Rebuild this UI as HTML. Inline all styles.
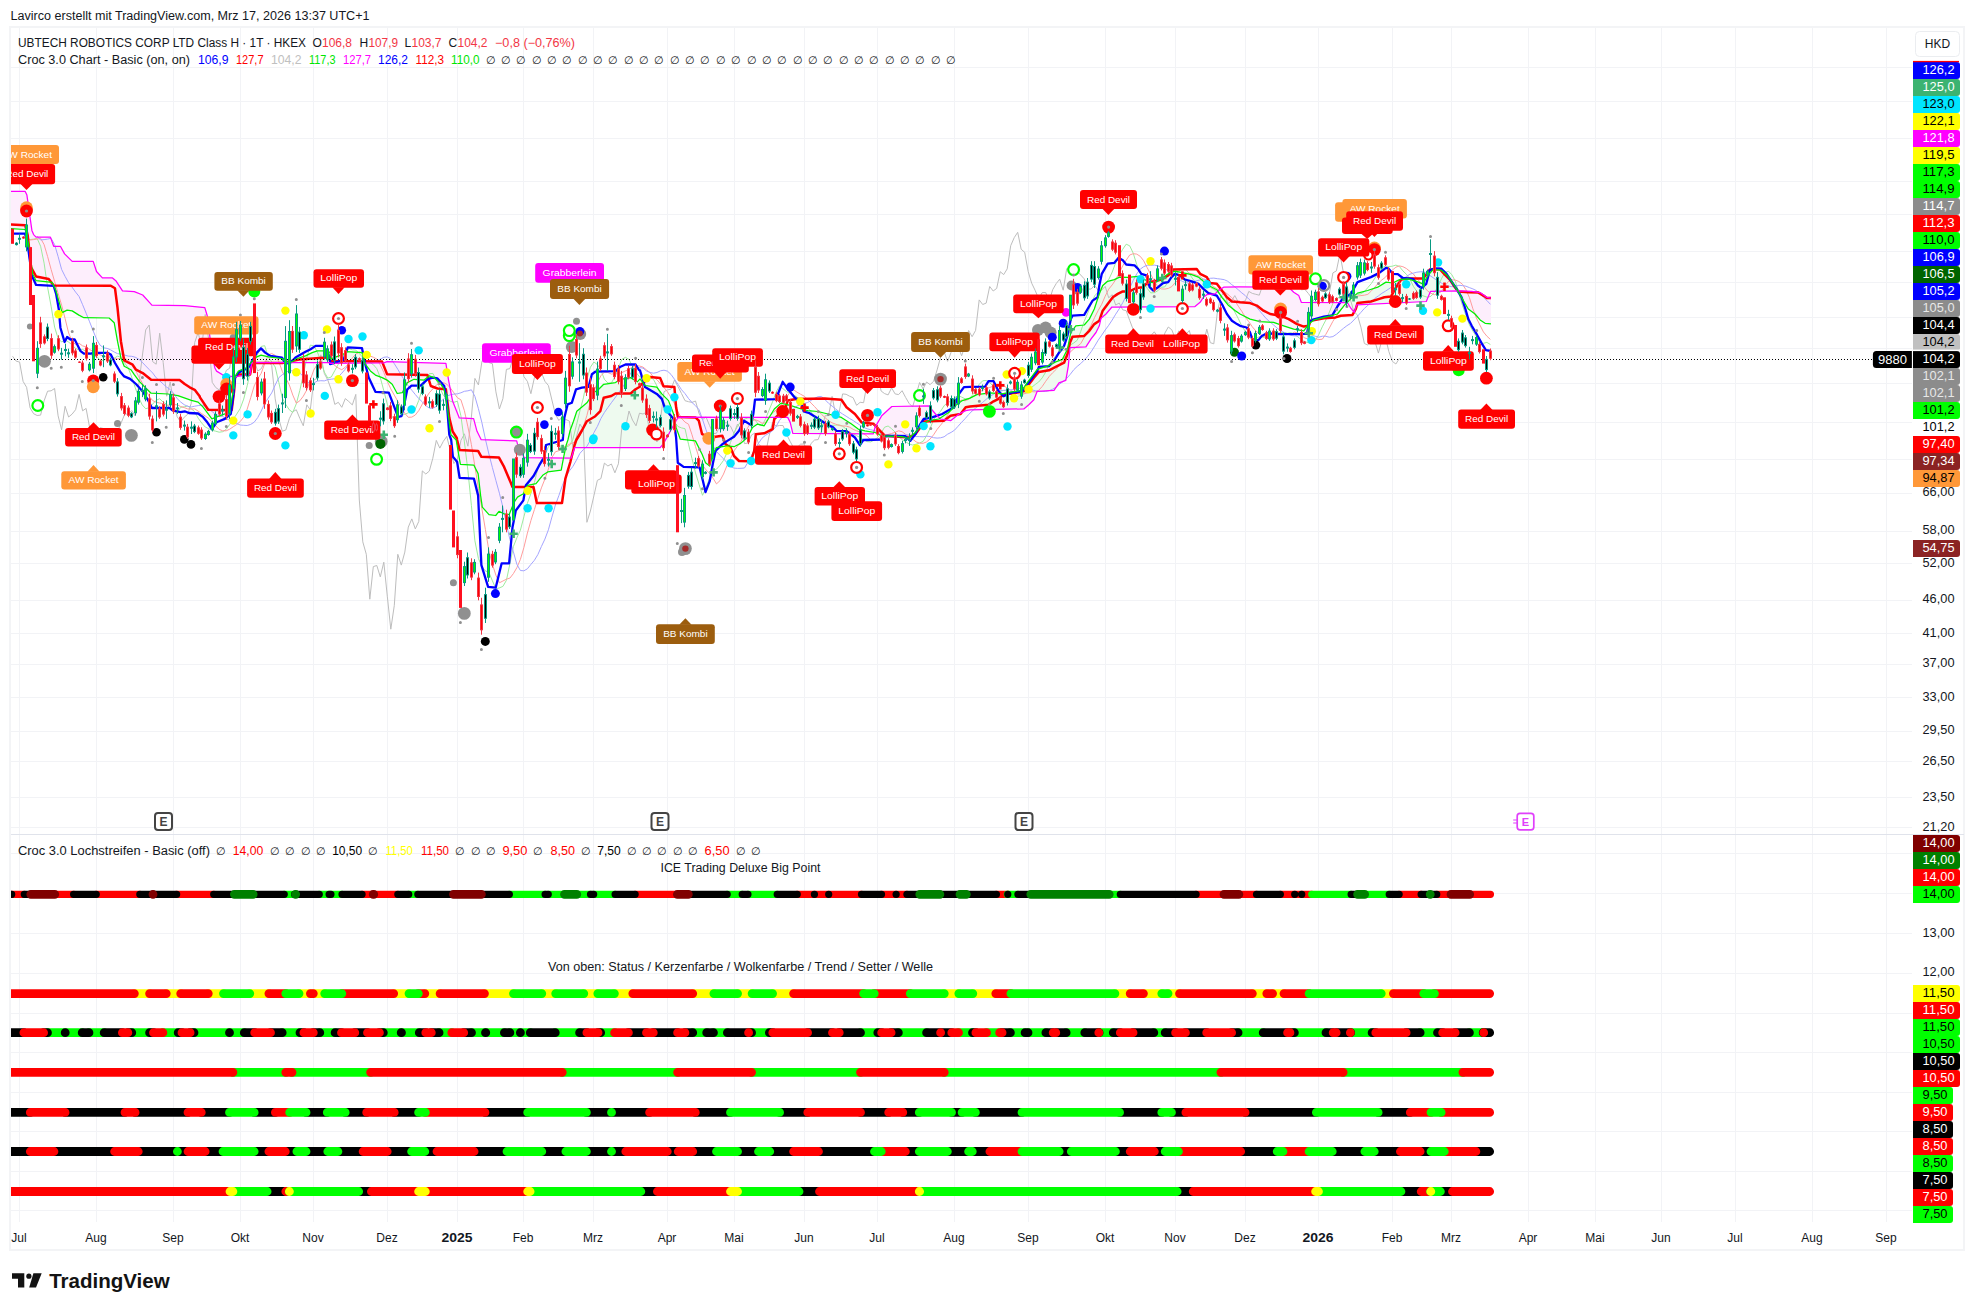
<!DOCTYPE html>
<html><head><meta charset="utf-8"><title>chart</title>
<style>html,body{margin:0;padding:0;background:#fff;}body{width:1974px;height:1311px;overflow:hidden;font-family:"Liberation Sans",sans-serif;}svg{display:block}text{font-family:"Liberation Sans",sans-serif}</style>
</head><body>
<svg width="1974" height="1311" viewBox="0 0 1974 1311">
<rect x="0" y="0" width="1974" height="1311" fill="#fff"/>
<rect x="10" y="27" width="1954" height="1223" fill="#fff" stroke="#f3f4f6" stroke-width="2"/>
<line x1="19.5" y1="28" x2="19.5" y2="1222" stroke="#f2f3f6" stroke-width="1"/>
<line x1="96.5" y1="28" x2="96.5" y2="1222" stroke="#f2f3f6" stroke-width="1"/>
<line x1="173.5" y1="28" x2="173.5" y2="1222" stroke="#f2f3f6" stroke-width="1"/>
<line x1="240.5" y1="28" x2="240.5" y2="1222" stroke="#f2f3f6" stroke-width="1"/>
<line x1="313.5" y1="28" x2="313.5" y2="1222" stroke="#f2f3f6" stroke-width="1"/>
<line x1="387.5" y1="28" x2="387.5" y2="1222" stroke="#f2f3f6" stroke-width="1"/>
<line x1="457.5" y1="28" x2="457.5" y2="1222" stroke="#f2f3f6" stroke-width="1"/>
<line x1="523.5" y1="28" x2="523.5" y2="1222" stroke="#f2f3f6" stroke-width="1"/>
<line x1="593.5" y1="28" x2="593.5" y2="1222" stroke="#f2f3f6" stroke-width="1"/>
<line x1="667.5" y1="28" x2="667.5" y2="1222" stroke="#f2f3f6" stroke-width="1"/>
<line x1="734.5" y1="28" x2="734.5" y2="1222" stroke="#f2f3f6" stroke-width="1"/>
<line x1="804.5" y1="28" x2="804.5" y2="1222" stroke="#f2f3f6" stroke-width="1"/>
<line x1="877.5" y1="28" x2="877.5" y2="1222" stroke="#f2f3f6" stroke-width="1"/>
<line x1="954.5" y1="28" x2="954.5" y2="1222" stroke="#f2f3f6" stroke-width="1"/>
<line x1="1028.5" y1="28" x2="1028.5" y2="1222" stroke="#f2f3f6" stroke-width="1"/>
<line x1="1105.5" y1="28" x2="1105.5" y2="1222" stroke="#f2f3f6" stroke-width="1"/>
<line x1="1175.5" y1="28" x2="1175.5" y2="1222" stroke="#f2f3f6" stroke-width="1"/>
<line x1="1245.5" y1="28" x2="1245.5" y2="1222" stroke="#f2f3f6" stroke-width="1"/>
<line x1="1318.5" y1="28" x2="1318.5" y2="1222" stroke="#f2f3f6" stroke-width="1"/>
<line x1="1392.5" y1="28" x2="1392.5" y2="1222" stroke="#f2f3f6" stroke-width="1"/>
<line x1="1451.5" y1="28" x2="1451.5" y2="1222" stroke="#f2f3f6" stroke-width="1"/>
<line x1="1528.5" y1="28" x2="1528.5" y2="1222" stroke="#f2f3f6" stroke-width="1"/>
<line x1="1595.5" y1="28" x2="1595.5" y2="1222" stroke="#f2f3f6" stroke-width="1"/>
<line x1="1661.5" y1="28" x2="1661.5" y2="1222" stroke="#f2f3f6" stroke-width="1"/>
<line x1="1735.5" y1="28" x2="1735.5" y2="1222" stroke="#f2f3f6" stroke-width="1"/>
<line x1="1812.5" y1="28" x2="1812.5" y2="1222" stroke="#f2f3f6" stroke-width="1"/>
<line x1="1886.5" y1="28" x2="1886.5" y2="1222" stroke="#f2f3f6" stroke-width="1"/>
<line x1="11" y1="67.5" x2="1912" y2="67.5" stroke="#f2f3f6" stroke-width="1"/>
<line x1="11" y1="101.5" x2="1912" y2="101.5" stroke="#f2f3f6" stroke-width="1"/>
<line x1="11" y1="138.5" x2="1912" y2="138.5" stroke="#f2f3f6" stroke-width="1"/>
<line x1="11" y1="181.5" x2="1912" y2="181.5" stroke="#f2f3f6" stroke-width="1"/>
<line x1="11" y1="214.5" x2="1912" y2="214.5" stroke="#f2f3f6" stroke-width="1"/>
<line x1="11" y1="251.5" x2="1912" y2="251.5" stroke="#f2f3f6" stroke-width="1"/>
<line x1="11" y1="282.5" x2="1912" y2="282.5" stroke="#f2f3f6" stroke-width="1"/>
<line x1="11" y1="317.5" x2="1912" y2="317.5" stroke="#f2f3f6" stroke-width="1"/>
<line x1="11" y1="348.5" x2="1912" y2="348.5" stroke="#f2f3f6" stroke-width="1"/>
<line x1="11" y1="383.5" x2="1912" y2="383.5" stroke="#f2f3f6" stroke-width="1"/>
<line x1="11" y1="422.5" x2="1912" y2="422.5" stroke="#f2f3f6" stroke-width="1"/>
<line x1="11" y1="459.5" x2="1912" y2="459.5" stroke="#f2f3f6" stroke-width="1"/>
<line x1="11" y1="493.5" x2="1912" y2="493.5" stroke="#f2f3f6" stroke-width="1"/>
<line x1="11" y1="531.5" x2="1912" y2="531.5" stroke="#f2f3f6" stroke-width="1"/>
<line x1="11" y1="563.5" x2="1912" y2="563.5" stroke="#f2f3f6" stroke-width="1"/>
<line x1="11" y1="600.5" x2="1912" y2="600.5" stroke="#f2f3f6" stroke-width="1"/>
<line x1="11" y1="633.5" x2="1912" y2="633.5" stroke="#f2f3f6" stroke-width="1"/>
<line x1="11" y1="664.5" x2="1912" y2="664.5" stroke="#f2f3f6" stroke-width="1"/>
<line x1="11" y1="697.5" x2="1912" y2="697.5" stroke="#f2f3f6" stroke-width="1"/>
<line x1="11" y1="731.5" x2="1912" y2="731.5" stroke="#f2f3f6" stroke-width="1"/>
<line x1="11" y1="761.5" x2="1912" y2="761.5" stroke="#f2f3f6" stroke-width="1"/>
<line x1="11" y1="797.5" x2="1912" y2="797.5" stroke="#f2f3f6" stroke-width="1"/>
<line x1="11" y1="827.5" x2="1912" y2="827.5" stroke="#f2f3f6" stroke-width="1"/>
<line x1="11" y1="853.5" x2="1912" y2="853.5" stroke="#f2f3f6" stroke-width="1"/>
<line x1="11" y1="893.5" x2="1912" y2="893.5" stroke="#f2f3f6" stroke-width="1"/>
<line x1="11" y1="933.5" x2="1912" y2="933.5" stroke="#f2f3f6" stroke-width="1"/>
<line x1="11" y1="973.5" x2="1912" y2="973.5" stroke="#f2f3f6" stroke-width="1"/>
<line x1="11" y1="1013.5" x2="1912" y2="1013.5" stroke="#f2f3f6" stroke-width="1"/>
<line x1="11" y1="1052.5" x2="1912" y2="1052.5" stroke="#f2f3f6" stroke-width="1"/>
<line x1="11" y1="1092.5" x2="1912" y2="1092.5" stroke="#f2f3f6" stroke-width="1"/>
<line x1="11" y1="1131.5" x2="1912" y2="1131.5" stroke="#f2f3f6" stroke-width="1"/>
<line x1="11" y1="1171.5" x2="1912" y2="1171.5" stroke="#f2f3f6" stroke-width="1"/>
<line x1="11" y1="1210.5" x2="1912" y2="1210.5" stroke="#f2f3f6" stroke-width="1"/>
<line x1="11" y1="834.5" x2="1964" y2="834.5" stroke="#e0e3eb" stroke-width="1"/>
<defs><clipPath id="clipL"><rect x="11" y="835" width="1901" height="387"/></clipPath><clipPath id="clipM"><rect x="11" y="28" width="1901" height="806"/></clipPath></defs>
<g clip-path="url(#clipM)"><polygon points="10.0,191.4 11.0,191.4 12.0,191.4 13.0,191.4 14.0,191.4 15.0,191.4 16.0,191.4 17.0,191.4 18.0,191.4 19.0,191.4 20.0,191.4 21.0,191.4 22.0,191.4 23.0,191.4 24.0,191.4 25.0,191.4 26.0,193.2 27.0,196.1 28.0,203.1 29.0,210.1 30.0,217.1 31.0,224.1 32.0,230.6 33.0,233.1 34.0,235.0 35.0,236.0 36.0,237.0 37.0,237.1 38.0,237.1 39.0,237.1 40.0,237.1 41.0,237.1 42.0,237.1 43.0,237.1 44.0,237.1 45.0,237.1 46.0,237.1 47.0,237.1 48.0,237.1 49.0,237.1 50.0,237.1 51.0,238.8 52.0,241.6 53.0,244.3 54.0,246.3 55.0,246.3 56.0,246.3 57.0,246.3 58.0,246.3 59.0,246.3 60.0,246.3 61.0,247.3 62.0,249.1 63.0,250.9 64.0,252.7 65.0,254.2 66.0,255.2 67.0,256.2 68.0,257.2 69.0,258.2 70.0,259.2 71.0,260.2 72.0,261.2 73.0,261.4 74.0,261.4 75.0,261.4 76.0,261.4 77.0,261.4 78.0,261.4 79.0,261.4 80.0,261.4 81.0,261.4 82.0,261.4 83.0,261.4 84.0,261.4 85.0,261.4 86.0,261.4 87.0,261.4 88.0,261.4 89.0,261.4 90.0,261.4 91.0,261.4 92.0,261.4 93.0,261.4 94.0,263.9 95.0,266.9 96.0,269.9 97.0,272.0 98.0,273.1 99.0,274.2 100.0,275.3 101.0,276.3 102.0,277.4 103.0,277.9 104.0,277.9 105.0,277.9 106.0,277.9 107.0,277.9 108.0,277.9 109.0,277.9 110.0,277.9 111.0,277.9 112.0,277.9 113.0,278.3 114.0,279.2 115.0,280.0 116.0,281.0 117.0,282.5 118.0,284.0 119.0,285.5 120.0,287.0 121.0,288.5 122.0,290.0 123.0,290.8 124.0,290.9 125.0,291.0 126.0,291.0 127.0,291.1 128.0,291.2 129.0,291.3 130.0,291.3 131.0,291.4 132.0,291.5 133.0,291.5 134.0,291.6 135.0,291.9 136.0,292.3 137.0,292.7 138.0,293.1 139.0,293.5 140.0,293.9 141.0,294.3 142.0,294.7 143.0,295.3 144.0,296.4 145.0,297.5 146.0,298.6 147.0,299.7 148.0,300.8 149.0,301.9 150.0,303.0 151.0,304.1 152.0,305.1 153.0,305.1 154.0,305.1 155.0,305.1 156.0,305.1 157.0,305.1 158.0,305.2 159.0,305.2 160.0,305.2 161.0,305.2 162.0,305.2 163.0,305.2 164.0,305.2 165.0,305.3 166.0,305.3 167.0,305.3 168.0,305.3 169.0,305.3 170.0,305.3 171.0,305.4 172.0,305.4 173.0,305.4 174.0,305.4 175.0,305.4 176.0,305.4 177.0,305.4 178.0,305.5 179.0,305.5 180.0,305.5 181.0,305.5 182.0,305.5 183.0,305.5 184.0,305.6 185.0,305.6 186.0,305.7 187.0,305.8 188.0,305.9 189.0,306.0 190.0,306.1 191.0,306.2 192.0,306.3 193.0,306.4 194.0,306.5 195.0,306.6 196.0,306.7 197.0,306.8 198.0,306.9 199.0,307.0 200.0,307.1 201.0,307.2 202.0,307.3 203.0,307.4 204.0,307.5 205.0,308.2 206.0,311.6 207.0,314.9 208.0,321.4 209.0,329.4 210.0,337.4 211.0,345.4 212.0,353.4 213.0,359.3 214.0,363.9 215.0,368.2 216.0,370.1 217.0,371.3 218.0,372.0 219.0,372.6 220.0,373.2 221.0,373.8 222.0,374.5 223.0,375.1 224.0,375.4 225.0,375.5 226.0,375.6 227.0,375.8 228.0,375.9 229.0,376.1 230.0,376.2 231.0,376.4 232.0,376.5 233.0,376.6 234.0,376.8 235.0,376.9 236.0,376.8 236.0,375.2 235.0,377.1 234.0,384.4 233.0,391.7 232.0,398.4 231.0,404.4 230.0,410.4 229.0,411.2 228.0,411.8 227.0,412.5 226.0,413.2 225.0,413.8 224.0,414.2 223.0,414.6 222.0,415.0 221.0,415.3 220.0,415.7 219.0,416.1 218.0,416.5 217.0,416.9 216.0,417.3 215.0,417.7 214.0,418.1 213.0,418.4 212.0,418.8 211.0,417.7 210.0,416.4 209.0,415.0 208.0,413.7 207.0,412.3 206.0,411.0 205.0,409.7 204.0,408.3 203.0,407.0 202.0,406.0 201.0,405.0 200.0,404.0 199.0,403.0 198.0,402.1 197.0,401.8 196.0,401.6 195.0,401.3 194.0,401.1 193.0,400.8 192.0,400.6 191.0,400.3 190.0,400.0 189.0,399.6 188.0,399.2 187.0,398.9 186.0,398.5 185.0,398.2 184.0,397.8 183.0,397.5 182.0,397.1 181.0,396.8 180.0,396.4 179.0,396.1 178.0,395.7 177.0,395.6 176.0,395.4 175.0,395.2 174.0,395.1 173.0,394.9 172.0,394.7 171.0,394.6 170.0,394.4 169.0,394.2 168.0,394.1 167.0,394.0 166.0,393.9 165.0,393.9 164.0,393.8 163.0,393.8 162.0,393.7 161.0,393.7 160.0,393.6 159.0,393.6 158.0,393.5 157.0,393.5 156.0,393.4 155.0,393.4 154.0,393.3 153.0,393.3 152.0,393.2 151.0,393.1 150.0,392.1 149.0,391.1 148.0,390.1 147.0,389.1 146.0,388.1 145.0,387.1 144.0,386.1 143.0,385.1 142.0,384.1 141.0,383.1 140.0,382.1 139.0,381.0 138.0,379.7 137.0,378.3 136.0,377.0 135.0,375.7 134.0,374.3 133.0,372.8 132.0,371.3 131.0,369.8 130.0,369.2 129.0,368.7 128.0,368.2 127.0,367.7 126.0,367.2 125.0,366.7 124.0,365.8 123.0,363.3 122.0,360.8 121.0,358.3 120.0,353.6 119.0,348.6 118.0,343.6 117.0,338.4 116.0,332.9 115.0,327.4 114.0,322.5 113.0,321.6 112.0,320.7 111.0,319.7 110.0,318.8 109.0,318.0 108.0,318.0 107.0,318.0 106.0,317.9 105.0,317.9 104.0,317.9 103.0,317.9 102.0,317.9 101.0,317.9 100.0,317.9 99.0,317.9 98.0,317.8 97.0,317.8 96.0,317.8 95.0,317.8 94.0,317.8 93.0,317.8 92.0,317.8 91.0,317.7 90.0,317.7 89.0,317.7 88.0,317.7 87.0,317.7 86.0,317.7 85.0,317.7 84.0,317.7 83.0,317.2 82.0,316.7 81.0,316.2 80.0,315.7 79.0,315.2 78.0,314.6 77.0,313.9 76.0,313.3 75.0,312.7 74.0,312.1 73.0,311.4 72.0,310.9 71.0,310.7 70.0,310.6 69.0,310.4 68.0,310.2 67.0,310.2 66.0,310.7 65.0,311.2 64.0,311.7 63.0,312.2 62.0,312.2 61.0,308.7 60.0,305.2 59.0,301.7 58.0,298.2 57.0,294.7 56.0,291.2 55.0,288.3 54.0,286.3 53.0,284.3 52.0,282.4 51.0,282.3 50.0,282.2 49.0,282.1 48.0,282.0 47.0,281.9 46.0,281.8 45.0,281.7 44.0,281.6 43.0,281.4 42.0,281.3 41.0,281.2 40.0,281.1 39.0,281.0 38.0,280.9 37.0,280.8 36.0,280.5 35.0,278.5 34.0,276.5 33.0,274.5 32.0,268.7 31.0,261.5 30.0,254.3 29.0,247.1 28.0,241.5 27.0,237.3 26.0,233.0 25.0,229.5 24.0,229.5 23.0,229.4 22.0,229.3 21.0,229.3 20.0,229.2 19.0,229.2 18.0,229.1 17.0,229.1 16.0,229.0 15.0,229.0 14.0,228.9 13.0,228.8 12.0,228.8 11.0,228.7 10.0,228.7" fill="#fdeefc"/>
<polygon points="236.0,376.8 237.0,376.6 238.0,376.4 239.0,376.3 240.0,376.1 241.0,375.9 242.0,375.8 243.0,375.6 244.0,375.4 245.0,375.3 246.0,375.1 247.0,374.9 248.0,374.8 249.0,374.6 250.0,374.4 251.0,368.3 252.0,362.7 253.0,362.7 254.0,362.7 255.0,362.7 256.0,362.7 257.0,362.7 258.0,362.7 259.0,362.7 260.0,362.7 261.0,362.7 262.0,362.7 263.0,362.7 264.0,362.7 265.0,362.7 266.0,362.7 267.0,362.7 268.0,362.7 269.0,362.7 270.0,362.7 271.0,362.7 272.0,362.7 273.0,362.7 274.0,362.7 275.0,362.7 276.0,362.7 277.0,362.7 278.0,362.7 279.0,362.7 280.0,362.7 281.0,362.7 282.0,362.7 283.0,362.7 284.0,362.7 285.0,362.7 286.0,362.7 287.0,362.7 288.0,362.7 289.0,362.7 290.0,362.7 291.0,362.7 292.0,362.7 293.0,362.7 294.0,362.7 295.0,362.7 296.0,362.7 297.0,362.7 298.0,362.7 299.0,362.7 300.0,362.7 301.0,362.7 302.0,362.7 303.0,362.7 304.0,362.7 305.0,362.7 306.0,362.7 307.0,362.7 308.0,362.7 309.0,362.7 310.0,362.7 311.0,362.7 312.0,362.7 313.0,362.7 314.0,362.7 315.0,362.7 316.0,362.7 317.0,362.7 318.0,362.7 319.0,362.7 320.0,362.7 321.0,362.7 322.0,362.7 323.0,362.7 324.0,362.7 325.0,362.7 326.0,362.7 327.0,362.7 328.0,362.7 329.0,362.7 330.0,362.7 331.0,363.3 332.0,363.3 333.0,363.3 334.0,363.3 335.0,363.3 336.0,363.3 337.0,363.2 338.0,363.2 339.0,363.2 340.0,363.2 341.0,363.2 342.0,363.2 343.0,363.2 344.0,363.2 345.0,363.2 346.0,363.2 347.0,363.2 348.0,363.1 349.0,363.1 350.0,363.1 351.0,363.1 352.0,363.1 353.0,363.1 354.0,363.1 355.0,363.1 356.0,363.1 357.0,363.1 358.0,363.1 359.0,363.0 360.0,363.0 361.0,363.0 362.0,363.0 363.0,363.0 364.0,363.0 365.0,363.0 365.0,363.0 364.0,359.6 363.0,356.2 362.0,352.8 361.0,352.7 360.0,352.6 359.0,352.5 358.0,352.4 357.0,352.3 356.0,352.3 355.0,352.2 354.0,352.1 353.0,352.0 352.0,352.0 351.0,351.9 350.0,351.8 349.0,351.7 348.0,351.6 347.0,351.6 346.0,352.2 345.0,353.0 344.0,353.7 343.0,354.3 342.0,354.6 341.0,355.0 340.0,355.4 339.0,355.8 338.0,356.1 337.0,356.5 336.0,356.9 335.0,357.3 334.0,357.6 333.0,358.0 332.0,358.4 331.0,358.8 330.0,352.6 329.0,351.9 328.0,351.3 327.0,350.9 326.0,350.9 325.0,350.9 324.0,350.9 323.0,350.9 322.0,350.9 321.0,350.9 320.0,350.9 319.0,350.9 318.0,350.9 317.0,351.0 316.0,351.3 315.0,351.7 314.0,352.0 313.0,352.3 312.0,352.7 311.0,353.2 310.0,353.7 309.0,354.2 308.0,354.7 307.0,355.2 306.0,355.7 305.0,356.1 304.0,356.4 303.0,356.7 302.0,357.0 301.0,357.3 300.0,357.6 299.0,357.9 298.0,358.2 297.0,358.6 296.0,359.2 295.0,359.9 294.0,360.6 293.0,361.2 292.0,361.8 291.0,361.8 290.0,361.8 289.0,361.8 288.0,361.8 287.0,361.8 286.0,361.8 285.0,361.4 284.0,360.4 283.0,359.4 282.0,358.5 281.0,358.3 280.0,358.2 279.0,358.1 278.0,358.0 277.0,357.8 276.0,357.7 275.0,357.6 274.0,357.5 273.0,357.3 272.0,357.2 271.0,357.1 270.0,357.0 269.0,356.8 268.0,356.7 267.0,356.4 266.0,356.2 265.0,356.0 264.0,355.8 263.0,355.5 262.0,355.3 261.0,355.1 260.0,355.5 259.0,355.9 258.0,356.3 257.0,356.7 256.0,357.6 255.0,358.6 254.0,359.6 253.0,360.6 252.0,361.6 251.0,362.8 250.0,363.9 249.0,365.1 248.0,366.3 247.0,367.4 246.0,368.0 245.0,368.4 244.0,368.8 243.0,369.2 242.0,369.6 241.0,370.0 240.0,370.4 239.0,370.8 238.0,371.7 237.0,373.5 236.0,375.2" fill="#eefaef"/>
<polygon points="365.0,363.0 366.0,363.0 367.0,363.0 368.0,363.0 369.0,362.9 370.0,362.9 371.0,362.9 372.0,362.9 373.0,362.9 374.0,362.9 375.0,362.9 376.0,362.9 377.0,362.9 378.0,362.9 379.0,362.9 380.0,362.8 381.0,362.8 382.0,362.8 383.0,362.8 384.0,362.7 385.0,362.4 386.0,362.0 387.0,361.7 388.0,361.7 389.0,361.7 390.0,361.7 391.0,361.7 392.0,361.8 393.0,361.8 394.0,361.8 395.0,361.9 396.0,361.9 397.0,361.9 398.0,361.9 399.0,362.0 400.0,362.0 401.0,362.0 402.0,362.1 403.0,362.1 404.0,362.1 405.0,362.1 406.0,362.2 407.0,362.2 408.0,362.2 409.0,362.3 410.0,362.3 411.0,362.3 412.0,362.3 413.0,362.4 414.0,362.4 415.0,362.4 416.0,362.5 417.0,362.5 418.0,362.5 419.0,362.5 420.0,362.6 421.0,362.6 422.0,362.6 423.0,362.7 424.0,362.7 425.0,362.7 426.0,362.7 427.0,362.8 428.0,362.8 429.0,362.8 430.0,362.9 431.0,362.9 432.0,362.9 433.0,362.9 434.0,363.0 435.0,363.0 436.0,363.0 437.0,363.1 438.0,363.1 439.0,363.1 440.0,363.1 441.0,363.2 442.0,363.2 443.0,363.2 444.0,363.3 445.0,363.3 446.0,363.9 447.0,370.3 448.0,376.6 449.0,382.3 450.0,387.5 451.0,392.7 452.0,397.9 453.0,402.0 454.0,404.5 455.0,407.0 456.0,409.5 457.0,412.0 458.0,414.5 459.0,417.0 460.0,417.9 461.0,418.0 462.0,418.0 463.0,418.1 464.0,418.1 465.0,418.2 466.0,418.3 467.0,418.3 468.0,418.4 469.0,418.4 470.0,418.5 471.0,418.6 472.0,418.6 473.0,418.7 474.0,420.2 475.0,424.0 476.0,427.7 477.0,431.4 478.0,433.4 479.0,435.4 480.0,437.4 481.0,439.4 482.0,439.7 483.0,439.8 484.0,439.8 485.0,439.8 486.0,439.8 487.0,439.9 488.0,439.9 489.0,439.9 490.0,440.0 491.0,440.0 492.0,440.0 493.0,440.1 494.0,440.1 495.0,440.1 496.0,440.2 497.0,440.2 498.0,440.2 499.0,440.3 500.0,440.3 501.0,440.3 502.0,440.4 503.0,440.4 504.0,440.4 505.0,440.5 506.0,440.5 507.0,440.5 508.0,440.6 509.0,440.6 510.0,440.6 511.0,440.7 512.0,440.7 513.0,440.7 514.0,440.8 515.0,440.8 516.0,440.8 517.0,442.2 518.0,445.2 519.0,447.2 520.0,449.2 521.0,451.2 522.0,453.2 523.0,455.2 524.0,457.2 525.0,457.6 526.0,457.6 527.0,457.7 528.0,457.7 529.0,457.7 530.0,457.7 531.0,457.7 532.0,457.7 533.0,457.7 534.0,457.7 535.0,457.7 536.0,457.8 537.0,457.8 538.0,457.8 539.0,457.8 540.0,457.8 541.0,457.8 542.0,457.8 543.0,457.8 544.0,457.8 545.0,457.8 546.0,457.9 547.0,457.9 548.0,457.9 549.0,457.9 550.0,457.9 551.0,457.9 552.0,457.9 553.0,457.9 554.0,457.9 555.0,458.0 556.0,458.0 557.0,458.0 558.0,458.0 559.0,458.0 560.0,458.0 561.0,458.0 562.0,458.0 563.0,458.0 564.0,458.1 564.0,455.3 563.0,460.4 562.0,465.7 561.0,470.2 560.0,470.4 559.0,470.5 558.0,470.6 557.0,470.7 556.0,470.9 555.0,471.0 554.0,471.1 553.0,471.2 552.0,471.4 551.0,471.5 550.0,471.6 549.0,471.7 548.0,471.9 547.0,472.4 546.0,473.0 545.0,473.7 544.0,474.4 543.0,475.0 542.0,476.1 541.0,477.4 540.0,478.6 539.0,479.9 538.0,481.1 537.0,482.4 536.0,483.6 535.0,483.8 534.0,484.0 533.0,484.2 532.0,484.4 531.0,484.6 530.0,484.8 529.0,485.0 528.0,485.2 527.0,486.5 526.0,488.5 525.0,490.5 524.0,492.5 523.0,493.9 522.0,494.5 521.0,495.1 520.0,495.7 519.0,496.2 518.0,496.8 517.0,497.8 516.0,499.3 515.0,500.8 514.0,502.5 513.0,505.0 512.0,507.5 511.0,510.0 510.0,512.5 509.0,514.7 508.0,514.5 507.0,514.3 506.0,514.2 505.0,514.0 504.0,513.8 503.0,513.3 502.0,512.8 501.0,512.3 500.0,511.8 499.0,511.4 498.0,512.6 497.0,513.9 496.0,515.1 495.0,515.5 494.0,515.3 493.0,515.2 492.0,515.1 491.0,515.0 490.0,514.8 489.0,514.7 488.0,513.6 487.0,512.5 486.0,511.4 485.0,510.2 484.0,509.1 483.0,508.0 482.0,505.4 481.0,498.4 480.0,490.4 479.0,481.7 478.0,473.5 477.0,471.5 476.0,469.5 475.0,467.5 474.0,465.5 473.0,465.1 472.0,465.1 471.0,465.0 470.0,464.9 469.0,464.9 468.0,464.8 467.0,464.8 466.0,464.7 465.0,464.6 464.0,464.6 463.0,464.5 462.0,464.4 461.0,464.4 460.0,461.9 459.0,456.2 458.0,450.6 457.0,444.6 456.0,439.8 455.0,438.8 454.0,437.7 453.0,436.7 452.0,435.7 451.0,434.7 450.0,427.6 449.0,420.1 448.0,412.6 447.0,406.0 446.0,400.0 445.0,394.0 444.0,389.0 443.0,387.5 442.0,386.0 441.0,384.5 440.0,383.4 439.0,382.4 438.0,381.4 437.0,380.4 436.0,379.4 435.0,378.4 434.0,377.5 433.0,377.2 432.0,376.9 431.0,376.5 430.0,376.2 429.0,376.0 428.0,376.8 427.0,377.7 426.0,378.5 425.0,379.3 424.0,380.1 423.0,380.0 422.0,379.9 421.0,379.8 420.0,379.8 419.0,379.7 418.0,379.6 417.0,379.5 416.0,379.4 415.0,379.3 414.0,379.3 413.0,379.8 412.0,380.3 411.0,380.8 410.0,381.3 409.0,381.8 408.0,382.3 407.0,383.2 406.0,385.2 405.0,387.2 404.0,389.2 403.0,391.2 402.0,392.7 401.0,392.9 400.0,393.1 399.0,393.2 398.0,393.4 397.0,393.1 396.0,391.3 395.0,389.5 394.0,387.6 393.0,385.8 392.0,384.1 391.0,383.3 390.0,382.5 389.0,381.6 388.0,380.8 387.0,380.0 386.0,379.5 385.0,379.0 384.0,378.5 383.0,378.0 382.0,377.5 381.0,377.2 380.0,376.8 379.0,376.4 378.0,376.0 377.0,375.7 376.0,375.3 375.0,374.7 374.0,373.9 373.0,373.1 372.0,372.2 371.0,371.4 370.0,370.4 369.0,369.1 368.0,367.7 367.0,366.4 366.0,365.1 365.0,363.0" fill="#fdeefc"/>
<polygon points="564.0,458.1 565.0,458.1 566.0,458.1 567.0,458.1 568.0,458.1 569.0,458.1 570.0,458.1 571.0,458.1 572.0,455.7 573.0,452.5 574.0,449.4 575.0,447.6 576.0,447.6 577.0,447.6 578.0,447.6 579.0,447.6 580.0,447.6 581.0,447.6 582.0,447.6 583.0,447.6 584.0,447.6 585.0,447.6 586.0,447.6 587.0,447.6 588.0,447.6 589.0,447.6 590.0,447.6 591.0,447.6 592.0,447.6 593.0,447.6 594.0,447.6 595.0,447.6 596.0,447.6 597.0,447.6 598.0,447.6 599.0,447.6 600.0,447.6 601.0,447.6 602.0,447.6 603.0,447.6 604.0,447.6 605.0,447.6 606.0,447.6 607.0,447.6 608.0,447.6 609.0,447.6 610.0,447.6 611.0,447.6 612.0,447.6 613.0,447.6 614.0,447.6 615.0,447.6 616.0,447.6 617.0,447.6 618.0,447.6 619.0,447.6 620.0,447.6 621.0,447.6 622.0,447.6 623.0,447.6 624.0,447.6 625.0,447.6 626.0,447.6 627.0,447.6 628.0,447.6 629.0,447.6 630.0,447.6 631.0,447.6 632.0,447.6 633.0,447.6 634.0,447.6 635.0,447.6 636.0,447.6 637.0,447.6 638.0,447.6 639.0,447.6 640.0,447.6 641.0,447.6 642.0,447.6 643.0,447.6 644.0,447.6 645.0,447.6 646.0,447.6 647.0,447.6 648.0,447.6 649.0,447.6 650.0,447.6 651.0,447.6 652.0,447.6 653.0,447.6 654.0,447.6 655.0,447.6 656.0,447.6 657.0,447.6 658.0,447.6 659.0,447.6 660.0,447.6 661.0,446.6 662.0,445.3 663.0,444.1 664.0,442.6 665.0,440.7 666.0,438.9 667.0,437.1 668.0,435.3 669.0,433.5 670.0,431.7 671.0,429.9 672.0,428.1 673.0,426.3 674.0,424.5 675.0,422.7 676.0,420.9 676.0,426.9 675.0,421.6 674.0,416.3 673.0,412.5 672.0,409.8 671.0,407.1 670.0,404.5 669.0,401.8 668.0,400.0 667.0,399.0 666.0,398.0 665.0,397.0 664.0,396.0 663.0,395.0 662.0,394.0 661.0,392.8 660.0,391.4 659.0,390.1 658.0,388.8 657.0,387.4 656.0,387.0 655.0,386.9 654.0,386.7 653.0,386.6 652.0,386.5 651.0,386.3 650.0,386.2 649.0,386.0 648.0,385.9 647.0,385.7 646.0,385.6 645.0,385.4 644.0,384.1 643.0,382.8 642.0,381.4 641.0,380.1 640.0,378.8 639.0,379.9 638.0,381.0 637.0,381.6 636.0,381.0 635.0,380.4 634.0,379.7 633.0,379.1 632.0,378.5 631.0,377.9 630.0,377.7 629.0,377.8 628.0,378.0 627.0,378.2 626.0,378.3 625.0,378.5 624.0,378.7 623.0,378.8 622.0,379.0 621.0,379.2 620.0,379.6 619.0,380.3 618.0,380.9 617.0,381.6 616.0,382.3 615.0,382.7 614.0,382.8 613.0,383.0 612.0,383.1 611.0,383.3 610.0,383.4 609.0,383.5 608.0,383.7 607.0,383.8 606.0,384.0 605.0,384.1 604.0,384.3 603.0,385.0 602.0,386.0 601.0,387.0 600.0,388.0 599.0,389.0 598.0,389.8 597.0,390.4 596.0,391.1 595.0,391.8 594.0,392.4 593.0,393.6 592.0,395.1 591.0,396.6 590.0,398.1 589.0,399.6 588.0,401.1 587.0,402.6 586.0,403.5 585.0,404.4 584.0,405.2 583.0,406.0 582.0,406.9 581.0,407.7 580.0,408.5 579.0,409.4 578.0,410.2 577.0,411.0 576.0,413.7 575.0,416.7 574.0,419.7 573.0,422.6 572.0,425.3 571.0,428.1 570.0,431.0 569.0,435.2 568.0,439.4 567.0,442.6 566.0,445.9 565.0,450.6 564.0,455.3" fill="#eefaef"/>
<polygon points="676.0,420.9 677.0,419.4 678.0,417.9 679.0,417.0 680.0,417.0 681.0,417.0 682.0,417.0 683.0,417.0 684.0,417.0 685.0,417.0 686.0,417.1 687.0,417.1 688.0,417.1 689.0,417.1 690.0,417.1 691.0,417.1 692.0,417.1 693.0,417.1 694.0,417.1 695.0,417.1 696.0,417.1 697.0,417.1 698.0,417.1 699.0,417.1 700.0,417.1 701.0,417.1 702.0,417.1 703.0,417.1 704.0,417.1 705.0,417.1 706.0,417.1 707.0,417.1 708.0,417.1 709.0,417.1 710.0,417.1 711.0,417.1 712.0,417.1 713.0,417.1 714.0,417.1 715.0,417.1 716.0,417.1 717.0,417.1 718.0,417.1 719.0,417.2 720.0,417.2 721.0,417.2 722.0,417.2 723.0,417.2 724.0,417.2 725.0,417.2 726.0,417.2 727.0,417.2 728.0,417.2 729.0,417.2 730.0,417.2 731.0,417.2 732.0,417.2 733.0,417.2 734.0,417.2 735.0,417.2 736.0,417.2 737.0,417.2 738.0,417.2 739.0,417.2 740.0,417.2 741.0,417.2 742.0,417.2 743.0,417.2 744.0,417.2 745.0,417.2 746.0,417.2 747.0,417.2 748.0,417.2 749.0,417.2 750.0,417.2 751.0,417.3 752.0,417.3 753.0,417.3 754.0,417.3 755.0,417.3 756.0,417.3 757.0,417.3 758.0,417.3 759.0,417.3 760.0,417.3 761.0,417.3 762.0,417.3 763.0,417.3 764.0,417.3 765.0,417.3 766.0,417.3 767.0,417.3 768.0,417.3 769.0,417.3 770.0,417.3 770.0,416.1 769.0,417.8 768.0,419.5 767.0,421.1 766.0,422.8 765.0,424.5 764.0,425.7 763.0,425.5 762.0,425.2 761.0,425.0 760.0,424.7 759.0,424.5 758.0,424.2 757.0,424.4 756.0,425.1 755.0,425.8 754.0,426.4 753.0,427.1 752.0,428.4 751.0,430.4 750.0,432.4 749.0,434.4 748.0,436.4 747.0,437.9 746.0,438.8 745.0,439.6 744.0,440.5 743.0,441.4 742.0,442.3 741.0,443.1 740.0,443.7 739.0,444.2 738.0,444.7 737.0,445.2 736.0,445.7 735.0,446.2 734.0,446.7 733.0,446.6 732.0,446.5 731.0,446.4 730.0,446.2 729.0,446.1 728.0,446.0 727.0,445.9 726.0,446.1 725.0,446.3 724.0,446.4 723.0,446.6 722.0,446.7 721.0,446.9 720.0,447.0 719.0,447.2 718.0,447.3 717.0,447.5 716.0,448.3 715.0,450.3 714.0,452.3 713.0,454.4 712.0,457.9 711.0,461.4 710.0,464.9 709.0,465.5 708.0,464.7 707.0,463.9 706.0,463.1 705.0,461.5 704.0,459.0 703.0,456.5 702.0,454.1 701.0,452.1 700.0,450.1 699.0,448.1 698.0,446.1 697.0,444.1 696.0,442.1 695.0,440.8 694.0,440.7 693.0,440.6 692.0,440.5 691.0,440.4 690.0,440.3 689.0,440.2 688.0,440.0 687.0,439.9 686.0,439.8 685.0,439.7 684.0,439.6 683.0,439.5 682.0,439.4 681.0,439.3 680.0,438.4 679.0,435.6 678.0,432.8 677.0,430.0 676.0,426.9" fill="#fdeefc"/>
<polygon points="770.0,417.3 771.0,417.3 772.0,417.3 773.0,417.3 774.0,417.3 775.0,417.3 776.0,417.3 777.0,417.3 778.0,417.3 779.0,417.3 780.0,417.3 781.0,417.3 782.0,417.3 783.0,417.3 784.0,417.4 785.0,417.4 786.0,417.4 787.0,417.4 788.0,417.9 789.0,419.9 790.0,421.9 791.0,425.7 792.0,430.0 793.0,433.3 794.0,433.3 795.0,433.3 796.0,433.3 797.0,433.3 798.0,433.3 799.0,433.4 800.0,433.4 801.0,433.4 802.0,433.4 803.0,433.4 804.0,433.4 805.0,433.4 806.0,433.4 807.0,433.4 808.0,433.4 809.0,433.4 810.0,433.4 811.0,433.4 812.0,433.4 813.0,433.4 814.0,433.4 815.0,433.5 816.0,433.5 817.0,433.5 818.0,433.5 819.0,433.5 820.0,433.5 821.0,433.5 822.0,433.5 823.0,433.5 824.0,433.5 825.0,433.5 826.0,433.5 827.0,433.5 828.0,433.5 829.0,433.5 830.0,433.5 831.0,433.6 832.0,433.6 833.0,433.6 834.0,433.6 835.0,433.6 836.0,433.6 837.0,433.6 838.0,433.6 839.0,433.6 840.0,433.6 841.0,433.6 842.0,433.6 843.0,433.6 844.0,433.6 845.0,433.6 846.0,433.6 847.0,433.7 848.0,433.7 849.0,433.7 850.0,433.7 851.0,433.7 852.0,433.7 853.0,433.7 854.0,433.7 855.0,433.7 856.0,433.7 857.0,433.7 858.0,433.7 859.0,433.7 860.0,433.7 861.0,433.7 862.0,433.7 863.0,433.8 864.0,433.8 865.0,433.8 866.0,433.8 867.0,433.8 868.0,433.8 869.0,433.8 870.0,433.8 871.0,433.8 872.0,433.8 873.0,433.8 874.0,431.3 874.0,432.3 873.0,432.1 872.0,432.0 871.0,431.8 870.0,431.6 869.0,431.5 868.0,431.3 867.0,431.1 866.0,431.0 865.0,430.8 864.0,430.6 863.0,430.3 862.0,430.1 861.0,429.8 860.0,429.6 859.0,429.3 858.0,428.9 857.0,428.2 856.0,427.4 855.0,426.7 854.0,425.9 853.0,425.2 852.0,424.4 851.0,423.7 850.0,423.1 849.0,422.4 848.0,421.7 847.0,421.1 846.0,420.4 845.0,419.7 844.0,419.1 843.0,418.4 842.0,417.7 841.0,417.3 840.0,417.0 839.0,416.8 838.0,416.5 837.0,416.3 836.0,416.0 835.0,415.8 834.0,415.5 833.0,415.3 832.0,415.0 831.0,414.8 830.0,414.5 829.0,414.3 828.0,414.0 827.0,413.8 826.0,413.5 825.0,413.3 824.0,413.0 823.0,412.8 822.0,412.5 821.0,412.3 820.0,412.0 819.0,411.8 818.0,411.5 817.0,411.4 816.0,411.3 815.0,411.2 814.0,411.2 813.0,411.1 812.0,411.0 811.0,410.9 810.0,410.8 809.0,410.7 808.0,410.7 807.0,410.4 806.0,410.2 805.0,409.9 804.0,409.7 803.0,409.4 802.0,409.2 801.0,408.9 800.0,408.6 799.0,408.3 798.0,407.9 797.0,407.6 796.0,407.3 795.0,406.9 794.0,406.6 793.0,406.3 792.0,405.9 791.0,405.6 790.0,405.3 789.0,405.1 788.0,404.8 787.0,404.6 786.0,404.3 785.0,404.1 784.0,403.8 783.0,403.6 782.0,403.3 781.0,403.1 780.0,404.0 779.0,404.9 778.0,405.7 777.0,406.6 776.0,407.5 775.0,408.4 774.0,409.5 773.0,411.1 772.0,412.8 771.0,414.5 770.0,416.1" fill="#eefaef"/>
<polygon points="874.0,431.3 875.0,427.5 876.0,425.7 877.0,424.0 878.0,422.2 879.0,420.5 880.0,418.7 881.0,417.0 882.0,415.4 883.0,414.5 884.0,413.6 885.0,412.7 886.0,411.8 887.0,410.9 888.0,409.9 889.0,409.0 890.0,408.1 891.0,407.2 892.0,406.5 893.0,406.4 894.0,406.4 895.0,406.4 896.0,406.4 897.0,406.4 898.0,406.4 899.0,406.4 900.0,406.3 901.0,406.3 902.0,406.3 903.0,406.3 904.0,406.3 905.0,406.3 906.0,406.3 907.0,406.2 908.0,406.2 909.0,406.2 910.0,406.2 911.0,406.2 912.0,406.2 913.0,406.2 914.0,406.2 915.0,406.1 916.0,406.1 917.0,406.1 918.0,406.1 919.0,406.1 920.0,406.1 921.0,406.1 922.0,406.0 923.0,406.0 924.0,406.0 925.0,406.0 926.0,406.0 927.0,406.0 928.0,406.0 929.0,406.3 930.0,407.5 931.0,408.7 932.0,409.9 933.0,411.1 934.0,412.3 935.0,413.5 936.0,414.6 937.0,415.6 938.0,416.6 939.0,417.6 940.0,418.6 940.0,418.2 939.0,418.9 938.0,419.2 937.0,419.3 936.0,419.5 935.0,419.7 934.0,419.8 933.0,420.0 932.0,420.2 931.0,420.3 930.0,420.5 929.0,420.7 928.0,421.1 927.0,421.6 926.0,422.1 925.0,422.6 924.0,423.1 923.0,423.6 922.0,424.1 921.0,425.4 920.0,426.6 919.0,427.9 918.0,429.1 917.0,430.4 916.0,431.6 915.0,432.7 914.0,433.6 913.0,434.5 912.0,435.4 911.0,436.2 910.0,437.1 909.0,438.0 908.0,438.2 907.0,438.0 906.0,437.7 905.0,437.5 904.0,437.2 903.0,437.0 902.0,436.7 901.0,436.6 900.0,436.6 899.0,436.5 898.0,436.5 897.0,436.5 896.0,436.4 895.0,436.4 894.0,436.3 893.0,436.3 892.0,436.3 891.0,436.2 890.0,436.2 889.0,436.1 888.0,436.1 887.0,436.0 886.0,436.0 885.0,436.0 884.0,435.9 883.0,435.9 882.0,435.8 881.0,435.5 880.0,435.0 879.0,434.5 878.0,434.0 877.0,433.5 876.0,433.0 875.0,432.5 874.0,432.3" fill="#fdeefc"/>
<polygon points="940.0,418.6 941.0,419.1 942.0,419.3 943.0,419.5 944.0,419.6 945.0,419.8 946.0,420.0 947.0,420.1 948.0,420.3 949.0,420.5 950.0,420.6 951.0,420.4 952.0,419.6 953.0,418.8 954.0,418.0 955.0,417.2 956.0,416.4 957.0,415.6 958.0,414.8 959.0,414.0 960.0,413.5 961.0,413.0 962.0,412.5 963.0,412.0 964.0,411.5 965.0,411.0 966.0,410.6 967.0,410.4 968.0,410.2 969.0,410.0 970.0,409.8 971.0,409.8 972.0,409.8 973.0,409.8 974.0,409.7 975.0,409.7 976.0,409.7 977.0,409.7 978.0,409.7 979.0,409.7 980.0,409.6 981.0,409.6 982.0,409.6 983.0,409.6 984.0,409.6 985.0,409.6 986.0,409.5 987.0,409.5 988.0,409.5 989.0,409.5 990.0,409.5 991.0,409.5 992.0,409.4 993.0,409.4 994.0,409.4 995.0,409.4 996.0,409.4 997.0,409.3 998.0,409.3 999.0,409.3 1000.0,409.3 1001.0,409.3 1002.0,409.3 1003.0,409.2 1004.0,409.2 1005.0,409.2 1006.0,409.2 1007.0,409.2 1008.0,409.2 1009.0,409.1 1010.0,409.1 1011.0,409.1 1012.0,409.1 1013.0,409.1 1014.0,409.1 1015.0,409.0 1016.0,409.0 1017.0,409.0 1018.0,409.0 1019.0,409.0 1020.0,409.0 1021.0,408.9 1022.0,408.9 1023.0,408.9 1024.0,408.7 1025.0,407.9 1026.0,407.0 1027.0,406.2 1028.0,405.4 1029.0,404.5 1030.0,403.5 1031.0,402.5 1032.0,401.5 1033.0,400.5 1034.0,399.3 1035.0,396.8 1036.0,394.3 1037.0,391.8 1038.0,391.2 1039.0,391.2 1040.0,391.1 1041.0,391.1 1042.0,391.0 1043.0,391.0 1044.0,390.9 1045.0,390.9 1046.0,390.8 1047.0,390.8 1048.0,390.7 1049.0,390.7 1050.0,390.6 1051.0,390.6 1052.0,390.5 1053.0,390.5 1054.0,390.4 1055.0,388.9 1056.0,387.4 1057.0,385.9 1058.0,384.4 1059.0,382.9 1060.0,382.5 1061.0,382.1 1062.0,381.8 1063.0,381.4 1064.0,381.0 1065.0,380.6 1066.0,379.0 1067.0,373.3 1068.0,367.6 1069.0,358.1 1070.0,347.6 1071.0,347.6 1072.0,347.5 1073.0,347.5 1074.0,347.4 1075.0,347.4 1076.0,347.3 1077.0,347.2 1078.0,347.2 1079.0,347.1 1080.0,347.1 1081.0,347.0 1082.0,347.0 1083.0,346.9 1084.0,346.9 1085.0,346.8 1086.0,346.6 1087.0,345.1 1088.0,343.6 1089.0,342.1 1090.0,340.6 1091.0,339.1 1092.0,337.8 1093.0,336.5 1094.0,335.1 1095.0,333.8 1096.0,332.5 1097.0,330.5 1098.0,328.5 1099.0,326.5 1100.0,322.8 1101.0,318.3 1102.0,317.4 1103.0,316.6 1104.0,315.7 1105.0,314.9 1106.0,314.1 1107.0,312.9 1108.0,311.7 1109.0,310.5 1110.0,309.3 1111.0,308.1 1112.0,307.0 1113.0,307.0 1114.0,307.0 1115.0,307.0 1116.0,307.0 1117.0,307.0 1118.0,307.0 1119.0,306.9 1120.0,306.9 1121.0,306.9 1122.0,306.9 1123.0,306.9 1124.0,306.9 1125.0,306.9 1126.0,306.9 1127.0,306.9 1128.0,306.9 1129.0,306.9 1130.0,306.9 1131.0,306.9 1132.0,306.9 1133.0,306.9 1134.0,306.9 1135.0,306.9 1136.0,306.8 1137.0,306.8 1138.0,306.8 1139.0,306.8 1140.0,306.8 1141.0,306.8 1142.0,306.8 1143.0,306.8 1144.0,306.8 1145.0,306.8 1146.0,306.8 1147.0,306.8 1148.0,306.8 1149.0,306.8 1150.0,306.8 1151.0,306.8 1152.0,306.7 1153.0,306.7 1154.0,306.7 1155.0,306.7 1156.0,306.7 1157.0,306.7 1158.0,306.7 1159.0,306.7 1160.0,306.7 1161.0,306.7 1162.0,306.7 1163.0,306.7 1164.0,306.7 1165.0,306.7 1166.0,306.7 1167.0,306.7 1168.0,306.7 1169.0,306.6 1170.0,306.6 1171.0,306.6 1172.0,306.6 1173.0,306.6 1174.0,306.6 1175.0,306.6 1176.0,306.6 1177.0,306.6 1178.0,306.6 1179.0,306.6 1180.0,306.6 1181.0,306.6 1182.0,306.6 1183.0,306.6 1184.0,306.6 1185.0,306.5 1186.0,306.5 1187.0,306.5 1188.0,306.5 1189.0,306.5 1190.0,306.5 1191.0,306.5 1192.0,306.5 1193.0,306.5 1194.0,306.5 1195.0,306.5 1196.0,305.7 1197.0,304.8 1198.0,304.0 1199.0,303.2 1200.0,302.3 1201.0,300.9 1202.0,299.4 1203.0,297.9 1204.0,296.8 1205.0,296.1 1206.0,295.3 1207.0,294.7 1208.0,294.6 1209.0,294.5 1210.0,294.4 1211.0,294.3 1212.0,294.2 1213.0,294.1 1214.0,294.0 1215.0,293.9 1216.0,293.1 1217.0,292.1 1218.0,291.1 1218.0,291.4 1217.0,289.9 1216.0,289.3 1215.0,288.8 1214.0,288.3 1213.0,287.8 1212.0,287.3 1211.0,286.8 1210.0,286.3 1209.0,285.5 1208.0,284.8 1207.0,284.0 1206.0,283.3 1205.0,282.5 1204.0,281.8 1203.0,281.0 1202.0,280.1 1201.0,279.3 1200.0,278.5 1199.0,277.6 1198.0,277.0 1197.0,276.6 1196.0,276.2 1195.0,275.8 1194.0,275.5 1193.0,275.1 1192.0,274.7 1191.0,274.5 1190.0,274.3 1189.0,274.1 1188.0,273.9 1187.0,273.7 1186.0,273.5 1185.0,273.3 1184.0,273.1 1183.0,272.9 1182.0,272.7 1181.0,272.5 1180.0,272.3 1179.0,272.1 1178.0,271.9 1177.0,271.7 1176.0,271.5 1175.0,271.3 1174.0,271.6 1173.0,271.9 1172.0,272.3 1171.0,272.7 1170.0,273.1 1169.0,273.4 1168.0,273.9 1167.0,274.6 1166.0,275.4 1165.0,276.1 1164.0,276.9 1163.0,277.6 1162.0,278.4 1161.0,279.1 1160.0,279.7 1159.0,280.3 1158.0,280.9 1157.0,281.6 1156.0,282.2 1155.0,282.8 1154.0,282.9 1153.0,282.7 1152.0,282.5 1151.0,282.4 1150.0,282.2 1149.0,281.8 1148.0,281.3 1147.0,280.8 1146.0,280.3 1145.0,279.8 1144.0,279.3 1143.0,278.8 1142.0,278.3 1141.0,277.8 1140.0,277.3 1139.0,276.8 1138.0,276.3 1137.0,276.4 1136.0,276.5 1135.0,276.6 1134.0,276.7 1133.0,276.8 1132.0,277.0 1131.0,277.1 1130.0,277.2 1129.0,277.3 1128.0,277.4 1127.0,277.4 1126.0,277.4 1125.0,277.3 1124.0,277.3 1123.0,277.3 1122.0,277.2 1121.0,277.2 1120.0,277.1 1119.0,277.3 1118.0,277.8 1117.0,278.3 1116.0,278.8 1115.0,279.3 1114.0,279.7 1113.0,280.0 1112.0,280.2 1111.0,280.5 1110.0,280.7 1109.0,281.0 1108.0,281.2 1107.0,281.9 1106.0,282.7 1105.0,283.6 1104.0,284.4 1103.0,285.2 1102.0,287.2 1101.0,289.7 1100.0,292.2 1099.0,294.9 1098.0,297.9 1097.0,300.9 1096.0,303.9 1095.0,306.9 1094.0,309.6 1093.0,311.6 1092.0,313.6 1091.0,315.6 1090.0,317.6 1089.0,319.4 1088.0,320.5 1087.0,321.7 1086.0,322.9 1085.0,324.0 1084.0,325.0 1083.0,325.1 1082.0,325.2 1081.0,325.3 1080.0,325.4 1079.0,325.5 1078.0,325.6 1077.0,325.7 1076.0,325.8 1075.0,326.9 1074.0,328.2 1073.0,329.6 1072.0,330.9 1071.0,332.2 1070.0,336.5 1069.0,341.5 1068.0,346.5 1067.0,350.2 1066.0,352.2 1065.0,354.2 1064.0,356.2 1063.0,358.2 1062.0,359.5 1061.0,359.9 1060.0,360.3 1059.0,360.6 1058.0,361.0 1057.0,361.4 1056.0,361.8 1055.0,362.2 1054.0,362.7 1053.0,363.2 1052.0,363.7 1051.0,364.2 1050.0,364.7 1049.0,365.2 1048.0,365.7 1047.0,366.2 1046.0,366.5 1045.0,366.8 1044.0,367.2 1043.0,367.5 1042.0,367.8 1041.0,368.2 1040.0,368.5 1039.0,368.8 1038.0,369.2 1037.0,369.7 1036.0,371.1 1035.0,372.4 1034.0,373.7 1033.0,375.1 1032.0,376.4 1031.0,377.7 1030.0,379.1 1029.0,380.4 1028.0,381.7 1027.0,383.1 1026.0,384.6 1025.0,386.1 1024.0,387.6 1023.0,389.1 1022.0,390.4 1021.0,390.6 1020.0,390.7 1019.0,390.9 1018.0,391.0 1017.0,391.2 1016.0,391.3 1015.0,391.4 1014.0,391.6 1013.0,391.7 1012.0,391.9 1011.0,392.0 1010.0,392.2 1009.0,392.4 1008.0,392.6 1007.0,392.8 1006.0,393.0 1005.0,393.2 1004.0,393.4 1003.0,393.6 1002.0,393.8 1001.0,393.7 1000.0,393.6 999.0,393.6 998.0,393.5 997.0,393.4 996.0,393.4 995.0,393.3 994.0,393.2 993.0,393.1 992.0,393.1 991.0,393.0 990.0,393.0 989.0,393.1 988.0,393.2 987.0,393.3 986.0,393.5 985.0,393.6 984.0,393.7 983.0,393.8 982.0,394.0 981.0,394.1 980.0,394.2 979.0,394.3 978.0,394.5 977.0,394.6 976.0,395.0 975.0,395.5 974.0,396.0 973.0,396.5 972.0,397.1 971.0,397.6 970.0,398.1 969.0,398.4 968.0,398.7 967.0,399.0 966.0,399.4 965.0,399.7 964.0,400.0 963.0,400.4 962.0,400.8 961.0,401.6 960.0,402.3 959.0,403.1 958.0,403.8 957.0,404.6 956.0,405.3 955.0,406.2 954.0,407.2 953.0,408.2 952.0,409.2 951.0,410.2 950.0,411.2 949.0,412.2 948.0,412.9 947.0,413.6 946.0,414.2 945.0,414.9 944.0,415.6 943.0,416.2 942.0,416.9 941.0,417.6 940.0,418.2" fill="#eefaef"/>
<polygon points="1218.0,291.1 1219.0,290.2 1220.0,289.6 1221.0,288.9 1222.0,288.2 1223.0,287.6 1224.0,287.2 1225.0,287.2 1226.0,287.1 1227.0,287.1 1228.0,287.1 1229.0,287.1 1230.0,287.0 1231.0,287.0 1232.0,287.0 1233.0,287.0 1234.0,287.0 1235.0,286.9 1236.0,286.9 1237.0,286.9 1238.0,286.9 1239.0,286.8 1240.0,286.8 1241.0,286.9 1242.0,286.9 1243.0,286.9 1244.0,286.9 1245.0,286.9 1246.0,286.9 1247.0,286.9 1248.0,286.9 1249.0,286.9 1250.0,286.9 1251.0,286.9 1252.0,286.9 1253.0,286.9 1254.0,286.9 1255.0,287.0 1256.0,287.0 1257.0,287.0 1258.0,287.0 1259.0,287.0 1260.0,287.0 1261.0,287.0 1262.0,287.0 1263.0,287.0 1264.0,287.0 1265.0,287.0 1266.0,287.0 1267.0,287.0 1268.0,287.0 1269.0,287.0 1270.0,287.1 1271.0,287.1 1272.0,287.1 1273.0,287.1 1274.0,287.1 1275.0,287.1 1276.0,287.1 1277.0,287.1 1278.0,287.1 1279.0,287.1 1280.0,287.1 1281.0,287.1 1282.0,287.1 1283.0,287.1 1284.0,287.2 1285.0,287.2 1286.0,287.2 1287.0,287.2 1288.0,287.2 1289.0,287.5 1290.0,288.5 1291.0,289.5 1292.0,290.5 1293.0,291.5 1294.0,292.4 1295.0,293.1 1296.0,293.7 1297.0,294.4 1298.0,295.1 1299.0,296.2 1300.0,298.9 1301.0,301.6 1302.0,302.3 1303.0,302.3 1304.0,302.3 1305.0,302.3 1306.0,302.3 1307.0,302.3 1308.0,302.3 1309.0,302.3 1310.0,302.4 1311.0,302.4 1312.0,302.4 1313.0,302.4 1314.0,302.4 1315.0,302.4 1316.0,302.4 1317.0,302.4 1318.0,302.4 1319.0,302.4 1320.0,302.4 1321.0,302.4 1322.0,302.4 1323.0,302.5 1324.0,302.5 1325.0,302.5 1326.0,302.5 1327.0,302.5 1328.0,302.5 1329.0,302.5 1330.0,302.5 1331.0,302.5 1332.0,302.5 1333.0,302.5 1334.0,302.5 1335.0,302.5 1336.0,302.5 1337.0,302.6 1338.0,302.6 1339.0,302.6 1340.0,302.6 1341.0,302.6 1342.0,302.6 1343.0,302.6 1344.0,302.6 1345.0,302.6 1346.0,302.6 1347.0,302.6 1348.0,303.6 1348.0,301.7 1347.0,302.7 1346.0,303.7 1345.0,304.7 1344.0,305.7 1343.0,307.0 1342.0,308.2 1341.0,309.5 1340.0,310.7 1339.0,312.0 1338.0,313.2 1337.0,314.1 1336.0,314.4 1335.0,314.6 1334.0,314.9 1333.0,315.1 1332.0,315.4 1331.0,315.6 1330.0,315.9 1329.0,316.1 1328.0,316.4 1327.0,316.6 1326.0,316.9 1325.0,317.1 1324.0,317.4 1323.0,317.6 1322.0,317.9 1321.0,318.1 1320.0,318.4 1319.0,318.6 1318.0,318.9 1317.0,319.1 1316.0,319.4 1315.0,319.6 1314.0,319.9 1313.0,320.6 1312.0,321.5 1311.0,322.3 1310.0,323.1 1309.0,324.0 1308.0,325.2 1307.0,326.6 1306.0,327.9 1305.0,329.2 1304.0,330.6 1303.0,330.7 1302.0,330.5 1301.0,330.4 1300.0,330.2 1299.0,330.0 1298.0,329.9 1297.0,329.7 1296.0,329.5 1295.0,329.4 1294.0,329.2 1293.0,328.9 1292.0,328.6 1291.0,328.2 1290.0,327.9 1289.0,327.6 1288.0,327.2 1287.0,326.9 1286.0,326.6 1285.0,326.2 1284.0,325.9 1283.0,325.6 1282.0,325.2 1281.0,324.9 1280.0,324.6 1279.0,324.2 1278.0,323.9 1277.0,323.6 1276.0,323.2 1275.0,322.9 1274.0,322.6 1273.0,322.4 1272.0,322.3 1271.0,322.3 1270.0,322.2 1269.0,322.2 1268.0,322.1 1267.0,322.0 1266.0,322.0 1265.0,321.9 1264.0,321.8 1263.0,321.8 1262.0,321.7 1261.0,321.7 1260.0,321.6 1259.0,321.3 1258.0,321.1 1257.0,320.8 1256.0,320.6 1255.0,320.3 1254.0,320.1 1253.0,319.8 1252.0,319.6 1251.0,319.3 1250.0,319.0 1249.0,318.5 1248.0,318.0 1247.0,317.5 1246.0,317.0 1245.0,316.5 1244.0,316.0 1243.0,315.5 1242.0,315.0 1241.0,314.5 1240.0,314.0 1239.0,313.3 1238.0,312.6 1237.0,311.9 1236.0,311.2 1235.0,310.5 1234.0,309.7 1233.0,309.0 1232.0,308.2 1231.0,307.5 1230.0,306.7 1229.0,306.0 1228.0,304.9 1227.0,303.7 1226.0,302.4 1225.0,301.2 1224.0,299.9 1223.0,298.7 1222.0,297.4 1221.0,295.9 1220.0,294.4 1219.0,292.9 1218.0,291.4" fill="#fdeefc"/>
<polygon points="1348.0,303.6 1349.0,305.2 1350.0,306.9 1351.0,308.4 1352.0,309.7 1353.0,310.9 1354.0,312.2 1355.0,309.8 1356.0,306.8 1357.0,304.8 1358.0,304.7 1359.0,304.7 1360.0,304.6 1361.0,304.6 1362.0,304.6 1363.0,304.5 1364.0,304.5 1365.0,304.4 1366.0,304.4 1367.0,304.3 1368.0,304.3 1369.0,304.2 1370.0,304.2 1371.0,304.1 1372.0,304.1 1373.0,304.0 1374.0,304.0 1375.0,303.9 1376.0,303.9 1377.0,303.8 1378.0,303.8 1379.0,303.7 1380.0,303.7 1381.0,303.6 1382.0,303.6 1383.0,303.5 1384.0,303.5 1385.0,303.4 1386.0,303.4 1387.0,303.3 1388.0,303.3 1389.0,303.3 1390.0,303.2 1391.0,303.2 1392.0,303.1 1393.0,303.1 1394.0,303.0 1395.0,303.0 1396.0,302.9 1397.0,302.9 1398.0,302.8 1399.0,302.8 1400.0,302.7 1401.0,302.7 1402.0,302.6 1403.0,302.6 1404.0,302.5 1405.0,302.5 1406.0,302.4 1407.0,302.4 1408.0,302.3 1409.0,302.3 1410.0,302.2 1411.0,302.2 1412.0,302.1 1413.0,302.1 1414.0,302.0 1415.0,302.0 1416.0,302.0 1417.0,301.9 1418.0,301.9 1419.0,301.8 1420.0,301.8 1421.0,301.7 1422.0,301.7 1423.0,301.6 1424.0,301.6 1425.0,301.5 1426.0,301.5 1427.0,299.8 1428.0,297.3 1429.0,295.0 1430.0,292.6 1431.0,291.4 1432.0,291.4 1433.0,291.3 1434.0,291.3 1435.0,291.3 1436.0,291.3 1437.0,291.3 1438.0,291.2 1439.0,291.2 1440.0,291.2 1441.0,291.2 1442.0,291.2 1443.0,291.2 1444.0,291.1 1445.0,291.1 1446.0,291.1 1447.0,291.1 1448.0,291.1 1449.0,291.0 1450.0,291.0 1451.0,291.0 1452.0,291.0 1453.0,291.0 1454.0,291.0 1455.0,290.9 1456.0,290.9 1457.0,290.9 1458.0,290.9 1458.0,291.0 1457.0,289.5 1456.0,288.0 1455.0,286.5 1454.0,285.0 1453.0,283.5 1452.0,282.0 1451.0,280.5 1450.0,279.0 1449.0,277.5 1448.0,276.1 1447.0,275.2 1446.0,274.3 1445.0,273.4 1444.0,272.4 1443.0,271.5 1442.0,270.6 1441.0,270.0 1440.0,270.0 1439.0,269.9 1438.0,269.9 1437.0,269.8 1436.0,269.7 1435.0,269.7 1434.0,269.6 1433.0,269.6 1432.0,270.8 1431.0,271.9 1430.0,273.1 1429.0,274.3 1428.0,275.5 1427.0,277.1 1426.0,278.8 1425.0,280.5 1424.0,282.1 1423.0,283.8 1422.0,283.5 1421.0,283.1 1420.0,282.7 1419.0,282.3 1418.0,282.0 1417.0,281.6 1416.0,281.2 1415.0,280.9 1414.0,280.6 1413.0,280.3 1412.0,280.0 1411.0,279.7 1410.0,279.4 1409.0,279.1 1408.0,278.8 1407.0,278.9 1406.0,279.0 1405.0,279.1 1404.0,279.2 1403.0,279.3 1402.0,279.4 1401.0,279.5 1400.0,279.6 1399.0,279.9 1398.0,280.4 1397.0,280.9 1396.0,281.4 1395.0,281.9 1394.0,282.4 1393.0,282.9 1392.0,282.9 1391.0,282.8 1390.0,282.6 1389.0,282.5 1388.0,282.4 1387.0,282.3 1386.0,282.2 1385.0,282.8 1384.0,283.4 1383.0,284.0 1382.0,284.6 1381.0,285.2 1380.0,285.8 1379.0,286.4 1378.0,287.0 1377.0,287.4 1376.0,287.7 1375.0,288.1 1374.0,288.4 1373.0,288.7 1372.0,289.1 1371.0,289.4 1370.0,289.7 1369.0,290.1 1368.0,290.4 1367.0,290.7 1366.0,290.9 1365.0,291.2 1364.0,291.4 1363.0,291.7 1362.0,291.9 1361.0,292.2 1360.0,292.4 1359.0,292.7 1358.0,292.9 1357.0,293.5 1356.0,294.4 1355.0,295.3 1354.0,296.1 1353.0,297.0 1352.0,297.9 1351.0,298.8 1350.0,299.7 1349.0,300.7 1348.0,301.7" fill="#eefaef"/>
<polygon points="1458.0,290.9 1459.0,290.9 1460.0,290.9 1461.0,291.0 1462.0,291.0 1463.0,291.1 1464.0,291.1 1465.0,291.1 1466.0,291.2 1467.0,291.2 1468.0,291.2 1469.0,291.3 1470.0,291.3 1471.0,291.4 1472.0,291.4 1473.0,291.6 1474.0,291.7 1475.0,291.8 1476.0,292.0 1477.0,292.1 1478.0,292.3 1479.0,292.4 1480.0,292.5 1481.0,293.2 1482.0,293.9 1483.0,294.6 1484.0,295.3 1485.0,296.0 1486.0,296.7 1487.0,297.3 1488.0,297.5 1489.0,297.7 1490.0,297.9 1491.0,298.1 1491.0,323.8 1490.0,323.7 1489.0,323.6 1488.0,323.5 1487.0,323.4 1486.0,323.4 1485.0,323.2 1484.0,322.5 1483.0,321.9 1482.0,321.2 1481.0,320.5 1480.0,319.9 1479.0,318.7 1478.0,317.5 1477.0,316.4 1476.0,315.2 1475.0,314.0 1474.0,313.3 1473.0,312.5 1472.0,311.8 1471.0,311.0 1470.0,310.3 1469.0,309.5 1468.0,308.5 1467.0,306.8 1466.0,305.2 1465.0,303.5 1464.0,301.8 1463.0,300.1 1462.0,298.3 1461.0,296.5 1460.0,294.6 1459.0,292.8 1458.0,291.0" fill="#fdeefc"/>
<polyline points="12.6,356.3 16.1,361.1 19.6,362.1 23.1,381.4 26.6,387.3 30.1,407.9 33.6,413.7 37.1,415.5 40.6,415.1 44.1,400.8 47.6,391.2 51.1,390.8 54.6,388.5 58.1,415.8 61.6,429.8 65.1,406.3 68.6,417.0 72.1,414.1 75.6,409.7 79.1,394.4 82.6,410.8 86.1,408.4 89.6,427.4 93.1,425.6 96.6,436.8 100.1,427.7 103.7,428.6 107.2,433.5 110.7,438.0 114.2,433.8 117.7,431.0 121.2,422.8 124.7,414.2 128.2,414.0 131.7,410.5 135.2,416.0 138.7,385.3 142.2,357.3 145.7,329.9 149.2,325.0 152.7,361.7 156.2,364.2 159.7,333.2 163.2,362.6 166.7,396.2 170.2,382.0 173.7,403.3 177.2,416.8 180.7,421.9 184.2,417.2 187.7,414.3 191.2,403.4 194.7,342.5 198.2,332.3 201.7,348.9 205.2,314.5 208.7,339.9 212.2,382.3 215.7,387.5 219.2,389.9 222.7,384.1 226.2,370.5 229.7,368.2 233.2,342.2 236.7,348.7 240.2,355.8 243.7,350.3 247.2,352.4 250.7,362.4 254.2,360.2 257.7,371.0 261.2,368.8 264.7,361.6 268.2,361.0 271.7,365.4 275.2,398.9 278.8,418.8 282.3,431.2 285.8,430.0 289.3,418.7 292.8,411.6 296.3,409.8 299.8,418.3 303.3,425.8 306.8,404.8 310.3,409.9 313.8,380.1 317.3,378.2 320.8,354.8 324.3,373.5 327.8,380.1 331.3,389.8 334.8,404.4 338.3,402.3 341.8,407.3 345.3,398.6 348.8,401.5 352.3,404.9 355.8,394.4 359.3,500.0 362.8,541.9 366.3,554.3 369.8,599.2 373.3,566.6 376.8,565.5 380.3,576.9 383.8,562.2 387.3,596.2 390.8,629.2 394.3,605.4 397.8,554.3 401.3,565.1 404.8,552.1 408.3,527.1 411.8,518.9 415.3,528.9 418.8,521.4 422.3,470.9 425.8,474.0 429.3,471.1 432.8,458.3 436.3,440.4 439.8,448.1 443.3,441.4 446.8,436.4 450.4,451.1 453.9,463.5 457.4,459.8 460.9,440.5 464.4,433.8 467.9,446.2 471.4,417.0 474.9,378.4 478.4,384.9 481.9,361.8 485.4,354.8 488.9,362.5 492.4,363.7 495.9,391.8 499.4,409.0 502.9,398.6 506.4,369.4 509.9,368.6 513.4,355.9 516.9,352.4 520.4,354.0 523.9,376.6 527.4,381.4 530.9,393.7 534.4,377.6 537.9,377.2 541.4,372.5 544.9,381.3 548.4,385.5 551.9,400.0 555.4,414.3 558.9,420.5 562.4,416.9 565.9,419.5 569.4,421.1 572.9,447.4 576.4,437.0 579.9,424.1 583.4,429.7 586.9,522.3 590.4,511.0 593.9,495.8 597.4,480.3 600.9,478.6 604.4,463.1 607.9,466.0 611.4,464.0 614.9,472.8 618.4,463.8 621.9,427.1 625.4,428.5 629.0,411.0 632.5,420.1 636.0,425.8 639.5,413.2 643.0,414.0 646.5,412.3 650.0,434.6 653.5,434.2 657.0,442.0 660.5,419.5 664.0,391.7 667.5,389.9 671.0,389.2 674.5,379.9 678.0,386.7 681.5,393.5 685.0,400.7 688.5,401.7 692.0,402.4 695.5,401.0 699.0,413.2 702.5,419.7 706.0,416.9 709.5,425.4 713.0,433.7 716.5,433.2 720.0,425.8 723.5,422.8 727.0,422.8 730.5,426.2 734.0,433.6 737.5,424.1 741.0,429.1 744.5,443.6 748.0,443.0 751.5,435.0 755.0,432.9 758.5,443.8 762.0,447.6 765.5,453.9 769.0,436.2 772.5,422.2 776.0,426.2 779.5,425.5 783.0,425.5 786.5,434.2 790.0,441.2 793.5,447.7 797.0,447.6 800.5,444.2 804.1,443.9 807.6,452.8 811.1,443.4 814.6,440.0 818.1,439.6 821.6,430.8 825.1,415.7 828.6,415.6 832.1,396.4 835.6,414.8 839.1,412.3 842.6,393.9 846.1,394.3 849.6,396.2 853.1,397.7 856.6,405.3 860.1,402.3 863.6,402.7 867.1,383.3 870.6,382.8 874.1,376.5 877.6,373.7 881.1,391.0 884.6,393.6 888.1,394.9 891.6,387.9 895.1,393.9 898.6,394.6 902.1,390.7 905.6,397.4 909.1,403.4 912.6,406.9 916.1,395.0 919.6,382.5 923.1,388.9 926.6,382.0 930.1,384.7 933.6,381.2 937.1,369.9 940.6,357.2 944.1,351.8 947.6,361.3 951.1,352.3 954.6,347.2 958.1,346.5 961.6,355.8 965.1,345.5 968.6,330.5 972.1,336.7 975.6,330.4 979.2,299.9 982.7,304.5 986.2,303.1 989.7,286.5 993.2,291.0 996.7,288.4 1000.2,271.7 1003.7,274.6 1007.2,268.9 1010.7,245.7 1014.2,237.7 1017.7,232.3 1021.2,249.3 1024.7,252.3 1028.2,271.6 1031.7,283.2 1035.2,290.5 1038.7,298.9 1042.2,292.6 1045.7,292.5 1049.2,301.0 1052.7,289.7 1056.2,283.6 1059.7,279.2 1063.2,290.2 1066.7,268.7 1070.2,268.4 1073.7,273.0 1077.2,271.3 1080.7,275.0 1084.2,278.8 1087.7,289.2 1091.2,289.0 1094.7,285.1 1098.2,290.6 1101.7,290.1 1105.2,286.4 1108.7,297.8 1112.2,294.7 1115.7,305.1 1119.2,303.0 1122.7,309.8 1126.2,310.7 1129.7,320.4 1133.2,329.6 1136.7,339.8 1140.2,335.5 1143.7,341.1 1147.2,345.9 1150.7,335.9 1154.3,331.8 1157.8,337.2 1161.3,345.9 1164.8,333.2 1168.3,327.0 1171.8,329.8 1175.3,338.7 1178.8,330.8 1182.3,339.0 1185.8,334.6 1189.3,330.5 1192.8,343.4 1196.3,347.6 1199.8,351.8 1203.3,343.8 1206.8,329.2 1210.3,342.7 1213.8,343.8 1217.3,312.4 1220.8,296.4 1224.3,292.1 1227.8,303.7 1231.3,301.3 1234.8,295.6 1238.3,302.2 1241.8,301.9 1245.3,300.8 1248.8,291.4 1252.3,293.4 1255.8,294.3 1259.3,295.2 1262.8,284.8 1266.3,265.5 1269.8,262.5 1273.3,262.7 1276.8,269.7 1280.3,267.5 1283.8,266.1 1287.3,277.4 1290.8,265.4 1294.3,264.6 1297.8,279.2 1301.3,289.8 1304.8,289.3 1308.3,293.4 1311.8,298.1 1315.3,303.2 1318.8,298.9 1322.3,298.5 1325.8,297.7 1329.4,293.1 1332.9,272.9 1336.4,270.9 1339.9,254.0 1343.4,272.5 1346.9,285.5 1350.4,299.7 1353.9,311.5 1357.4,314.9 1360.9,327.1 1364.4,343.5 1367.9,345.1 1371.4,337.1 1374.9,341.3 1378.4,353.1 1381.9,340.1 1385.4,337.2 1388.9,351.7 1392.4,361.4 1395.9,364.0 1399.4,358.4" fill="none" stroke="#bdbdbd" stroke-width="1" stroke-linejoin="round"/>
<polyline points="23.1,236.2 26.6,240.0 30.1,239.6 33.6,239.1 37.1,238.3 40.6,246.2 44.1,263.1 47.6,287.3 51.1,306.2 54.6,327.1 58.1,338.4 61.6,342.0 65.1,339.9 68.6,342.1 72.1,344.9 75.6,348.5 79.1,349.9 82.6,349.4 86.1,351.5 89.6,353.2 93.1,356.4 96.6,356.3 100.1,360.3 103.7,360.5 107.2,358.0 110.7,357.4 114.2,358.1 117.7,356.1 121.2,357.6 124.7,363.1 128.2,367.9 131.7,377.0 135.2,387.5 138.7,397.4 142.2,404.9 145.7,408.7 149.2,407.7 152.7,404.0 156.2,400.3 159.7,398.7 163.2,402.2 166.7,404.2 170.2,408.6 173.7,411.7 177.2,412.3 180.7,407.3 184.2,406.8 187.7,406.0 191.2,408.6 194.7,411.8 198.2,418.2 201.7,423.0 205.2,427.0 208.7,428.7 212.2,430.3 215.7,431.2 219.2,432.2 222.7,431.7 226.2,429.4 229.7,424.4 233.2,419.2 236.7,414.1 240.2,408.5 243.7,399.1 247.2,385.8 250.7,369.9 254.2,360.8 257.7,354.1 261.2,346.4 264.7,345.7 268.2,356.7 271.7,361.8 275.2,367.0 278.8,382.4 282.3,398.2 285.8,404.4 289.3,409.8 292.8,412.4 296.3,403.8 299.8,390.5 303.3,374.9 306.8,357.8 310.3,345.1 313.8,345.8 317.3,351.8 320.8,360.9 324.3,372.0 327.8,378.1 331.3,377.0 334.8,370.6 338.3,364.3 341.8,357.5 345.3,353.5 348.8,348.7 352.3,349.8 355.8,350.1 359.3,353.6 362.8,357.3 366.3,361.5 369.8,362.5 373.3,364.6 376.8,368.7 380.3,377.6 383.8,390.7 387.3,404.2 390.8,414.8 394.3,419.5 397.8,418.6 401.3,415.5 404.8,414.3 408.3,412.8 411.8,412.5 415.3,409.1 418.8,400.3 422.3,388.8 425.8,379.7 429.3,373.7 432.8,373.4 436.3,379.8 439.8,387.7 443.3,395.3 446.8,399.0 450.4,401.3 453.9,402.3 457.4,401.2 460.9,415.8 464.4,441.9 467.9,470.6 471.4,505.4 474.9,540.8 478.4,558.4 481.9,566.5 485.4,570.9 488.9,572.4 492.4,580.8 495.9,588.8 499.4,587.9 502.9,586.4 506.4,580.4 509.9,563.8 513.4,546.5 516.9,537.8 520.4,530.2 523.9,516.8 527.4,503.2 530.9,493.6 534.4,482.6 537.9,468.3 541.4,460.0 544.9,455.3 548.4,446.8 551.9,442.5 555.4,443.8 558.9,446.2 562.4,446.0 565.9,447.0 569.4,445.7 572.9,439.4 576.4,425.3 579.9,411.0 583.4,397.9 586.9,379.6 590.4,367.2 593.9,362.0 597.4,364.6 600.9,370.1 604.4,379.3 607.9,383.0 611.4,383.0 614.9,376.7 618.4,367.9 621.9,359.4 625.4,357.3 629.0,359.5 632.5,366.3 636.0,372.4 639.5,376.9 643.0,377.3 646.5,377.2 650.0,377.2 653.5,379.4 657.0,386.1 660.5,394.4 664.0,403.0 667.5,410.0 671.0,415.5 674.5,422.1 678.0,426.5 681.5,427.9 685.0,428.7 688.5,444.2 692.0,458.6 695.5,472.9 699.0,484.2 702.5,495.3 706.0,488.1 709.5,478.3 713.0,470.7 716.5,469.2 720.0,465.2 723.5,460.4 727.0,452.7 730.5,442.5 734.0,432.8 737.5,426.3 741.0,421.1 744.5,419.2 748.0,417.9 751.5,418.2 755.0,419.9 758.5,424.6 762.0,425.7 765.5,419.0 769.0,410.3 772.5,401.9 776.0,392.4 779.5,385.9 783.0,388.7 786.5,391.6 790.0,392.9 793.5,394.8 797.0,397.1 800.5,400.0 804.1,403.6 807.6,407.3 811.1,411.7 814.6,417.8 818.1,422.1 821.6,424.2 825.1,425.4 828.6,425.8 832.1,425.3 835.6,425.2 839.1,424.8 842.6,426.1 846.1,429.2 849.6,432.6 853.1,433.9 856.6,435.7 860.1,437.6 863.6,439.4 867.1,441.6 870.6,441.9 874.1,440.2 877.6,437.5 881.1,433.0 884.6,427.2 888.1,426.0 891.6,428.7 895.1,432.1 898.6,435.8 902.1,439.9 905.6,441.7 909.1,444.0 912.6,445.0 916.1,444.2 919.6,443.0 923.1,441.4 926.6,435.7 930.1,428.5 933.6,419.8 937.1,414.8 940.6,411.2 944.1,405.8 947.6,402.3 951.1,401.4 954.6,397.8 958.1,395.5 961.6,397.1 965.1,398.8 968.6,399.0 972.1,395.7 975.6,389.8 979.2,384.4 982.7,380.8 986.2,380.5 989.7,382.7 993.2,386.1 996.7,389.2 1000.2,391.2 1003.7,390.4 1007.2,390.9 1010.7,393.4 1014.2,396.2 1017.7,396.3 1021.2,395.3 1024.7,393.1 1028.2,390.2 1031.7,387.3 1035.2,384.5 1038.7,382.0 1042.2,377.9 1045.7,372.1 1049.2,364.6 1052.7,359.7 1056.2,355.2 1059.7,351.4 1063.2,350.3 1066.7,349.0 1070.2,345.1 1073.7,343.0 1077.2,340.3 1080.7,331.6 1084.2,321.3 1087.7,313.2 1091.2,303.7 1094.7,295.8 1098.2,292.0 1101.7,287.5 1105.2,283.0 1108.7,279.7 1112.2,272.1 1115.7,262.7 1119.2,255.2 1122.7,249.3 1126.2,244.2 1129.7,245.8 1133.2,253.1 1136.7,264.4 1140.2,273.1 1143.7,283.0 1147.2,288.3 1150.7,292.9 1154.3,292.7 1157.8,290.8 1161.3,287.3 1164.8,286.9 1168.3,281.5 1171.8,276.3 1175.3,273.9 1178.8,271.6 1182.3,268.5 1185.8,269.5 1189.3,273.6 1192.8,279.0 1196.3,282.5 1199.8,285.8 1203.3,287.5 1206.8,287.6 1210.3,287.4 1213.8,289.3 1217.3,292.3 1220.8,295.0 1224.3,299.2 1227.8,302.7 1231.3,306.5 1234.8,312.0 1238.3,318.6 1241.8,326.0 1245.3,331.3 1248.8,337.0 1252.3,338.7 1255.8,338.7 1259.3,336.7 1262.8,337.5 1266.3,336.5 1269.8,334.9 1273.3,333.7 1276.8,334.3 1280.3,332.8 1283.8,332.4 1287.3,333.3 1290.8,332.6 1294.3,334.2 1297.8,336.8 1301.3,339.8 1304.8,341.7 1308.3,342.7 1311.8,341.5 1315.3,340.5 1318.8,334.5 1322.3,326.8 1325.8,320.1 1329.4,312.1 1332.9,303.4 1336.4,298.5 1339.9,297.1 1343.4,297.8 1346.9,298.2 1350.4,296.7 1353.9,295.2 1357.4,294.5 1360.9,293.7 1364.4,291.6 1367.9,287.5 1371.4,283.5 1374.9,278.1 1378.4,272.3 1381.9,268.0 1385.4,265.9 1388.9,266.6 1392.4,266.2 1395.9,265.1 1399.4,266.5 1402.9,270.9 1406.4,274.3 1409.9,279.0 1413.4,286.4 1416.9,291.5 1420.4,294.8 1423.9,296.1 1427.4,297.3 1430.9,296.3 1434.4,292.3 1437.9,287.1 1441.4,278.8 1444.9,272.6 1448.4,271.1 1451.9,274.8 1455.4,281.3 1458.9,293.5 1462.4,305.2 1465.9,315.3 1469.4,324.8 1472.9,331.1 1476.4,336.4 1479.9,342.5 1483.4,343.3 1486.9,342.4 1490.4,344.5" fill="none" stroke="#9deb9d" stroke-width="1" stroke-linejoin="round"/>
<polyline points="26.6,236.2 30.1,240.0 33.6,239.6 37.1,239.1 40.6,238.3 44.1,244.6 47.6,256.5 51.1,269.4 54.6,281.4 58.1,293.4 61.6,305.1 65.1,318.6 68.6,332.9 72.1,341.3 75.6,344.5 79.1,343.3 82.6,345.9 86.1,346.8 89.6,349.5 93.1,351.5 96.6,353.6 100.1,354.8 103.7,356.4 107.2,357.0 110.7,356.6 114.2,358.6 117.7,358.9 121.2,358.3 124.7,357.7 128.2,360.8 131.7,363.4 135.2,369.3 138.7,376.7 142.2,382.7 145.7,390.1 149.2,396.3 152.7,400.6 156.2,402.3 159.7,403.0 163.2,403.6 166.7,405.5 170.2,404.8 173.7,404.5 177.2,404.8 180.7,406.5 184.2,407.6 187.7,408.9 191.2,409.1 194.7,408.8 198.2,411.2 201.7,413.6 205.2,416.0 208.7,418.3 212.2,422.2 215.7,425.9 219.2,429.4 222.7,430.8 226.2,430.8 229.7,429.2 233.2,426.8 236.7,424.5 240.2,421.6 243.7,417.2 247.2,409.1 250.7,397.7 254.2,385.9 257.7,378.8 261.2,373.3 264.7,363.6 268.2,355.0 271.7,353.5 275.2,355.4 278.8,361.5 282.3,371.4 285.8,378.3 289.3,384.9 292.8,395.1 296.3,403.2 299.8,400.8 303.3,396.2 306.8,389.9 310.3,379.7 313.8,370.0 317.3,364.2 320.8,360.0 324.3,357.7 327.8,359.8 331.3,362.3 334.8,365.5 338.3,368.0 341.8,369.7 345.3,367.2 348.8,363.3 352.3,357.8 355.8,354.1 359.3,352.2 362.8,352.5 366.3,355.0 369.8,356.0 373.3,357.2 376.8,359.1 380.3,365.0 383.8,372.4 387.3,381.4 390.8,388.9 394.3,395.1 397.8,401.3 401.3,407.5 404.8,413.3 408.3,417.3 411.8,417.1 415.3,415.0 418.8,410.5 422.3,404.2 425.8,398.1 429.3,392.8 432.8,388.9 436.3,385.0 439.8,383.6 443.3,382.6 446.8,384.2 450.4,388.0 453.9,392.8 457.4,397.7 460.9,399.8 464.4,410.7 467.9,426.8 471.4,444.6 474.9,466.5 478.4,488.4 481.9,508.9 485.4,529.5 488.9,550.7 492.4,564.3 495.9,575.2 499.4,582.8 502.9,581.0 506.4,579.2 509.9,578.1 513.4,573.6 516.9,567.6 520.4,559.4 523.9,547.5 527.4,533.1 530.9,520.6 534.4,509.6 537.9,498.2 541.4,487.9 544.9,479.0 548.4,469.1 551.9,457.5 555.4,451.8 558.9,450.7 562.4,449.3 565.9,446.2 569.4,444.2 572.9,442.9 576.4,440.8 579.9,435.9 583.4,426.5 586.9,415.5 590.4,401.3 593.9,391.5 597.4,382.8 600.9,375.7 604.4,372.2 607.9,372.5 611.4,374.1 614.9,373.4 618.4,373.9 621.9,372.6 625.4,370.9 629.0,369.5 632.5,366.8 636.0,365.8 639.5,366.0 643.0,367.1 646.5,369.9 650.0,372.6 653.5,377.0 657.0,379.8 660.5,383.8 664.0,387.5 667.5,391.8 671.0,397.6 674.5,403.7 678.0,411.8 681.5,418.3 685.0,422.1 688.5,424.2 692.0,434.8 695.5,446.6 699.0,457.6 702.5,465.0 706.0,469.9 709.5,473.3 713.0,478.1 716.5,483.9 720.0,480.6 723.5,474.1 727.0,465.5 730.5,458.4 734.0,450.9 737.5,446.1 741.0,441.5 744.5,434.5 748.0,427.1 751.5,421.4 755.0,419.7 758.5,421.0 762.0,423.2 765.5,422.7 769.0,416.8 772.5,413.0 776.0,410.2 779.5,407.3 783.0,402.5 786.5,397.3 790.0,392.3 793.5,389.7 797.0,392.2 800.5,394.2 804.1,396.1 807.6,399.3 811.1,403.1 814.6,406.6 818.1,410.5 821.6,414.4 825.1,417.7 828.6,420.8 832.1,422.8 835.6,424.1 839.1,425.5 842.6,426.0 846.1,426.0 849.6,427.2 853.1,429.3 856.6,430.8 860.1,432.1 863.6,433.7 867.1,436.1 870.6,439.8 874.1,440.7 877.6,439.0 881.1,436.8 884.6,435.5 888.1,434.5 891.6,433.5 895.1,432.3 898.6,430.8 902.1,431.7 905.6,434.4 909.1,436.1 912.6,439.1 916.1,441.9 919.6,443.1 923.1,443.3 926.6,441.9 930.1,439.0 933.6,434.8 937.1,429.4 940.6,425.1 944.1,420.8 947.6,415.0 951.1,409.3 954.6,404.5 958.1,401.5 961.6,400.1 965.1,400.8 968.6,399.3 972.1,396.9 975.6,395.2 979.2,392.3 982.7,390.2 986.2,388.7 989.7,387.5 993.2,386.2 996.7,384.3 1000.2,384.1 1003.7,385.8 1007.2,387.9 1010.7,390.3 1014.2,392.3 1017.7,393.9 1021.2,394.3 1024.7,393.6 1028.2,392.7 1031.7,391.6 1035.2,391.9 1038.7,390.3 1042.2,386.5 1045.7,381.3 1049.2,376.5 1052.7,372.7 1056.2,369.4 1059.7,364.6 1063.2,358.8 1066.7,355.1 1070.2,352.1 1073.7,348.9 1077.2,346.4 1080.7,343.7 1084.2,337.5 1087.7,330.9 1091.2,325.1 1094.7,317.3 1098.2,310.5 1101.7,304.3 1105.2,296.2 1108.7,289.2 1112.2,284.9 1115.7,279.7 1119.2,272.8 1122.7,265.9 1126.2,260.2 1129.7,255.0 1133.2,253.7 1136.7,254.1 1140.2,256.3 1143.7,260.8 1147.2,267.7 1150.7,274.3 1154.3,281.3 1157.8,286.6 1161.3,288.9 1164.8,289.1 1168.3,288.4 1171.8,286.6 1175.3,282.4 1178.8,279.9 1182.3,275.7 1185.8,273.3 1189.3,273.2 1192.8,273.9 1196.3,275.0 1199.8,276.4 1203.3,279.3 1206.8,281.7 1210.3,283.9 1213.8,286.8 1217.3,288.8 1220.8,291.0 1224.3,291.7 1227.8,294.3 1231.3,297.3 1234.8,300.6 1238.3,306.2 1241.8,311.3 1245.3,317.2 1248.8,321.7 1252.3,326.8 1255.8,330.9 1259.3,333.8 1262.8,336.1 1266.3,337.6 1269.8,338.1 1273.3,336.5 1276.8,335.2 1280.3,334.4 1283.8,334.0 1287.3,334.1 1290.8,334.4 1294.3,332.1 1297.8,333.0 1301.3,335.2 1304.8,338.0 1308.3,339.0 1311.8,338.3 1315.3,338.6 1318.8,339.6 1322.3,339.2 1325.8,334.4 1329.4,327.9 1332.9,321.3 1336.4,315.7 1339.9,311.5 1343.4,306.6 1346.9,301.2 1350.4,298.6 1353.9,296.9 1357.4,296.0 1360.9,295.6 1364.4,295.2 1367.9,294.3 1371.4,290.9 1374.9,287.1 1378.4,283.1 1381.9,279.9 1385.4,277.3 1388.9,273.0 1392.4,270.1 1395.9,267.2 1399.4,265.9 1402.9,266.7 1406.4,268.5 1409.9,271.4 1413.4,274.0 1416.9,278.8 1420.4,282.2 1423.9,286.4 1427.4,290.8 1430.9,293.3 1434.4,294.7 1437.9,293.4 1441.4,291.5 1444.9,286.0 1448.4,281.5 1451.9,279.8 1455.4,280.1 1458.9,281.5 1462.4,284.2 1465.9,289.6 1469.4,297.5 1472.9,308.8 1476.4,318.0 1479.9,325.0 1483.4,331.9 1486.9,336.2 1490.4,339.4" fill="none" stroke="#ff9c9c" stroke-width="1" stroke-linejoin="round"/>
<polyline points="37.1,236.2 40.6,240.0 44.1,239.6 47.6,239.1 51.1,238.3 54.6,244.6 58.1,256.5 61.6,269.4 65.1,276.4 68.6,282.7 72.1,287.2 75.6,292.1 79.1,296.5 82.6,304.7 86.1,313.2 89.6,321.8 93.1,330.7 96.6,339.3 100.1,345.2 103.7,347.8 107.2,348.4 110.7,349.9 114.2,352.0 117.7,353.7 121.2,354.0 124.7,355.1 128.2,356.1 131.7,356.3 135.2,357.2 138.7,359.1 142.2,362.2 145.7,365.9 149.2,369.5 152.7,373.0 156.2,377.8 159.7,380.8 163.2,384.0 166.7,387.2 170.2,389.5 173.7,393.4 177.2,398.6 180.7,402.0 184.2,404.7 187.7,406.3 191.2,407.0 194.7,406.2 198.2,405.6 201.7,405.1 205.2,406.3 208.7,408.5 212.2,411.7 215.7,414.3 219.2,416.0 222.7,416.5 226.2,418.6 229.7,420.4 233.2,422.2 236.7,423.5 240.2,425.0 243.7,425.3 247.2,425.5 250.7,424.4 254.2,422.2 257.7,417.6 261.2,411.0 264.7,403.5 268.2,398.2 271.7,392.9 275.2,385.0 278.8,377.7 282.3,374.7 285.8,372.2 289.3,370.8 292.8,370.8 296.3,371.6 299.8,373.1 303.3,376.4 306.8,381.1 310.3,383.9 313.8,383.0 317.3,381.1 320.8,380.7 324.3,380.9 327.8,379.6 331.3,379.2 334.8,378.7 338.3,376.7 341.8,373.2 345.3,369.1 348.8,364.1 352.3,360.2 355.8,358.9 359.3,358.9 362.8,359.0 366.3,361.0 369.8,362.2 373.3,361.9 376.8,361.0 380.3,359.2 383.8,357.3 387.3,356.9 390.8,358.7 394.3,363.7 397.8,369.3 401.3,375.3 404.8,380.6 408.3,386.0 411.8,390.2 415.3,394.5 418.8,398.6 422.3,401.9 425.8,405.6 429.3,408.1 432.8,408.3 436.3,406.4 439.8,402.7 443.3,399.1 446.8,396.2 450.4,394.8 453.9,394.1 457.4,393.8 460.9,392.8 464.4,391.3 467.9,390.8 471.4,389.8 474.9,396.4 478.4,408.7 481.9,422.7 485.4,439.1 488.9,454.0 492.4,467.5 495.9,480.5 499.4,493.2 502.9,507.2 506.4,524.0 509.9,539.6 513.4,551.9 516.9,564.4 520.4,570.5 523.9,570.8 527.4,568.8 530.9,564.4 534.4,560.3 537.9,554.5 541.4,546.5 544.9,539.1 548.4,529.8 551.9,517.1 555.4,505.0 558.9,495.5 562.4,485.5 565.9,476.8 569.4,470.9 572.9,466.4 576.4,460.2 579.9,453.4 583.4,449.5 586.9,446.4 590.4,440.1 593.9,432.7 597.4,426.4 600.9,418.5 604.4,412.5 607.9,407.5 611.4,402.7 614.9,398.0 618.4,392.9 621.9,388.3 625.4,382.8 629.0,376.1 632.5,370.5 636.0,367.5 639.5,367.6 643.0,368.1 646.5,371.0 650.0,372.5 653.5,373.2 657.0,372.5 660.5,370.8 664.0,370.2 667.5,371.2 671.0,374.4 674.5,379.3 678.0,384.3 681.5,389.7 685.0,393.6 688.5,398.5 692.0,402.5 695.5,405.7 699.0,409.6 702.5,419.3 706.0,429.8 709.5,439.3 713.0,446.0 716.5,451.6 720.0,455.3 723.5,458.8 727.0,462.7 730.5,466.6 734.0,468.1 737.5,468.4 741.0,468.3 744.5,468.0 748.0,462.2 751.5,455.7 755.0,448.4 758.5,443.3 762.0,438.2 765.5,435.3 769.0,433.2 772.5,430.7 776.0,426.6 779.5,420.4 783.0,416.1 786.5,413.7 790.0,411.4 793.5,408.5 797.0,406.0 800.5,404.7 804.1,403.5 807.6,402.5 811.1,400.4 814.6,398.3 818.1,396.7 821.6,396.5 825.1,399.7 828.6,403.3 832.1,406.1 835.6,408.9 839.1,411.7 842.6,414.0 846.1,416.2 849.6,418.5 853.1,420.5 856.6,422.9 860.1,425.2 863.6,427.4 867.1,428.8 870.6,429.7 874.1,430.5 877.6,431.9 881.1,434.1 884.6,435.1 888.1,435.2 891.6,435.2 895.1,434.9 898.6,435.0 902.1,435.1 905.6,435.0 909.1,435.0 912.6,435.6 916.1,436.6 919.6,436.6 923.1,436.8 926.6,436.2 930.1,436.5 933.6,437.7 937.1,438.1 940.6,437.8 944.1,436.8 947.6,434.2 951.1,432.4 954.6,430.1 958.1,426.2 961.6,422.3 965.1,418.7 968.6,414.6 972.1,411.0 975.6,408.1 979.2,405.3 982.7,402.4 986.2,399.3 989.7,396.2 993.2,394.5 996.7,392.2 1000.2,390.6 1003.7,390.4 1007.2,389.9 1010.7,389.8 1014.2,389.6 1017.7,388.6 1021.2,388.0 1024.7,387.8 1028.2,388.7 1031.7,389.9 1035.2,390.7 1038.7,391.4 1042.2,391.5 1045.7,391.4 1049.2,390.6 1052.7,389.2 1056.2,387.0 1059.7,384.1 1063.2,381.4 1066.7,378.5 1070.2,374.4 1073.7,369.8 1077.2,366.4 1080.7,363.6 1084.2,360.1 1087.7,356.3 1091.2,351.7 1094.7,346.1 1098.2,340.2 1101.7,335.2 1105.2,330.0 1108.7,325.3 1112.2,320.0 1115.7,314.2 1119.2,308.9 1122.7,302.8 1126.2,295.7 1129.7,288.3 1133.2,280.4 1136.7,273.9 1140.2,269.2 1143.7,266.7 1147.2,265.2 1150.7,265.3 1154.3,265.1 1157.8,265.8 1161.3,267.0 1164.8,269.0 1168.3,270.3 1171.8,272.3 1175.3,275.2 1178.8,279.2 1182.3,281.4 1185.8,282.6 1189.3,283.1 1192.8,282.3 1196.3,280.8 1199.8,280.0 1203.3,279.0 1206.8,279.6 1210.3,278.3 1213.8,278.1 1217.3,278.7 1220.8,279.1 1224.3,279.7 1227.8,281.3 1231.3,284.3 1234.8,286.8 1238.3,289.8 1241.8,292.9 1245.3,295.6 1248.8,299.1 1252.3,302.1 1255.8,306.5 1259.3,310.4 1262.8,314.6 1266.3,318.7 1269.8,321.8 1273.3,324.7 1276.8,327.8 1280.3,330.6 1283.8,332.4 1287.3,333.7 1290.8,335.4 1294.3,335.8 1297.8,335.9 1301.3,335.3 1304.8,334.2 1308.3,334.3 1311.8,335.1 1315.3,336.3 1318.8,337.2 1322.3,336.2 1325.8,336.3 1329.4,337.2 1332.9,336.6 1336.4,334.3 1339.9,331.3 1343.4,328.4 1346.9,325.7 1350.4,323.5 1353.9,320.0 1357.4,316.3 1360.9,312.4 1364.4,308.4 1367.9,305.3 1371.4,302.0 1374.9,298.3 1378.4,295.9 1381.9,293.3 1385.4,291.2 1388.9,288.9 1392.4,286.4 1395.9,284.2 1399.4,281.3 1402.9,279.2 1406.4,276.6 1409.9,274.2 1413.4,273.1 1416.9,272.2 1420.4,271.8 1423.9,271.7 1427.4,273.8 1430.9,276.2 1434.4,278.6 1437.9,280.9 1441.4,283.0 1444.9,285.5 1448.4,286.1 1451.9,286.7 1455.4,286.2 1458.9,285.3 1462.4,285.6 1465.9,286.2 1469.4,287.6 1472.9,288.9 1476.4,290.6 1479.9,293.5 1483.4,297.3 1486.9,300.5 1490.4,304.3" fill="none" stroke="#a4a4ff" stroke-width="1" stroke-linejoin="round"/>
<polyline points="10.1,224.5 25.2,225.3 27.7,235.4 31.1,267.3 36.1,276.5 48.7,279.0 53.7,285.4 110.8,285.8 115.0,288.3 117.5,307.6 120.9,341.2 124.2,360.5 132.6,364.7 136.0,369.7 142.7,373.1 151.1,379.8 179.6,380.1 184.7,384.0 189.7,387.3 194.7,389.8 199.8,396.6 199.8,397.1 208.2,409.7 231.7,410.2 234.2,390.4 235.0,376.9 238.4,374.4 250.1,374.4 251.8,365.2 256.0,363.0 282.4,363.0 299.0,359.5 330.0,357.3 330.1,361.1 382.1,361.6 387.1,374.2 427.4,375.1 430.8,386.0 437.5,388.5 445.9,389.3 449.3,417.9 452.6,431.3 456.8,438.0 457.1,440.0 459.6,450.1 478.1,450.9 481.4,456.8 499.0,457.6 504.1,466.9 510.8,482.8 512.5,487.0 533.5,487.0 536.8,503.0 562.0,503.0 565.4,478.6 570.4,461.8 574.6,445.0 576.3,440.0 581.9,430.5 586.9,421.2 595.3,416.2 600.3,411.2 603.7,397.7 611.3,396.0 615.5,393.5 630.6,393.5 635.6,389.3 639.8,386.8 640.0,385.5 650.1,377.1 660.1,377.9 663.5,386.3 674.4,387.1 676.1,407.3 677.8,417.0 695.4,417.4 698.8,420.7 702.1,434.2 710.5,437.5 722.3,435.8 725.6,444.2 730.6,447.6 734.0,456.0 739.0,461.0 750.8,461.3 754.2,450.9 755.8,434.2 764.2,433.3 772.6,429.1 774.3,419.0 779.3,414.0 784.4,411.5 787.7,400.6 796.1,398.9 824.7,398.6 841.4,399.7 846.5,407.3 854.9,414.0 861.6,422.4 873.3,423.7 880.1,430.8 885.1,435.8 898.5,436.7 908.6,437.5 915.3,434.2 920.3,427.4 923.7,421.6 943.8,420.7 950.6,415.7 960.6,414.0 965.7,407.3 970.0,406.5 988.5,404.7 993.6,401.3 998.6,398.8 1003.6,394.6 1015.4,392.9 1023.8,391.3 1028.8,384.5 1033.9,377.8 1038.9,372.0 1049.0,370.3 1055.7,366.9 1064.1,362.7 1067.4,354.3 1070.0,342.6 1072.5,336.7 1084.2,335.9 1089.3,330.8 1094.3,324.1 1099.3,320.8 1102.7,310.7 1107.7,304.0 1112.8,297.3 1117.8,293.9 1122.8,291.4 1129.5,291.4 1136.3,288.0 1143.0,287.2 1148.0,282.1 1154.7,281.3 1161.4,279.6 1168.2,275.4 1173.2,269.6 1196.7,269.1 1200.1,273.8 1206.8,277.1 1210.1,283.0 1216.8,283.8 1221.9,290.5 1226.9,297.3 1231.9,301.5 1238.7,302.0 1240.0,302.3 1250.1,303.1 1256.8,305.6 1263.5,310.7 1270.2,314.0 1280.3,315.7 1288.7,319.1 1297.1,324.1 1303.8,326.6 1308.8,325.8 1310.5,320.8 1323.9,318.2 1335.7,317.4 1340.7,315.7 1352.5,314.9 1355.8,309.0 1357.5,303.1 1370.9,301.5 1379.3,298.9 1384.4,297.3 1391.1,296.4 1396.1,287.2 1401.2,279.6 1407.9,278.5 1423.0,278.5 1426.3,274.6 1429.7,269.6 1439.8,269.1 1444.8,274.6 1449.8,279.6 1454.9,287.2 1458.2,291.4 1468.3,292.2 1478.4,292.6 1483.4,295.6 1486.8,298.1 1491.0,298.1" fill="none" stroke="#ff0000" stroke-width="2.5" stroke-linejoin="round"/>
<polyline points="10.1,233.7 25.2,233.7 28.5,250.5 31.9,275.7 36.1,284.9 53.7,285.8 56.2,294.2 58.8,309.3 60.4,327.7 64.6,342.0 67.1,337.0 70.5,339.5 74.7,339.5 80.6,351.2 83.9,353.7 90.6,353.7 94.0,352.9 107.4,352.9 110.8,354.6 115.0,363.0 120.0,371.4 124.2,376.4 130.1,378.9 136.0,384.0 142.7,391.5 147.7,399.6 151.9,408.0 169.5,408.0 172.9,410.5 180.5,412.2 184.7,411.3 188.9,413.0 198.1,413.5 203.1,417.2 207.3,422.3 211.9,429.0 216.6,422.3 224.9,418.9 230.8,413.9 233.3,395.4 235.0,377.8 238.4,372.7 248.4,367.7 251.8,361.8 256.8,352.6 261.0,348.4 265.2,352.6 270.3,355.9 282.0,357.6 285.4,363.5 290.4,362.7 295.5,357.6 305.5,351.8 310.6,349.2 315.6,345.9 324.0,345.9 327.3,353.4 330.0,356.8 330.1,364.2 343.5,360.0 347.7,347.4 362.0,348.2 365.3,364.2 368.7,377.6 375.4,391.8 388.8,392.7 393.0,403.6 398.1,417.0 401.4,416.2 403.9,406.1 407.3,389.3 411.5,385.6 420.7,385.6 427.4,379.3 432.5,377.6 437.5,378.4 444.2,386.0 446.7,401.1 449.3,434.7 451.2,440.0 452.9,456.8 457.1,461.8 459.6,477.8 473.9,478.6 478.1,495.4 480.6,549.1 481.4,565.1 488.1,586.9 495.7,587.7 501.6,563.4 509.1,563.4 512.5,527.3 515.8,510.5 523.4,500.4 525.9,485.3 533.5,476.1 539.3,465.2 544.4,456.8 546.0,445.0 554.4,442.5 562.8,440.0 564.3,417.9 567.6,404.4 571.8,402.8 576.0,389.3 581.9,387.7 588.6,386.8 591.9,374.2 595.3,371.7 615.5,371.2 620.5,366.7 625.5,364.5 635.6,364.5 639.0,370.0 640.0,370.4 645.0,387.1 656.8,393.9 661.8,398.9 665.2,409.0 673.6,419.0 676.1,437.5 677.8,462.7 683.6,466.9 699.6,467.4 703.0,481.2 705.5,492.1 709.7,481.2 713.0,462.7 715.5,450.9 722.3,444.2 727.3,440.9 734.0,436.7 739.0,430.8 744.1,420.7 750.8,424.9 753.3,414.0 755.0,399.7 776.0,399.2 779.3,390.5 782.7,381.8 787.7,388.8 794.4,397.2 801.2,403.1 803.7,411.5 809.5,413.2 816.3,417.4 821.3,420.7 826.3,424.1 833.1,427.4 836.4,430.8 846.5,431.1 854.9,437.5 859.9,445.1 863.3,440.0 881.7,439.5 886.8,435.8 905.2,436.2 910.3,440.9 915.3,434.2 920.3,424.1 923.7,419.0 932.1,417.4 942.2,414.0 953.9,407.3 959.0,393.9 964.0,387.1 970.0,386.8 985.2,386.6 988.5,381.2 993.6,381.2 998.6,391.3 1003.6,396.3 1010.4,392.9 1022.1,391.3 1027.1,384.5 1032.2,377.8 1037.2,371.1 1038.9,366.9 1049.0,366.1 1054.0,361.0 1059.0,352.7 1064.1,345.9 1067.4,335.9 1070.8,319.1 1072.5,315.7 1084.2,314.9 1087.6,309.0 1092.6,300.6 1097.7,297.3 1099.3,285.5 1101.8,273.8 1107.7,263.7 1114.4,262.8 1118.6,257.8 1122.8,260.3 1126.2,264.5 1134.6,265.4 1137.9,268.7 1141.3,273.8 1146.3,275.4 1149.7,287.2 1153.1,290.5 1158.1,287.2 1163.1,283.0 1168.2,282.1 1171.5,277.1 1174.9,273.8 1179.9,275.4 1184.9,279.6 1191.7,281.3 1198.4,283.8 1203.4,288.9 1208.4,293.1 1216.8,295.6 1221.9,304.0 1226.9,314.0 1231.9,320.8 1237.0,324.1 1240.0,325.8 1246.7,327.5 1250.1,332.5 1252.6,340.1 1258.5,340.1 1261.8,335.9 1266.9,333.3 1282.0,334.2 1307.1,333.9 1308.8,322.4 1312.2,319.9 1323.9,316.6 1332.3,315.4 1337.4,306.5 1342.4,298.9 1350.8,293.9 1354.2,288.0 1357.5,282.1 1364.2,279.6 1370.9,277.1 1379.3,272.9 1386.0,267.9 1388.6,268.7 1392.8,273.8 1397.8,274.1 1402.8,278.0 1412.9,278.8 1417.9,285.5 1421.3,288.0 1426.3,283.8 1429.7,270.4 1434.7,268.4 1441.4,268.7 1446.5,273.8 1451.5,281.3 1456.6,288.9 1461.6,297.3 1464.9,307.3 1468.3,319.1 1471.7,325.8 1476.7,334.2 1481.7,343.4 1485.9,350.1 1491.0,351.0" fill="none" stroke="#0000ff" stroke-width="2.3" stroke-linejoin="round"/>
<polyline points="10.1,191.4 25.2,191.4 26.9,195.1 31.9,230.4 33.6,234.6 36.1,237.1 50.4,237.1 53.7,246.3 60.4,246.3 64.6,253.9 72.2,261.4 93.2,261.4 96.5,271.5 102.4,277.9 112.5,277.9 115.8,280.7 122.5,290.8 134.3,291.6 142.7,295.0 151.9,305.1 184.7,305.6 204.8,307.6 207.3,316.0 209.8,336.1 212.4,356.3 214.9,368.0 216.6,371.1 223.3,375.3 235.0,376.9 250.1,374.4 251.8,362.7 330.0,362.7 330.1,363.3 383.8,362.8 387.1,361.6 445.9,363.3 448.4,379.3 452.6,401.1 459.3,417.9 473.6,418.7 477.0,431.3 481.2,439.7 516.7,440.8 517.5,444.2 524.2,457.6 571.2,458.1 574.6,447.6 660.2,447.6 663.6,443.4 676.1,420.7 678.6,417.0 787.7,417.4 790.2,422.4 792.8,433.3 873.3,433.8 875.0,427.4 881.7,415.7 891.8,406.5 928.7,405.9 935.5,414.0 940.5,419.0 950.6,420.7 959.0,414.0 965.7,410.6 970.0,409.8 1023.8,408.9 1028.8,404.7 1033.9,399.7 1037.2,391.3 1054.0,390.4 1059.0,382.9 1065.8,380.4 1068.3,366.1 1070.0,347.6 1085.9,346.8 1090.9,339.2 1096.0,332.5 1099.3,325.8 1101.0,318.2 1106.0,314.0 1111.9,307.0 1195.0,306.5 1200.1,302.3 1203.4,297.3 1206.8,294.7 1215.2,293.9 1218.5,290.5 1223.6,287.2 1238.7,286.8 1240.0,286.8 1288.7,287.2 1293.7,292.2 1298.8,295.6 1301.3,302.3 1347.4,302.6 1350.8,308.2 1354.2,312.4 1356.7,304.8 1426.3,301.5 1428.0,297.3 1430.5,291.4 1458.2,290.9 1471.7,291.4 1480.1,292.6 1486.8,297.3 1491.0,298.1" fill="none" stroke="#ff00ff" stroke-width="1.25" stroke-linejoin="round"/>
<polyline points="10.1,228.7 25.2,229.5 28.5,243.8 32.7,274.0 36.1,280.7 52.0,282.4 55.4,289.1 58.8,300.9 62.1,312.6 67.1,310.1 72.2,310.9 78.9,315.1 83.9,317.7 109.1,318.0 114.2,322.7 117.5,341.2 120.9,357.9 124.2,366.3 130.9,369.7 134.3,374.7 139.3,381.4 146.0,388.2 151.1,393.2 167.9,394.0 177.9,395.7 191.4,400.4 198.1,402.1 203.1,407.1 208.2,413.9 211.9,418.9 218.2,416.4 224.9,413.9 230.0,410.5 232.5,395.4 235.0,376.9 238.4,371.1 246.8,367.7 251.8,361.8 256.8,356.8 261.0,355.1 268.6,356.8 282.0,358.5 285.4,361.8 292.1,361.8 297.1,358.5 305.5,355.9 312.2,352.6 317.3,350.9 327.3,350.9 330.0,352.6 330.1,359.1 343.5,354.1 346.9,351.6 362.0,352.7 365.3,364.2 370.4,370.9 375.4,375.1 382.1,377.6 387.1,380.1 392.2,384.3 397.2,393.5 402.3,392.7 407.3,382.6 414.0,379.3 424.1,380.1 429.1,375.9 434.2,377.6 440.9,384.3 444.2,389.3 447.6,409.5 450.9,434.7 456.2,440.0 457.9,450.1 460.4,464.3 473.9,465.2 478.1,473.6 480.6,495.4 482.3,507.1 489.0,514.7 495.7,515.5 499.0,511.3 504.1,513.9 509.1,514.7 514.2,502.1 517.5,497.1 523.4,493.7 527.6,485.3 536.0,483.6 542.7,475.3 547.7,471.9 561.2,470.2 563.7,456.8 566.2,445.0 567.9,440.0 570.1,430.5 573.5,421.2 576.8,411.2 581.9,407.0 586.9,402.8 593.6,392.7 598.7,389.3 603.7,384.3 615.5,382.6 620.5,379.3 630.6,377.6 637.3,381.8 640.0,378.8 645.0,385.5 656.8,387.1 661.8,393.9 668.5,400.6 673.6,414.0 676.1,427.4 680.3,439.2 695.4,440.9 698.8,447.6 702.1,454.3 705.5,462.7 709.7,466.0 713.0,454.3 716.4,447.6 727.3,445.9 734.0,446.7 740.7,443.4 747.4,437.5 752.5,427.4 757.5,424.1 764.2,425.8 774.3,409.0 781.0,403.1 791.1,405.6 801.2,409.0 807.9,410.6 817.9,411.5 828.0,414.0 841.4,417.4 851.5,424.1 858.2,429.1 864.9,430.8 875.0,432.5 881.7,435.8 901.9,436.7 908.6,438.3 915.3,432.5 922.0,424.1 928.7,420.7 938.8,419.0 948.9,412.3 955.6,405.6 962.3,400.6 970.0,398.1 976.8,394.6 990.2,392.9 1002.0,393.8 1010.4,392.1 1022.1,390.4 1027.1,382.9 1032.2,376.2 1037.2,369.4 1047.3,366.1 1055.7,361.9 1062.4,359.4 1067.4,349.3 1070.8,332.5 1075.8,325.8 1084.2,325.0 1089.3,319.1 1094.3,309.0 1099.3,293.9 1102.7,285.5 1107.7,281.3 1114.4,279.6 1119.5,277.1 1127.9,277.4 1137.9,276.3 1143.0,278.8 1149.7,282.1 1154.7,283.0 1161.4,278.8 1168.2,273.8 1174.9,271.2 1183.3,272.9 1191.7,274.6 1198.4,277.1 1203.4,281.3 1210.1,286.3 1216.8,289.7 1221.9,297.3 1228.6,305.6 1235.3,310.7 1240.0,314.0 1250.1,319.1 1260.1,321.6 1273.6,322.4 1283.6,325.8 1293.7,329.2 1303.8,330.8 1308.8,324.1 1313.9,319.9 1327.3,316.6 1337.4,314.0 1344.1,305.6 1350.8,298.9 1357.5,293.1 1367.6,290.5 1377.7,287.2 1386.0,282.1 1392.8,283.0 1399.5,279.6 1407.9,278.8 1416.3,281.3 1423.0,283.8 1428.0,275.4 1433.1,269.6 1441.4,270.1 1448.2,276.3 1453.2,283.8 1458.2,291.4 1463.3,300.6 1468.3,309.0 1475.0,314.0 1480.1,319.9 1485.1,323.3 1491.0,323.8" fill="none" stroke="#00f000" stroke-width="1.25" stroke-linejoin="round"/>
<line x1="11" y1="359.5" x2="1873" y2="359.5" stroke="#000" stroke-width="1" stroke-dasharray="1 2"/>
<circle cx="26.5" cy="207.7" r="6.4" fill="#ff9838"/>
<circle cx="26.5" cy="211" r="6.4" fill="#ff0000"/>
<circle cx="58.4" cy="314.3" r="4.2" fill="#ffff00"/>
<circle cx="29.9" cy="326.4" r="3" fill="#909090"/>
<circle cx="44.5" cy="361.3" r="6.4" fill="#909090"/>
<circle cx="93.2" cy="380.6" r="6" fill="#ff0000"/>
<circle cx="93.2" cy="386.8" r="6.4" fill="#ff9838"/>
<circle cx="103.2" cy="377.2" r="4.3" fill="#000000"/>
<circle cx="254.3" cy="291.6" r="6" fill="#00ff00"/>
<circle cx="285.4" cy="310.6" r="4.2" fill="#ffff00"/>
<circle cx="327" cy="329.4" r="4.2" fill="#ffff00"/>
<circle cx="296.3" cy="372.2" r="4.2" fill="#ffff00"/>
<circle cx="303.8" cy="335.3" r="4.2" fill="#00e5ff"/>
<circle cx="226.3" cy="377.2" r="4.2" fill="#00e5ff"/>
<circle cx="324.8" cy="395.9" r="4.2" fill="#00e5ff"/>
<circle cx="226.3" cy="384" r="6" fill="#ff9838"/>
<circle cx="226.6" cy="389" r="6.4" fill="#ff0000"/>
<circle cx="219" cy="396.6" r="6.4" fill="#ff0000"/>
<circle cx="233.7" cy="337.8" r="4" fill="#909090"/>
<circle cx="117.5" cy="423.4" r="3.5" fill="#909090"/>
<circle cx="131.4" cy="435.4" r="6.4" fill="#909090"/>
<circle cx="156.5" cy="432.3" r="4.3" fill="#000000"/>
<circle cx="184.3" cy="439.4" r="4.3" fill="#000000"/>
<circle cx="191" cy="444.4" r="4.3" fill="#000000"/>
<circle cx="233.3" cy="420.6" r="4.2" fill="#ffff00"/>
<circle cx="247.6" cy="414.4" r="4.2" fill="#00e5ff"/>
<circle cx="233.3" cy="435.4" r="4.2" fill="#00e5ff"/>
<circle cx="285.4" cy="445.4" r="4.2" fill="#00e5ff"/>
<circle cx="310.6" cy="413.5" r="4.2" fill="#ffff00"/>
<circle cx="275.3" cy="433.5" r="6.4" fill="#ff0000"/>
<circle cx="341.8" cy="330.2" r="4.3" fill="#0000ff"/>
<circle cx="348.5" cy="339" r="4.2" fill="#00e5ff"/>
<circle cx="362.5" cy="336.5" r="4.2" fill="#00e5ff"/>
<circle cx="366.7" cy="354.9" r="4.2" fill="#ffff00"/>
<circle cx="418.7" cy="350.4" r="4.2" fill="#00e5ff"/>
<circle cx="446.7" cy="372.5" r="4.2" fill="#ffff00"/>
<circle cx="338.5" cy="379.3" r="4.2" fill="#ffff00"/>
<circle cx="352.4" cy="380.6" r="6.4" fill="#ff0000"/>
<circle cx="411.5" cy="409.5" r="4.2" fill="#00e5ff"/>
<circle cx="429.5" cy="428.3" r="4.2" fill="#ffff00"/>
<circle cx="369.2" cy="445.6" r="3.5" fill="#909090"/>
<circle cx="381.2" cy="441.4" r="6.4" fill="#909090"/>
<circle cx="380.4" cy="443.9" r="5" fill="#006400"/>
<circle cx="576.5" cy="321.3" r="3.5" fill="#909090"/>
<circle cx="580.2" cy="334" r="6" fill="#909090"/>
<circle cx="579.9" cy="331.4" r="4.3" fill="#0000ff"/>
<circle cx="579.9" cy="333.4" r="3" fill="#a52a2a"/>
<circle cx="571.8" cy="347" r="6" fill="#909090"/>
<circle cx="646.5" cy="378.2" r="4.2" fill="#ffff00"/>
<circle cx="558.4" cy="412" r="4.3" fill="#0000ff"/>
<circle cx="544.4" cy="424.6" r="4.3" fill="#0000ff"/>
<circle cx="519.8" cy="449.8" r="6" fill="#909090"/>
<circle cx="625.5" cy="426.3" r="4.2" fill="#00e5ff"/>
<circle cx="593.6" cy="438.4" r="4.2" fill="#00e5ff"/>
<circle cx="527.6" cy="490.7" r="4.2" fill="#ffff00"/>
<circle cx="527.6" cy="508.3" r="4.2" fill="#00e5ff"/>
<circle cx="548.6" cy="508.3" r="4.2" fill="#00e5ff"/>
<circle cx="593" cy="440" r="4.2" fill="#00e5ff"/>
<circle cx="453.4" cy="582.7" r="3.5" fill="#909090"/>
<circle cx="495.4" cy="593.6" r="4.5" fill="#0000ff"/>
<circle cx="464.3" cy="613.4" r="6.4" fill="#909090"/>
<circle cx="485.3" cy="641.4" r="4.5" fill="#000000"/>
<circle cx="682" cy="552.1" r="4" fill="#909090"/>
<circle cx="685.4" cy="548.6" r="6.4" fill="#909090"/>
<circle cx="685.4" cy="548.6" r="3.2" fill="#a52a2a"/>
<circle cx="674.4" cy="397.2" r="4.2" fill="#00e5ff"/>
<circle cx="667.7" cy="409.5" r="4.2" fill="#00e5ff"/>
<circle cx="652.6" cy="430" r="6.4" fill="#ff0000"/>
<circle cx="720.2" cy="406" r="6.4" fill="#ff0000"/>
<circle cx="708.8" cy="438.3" r="6.4" fill="#ff9838"/>
<circle cx="727.3" cy="450.6" r="4.2" fill="#ffff00"/>
<circle cx="730.6" cy="463.2" r="4.2" fill="#00e5ff"/>
<circle cx="751.1" cy="461" r="4.2" fill="#00e5ff"/>
<circle cx="790.2" cy="387.1" r="4.5" fill="#0000ff"/>
<circle cx="800.3" cy="401.4" r="4.2" fill="#ffff00"/>
<circle cx="782.7" cy="411.5" r="6.4" fill="#ff0000"/>
<circle cx="786.4" cy="432.5" r="4.2" fill="#00e5ff"/>
<circle cx="835.6" cy="414.8" r="4.2" fill="#00e5ff"/>
<circle cx="867.5" cy="415.4" r="6.4" fill="#ff0000"/>
<circle cx="877.5" cy="412.3" r="4.2" fill="#00e5ff"/>
<circle cx="905.2" cy="424.4" r="4.2" fill="#ffff00"/>
<circle cx="923.7" cy="426.1" r="4.2" fill="#00e5ff"/>
<circle cx="860.4" cy="474.4" r="4.2" fill="#00e5ff"/>
<circle cx="888.4" cy="464.4" r="4.2" fill="#ffff00"/>
<circle cx="916.5" cy="448.4" r="4.2" fill="#ffff00"/>
<circle cx="930.4" cy="446.2" r="4.2" fill="#00e5ff"/>
<circle cx="940.5" cy="379.1" r="6.4" fill="#909090"/>
<circle cx="940.5" cy="379.1" r="3.2" fill="#a52a2a"/>
<circle cx="1006.7" cy="374.5" r="4.2" fill="#ffff00"/>
<circle cx="1021.8" cy="371.1" r="4.2" fill="#ffff00"/>
<circle cx="1028.5" cy="389.2" r="4.2" fill="#ffff00"/>
<circle cx="1014" cy="398.3" r="4.2" fill="#ffff00"/>
<circle cx="989.4" cy="411.4" r="6.4" fill="#00ff00"/>
<circle cx="1007.5" cy="426.5" r="4.2" fill="#00e5ff"/>
<circle cx="1038" cy="330" r="6" fill="#909090"/>
<circle cx="1045.6" cy="327.5" r="6" fill="#909090"/>
<circle cx="1050.6" cy="332.5" r="6" fill="#909090"/>
<circle cx="1052.3" cy="337.2" r="4.5" fill="#0000ff"/>
<circle cx="1063.2" cy="323.3" r="4.5" fill="#0000ff"/>
<circle cx="1066.1" cy="312.4" r="4.3" fill="#ff00ff"/>
<circle cx="1071.6" cy="285.5" r="5" fill="#909090"/>
<circle cx="1077.5" cy="289.7" r="5" fill="#909090"/>
<circle cx="1077.5" cy="287.5" r="4.5" fill="#0000ff"/>
<circle cx="1108.6" cy="227.1" r="6.4" fill="#ff0000"/>
<circle cx="1164.5" cy="251.1" r="4.5" fill="#0000ff"/>
<circle cx="1150.5" cy="261.2" r="4.2" fill="#ffff00"/>
<circle cx="1140.5" cy="279.3" r="4.2" fill="#00e5ff"/>
<circle cx="1206.8" cy="284.2" r="4.2" fill="#00e5ff"/>
<circle cx="1133.4" cy="309.3" r="6.4" fill="#ff0000"/>
<circle cx="1150.5" cy="308.5" r="4.2" fill="#00e5ff"/>
<circle cx="1280.6" cy="309" r="6.4" fill="#ff9838"/>
<circle cx="1280.6" cy="312.4" r="6.4" fill="#ff0000"/>
<circle cx="1234.5" cy="352.3" r="4.5" fill="#006400"/>
<circle cx="1241.7" cy="356" r="4.5" fill="#0000ff"/>
<circle cx="1255.8" cy="345.1" r="4.5" fill="#000000"/>
<circle cx="1287" cy="358.5" r="4.5" fill="#000000"/>
<circle cx="1311.8" cy="331.3" r="4.2" fill="#ffff00"/>
<circle cx="1311.3" cy="340.1" r="4.2" fill="#00e5ff"/>
<circle cx="1322.3" cy="286.3" r="4.5" fill="#0000ff"/>
<circle cx="1346.9" cy="276.3" r="4.5" fill="#0000ff"/>
<circle cx="1374.4" cy="248" r="6.4" fill="#ff9838"/>
<circle cx="1374.4" cy="249.6" r="6.4" fill="#ff0000"/>
<circle cx="1406.2" cy="284.3" r="4.2" fill="#00e5ff"/>
<circle cx="1395.3" cy="301.5" r="6.4" fill="#ff0000"/>
<circle cx="1423" cy="310.7" r="4.2" fill="#00e5ff"/>
<circle cx="1437.2" cy="312.4" r="4.2" fill="#ffff00"/>
<circle cx="1438.1" cy="262.5" r="4.2" fill="#00e5ff"/>
<circle cx="1462.4" cy="318.6" r="4.2" fill="#ffff00"/>
<circle cx="1458.7" cy="370.3" r="6" fill="#00ff00"/>
<circle cx="1486.4" cy="378.2" r="6.4" fill="#ff0000"/>
<circle cx="26.5" cy="211" r="1.6" fill="#909090"/>
<circle cx="93.2" cy="380.6" r="1.6" fill="#909090"/>
<circle cx="275.3" cy="433.5" r="1.6" fill="#909090"/>
<circle cx="352.4" cy="380.6" r="1.6" fill="#909090"/>
<circle cx="720.2" cy="406" r="1.6" fill="#909090"/>
<circle cx="867.5" cy="415.4" r="1.6" fill="#909090"/>
<circle cx="1108.6" cy="227.1" r="1.6" fill="#909090"/>
<circle cx="1280.6" cy="312.4" r="1.6" fill="#909090"/>
<circle cx="1374.4" cy="249.6" r="1.6" fill="#909090"/>
<circle cx="37.8" cy="405.5" r="5.4" fill="#fff" stroke="#00ff00" stroke-width="2.2"/>
<circle cx="338.5" cy="318.5" r="5.4" fill="#fff" stroke="#ff0000" stroke-width="2.2"/>
<circle cx="338.5" cy="318.5" r="1.6" fill="#909090"/>
<circle cx="376.6" cy="459.3" r="5.4" fill="#fff" stroke="#00ff00" stroke-width="2.2"/>
<circle cx="569.3" cy="335.6" r="5.4" fill="#fff" stroke="#00ff00" stroke-width="2.2"/>
<circle cx="569.3" cy="330.6" r="5.4" fill="#fff" stroke="#00ff00" stroke-width="2.2"/>
<circle cx="537.4" cy="407.5" r="5.4" fill="#fff" stroke="#ff0000" stroke-width="2.2"/>
<circle cx="537.4" cy="407.5" r="1.6" fill="#909090"/>
<circle cx="516.4" cy="432.1" r="5.4" fill="#909090" stroke="#00ff00" stroke-width="2.2"/>
<circle cx="656.5" cy="434.2" r="5.2" fill="#fff" stroke="#ff0000" stroke-width="2.2"/>
<circle cx="737.4" cy="398.6" r="5.4" fill="#fff" stroke="#ff0000" stroke-width="2.2"/>
<circle cx="737.4" cy="398.6" r="1.6" fill="#909090"/>
<circle cx="839.3" cy="453.8" r="5.4" fill="#fff" stroke="#ff0000" stroke-width="2.2"/>
<circle cx="839.3" cy="453.8" r="1.6" fill="#909090"/>
<circle cx="856.6" cy="467.4" r="5.4" fill="#fff" stroke="#ff0000" stroke-width="2.2"/>
<circle cx="856.6" cy="467.4" r="1.6" fill="#909090"/>
<circle cx="919.5" cy="395.5" r="5.4" fill="#fff" stroke="#00ff00" stroke-width="2.2"/>
<circle cx="1014.6" cy="373.3" r="5.4" fill="#fff" stroke="#ff0000" stroke-width="2.2"/>
<circle cx="1014.6" cy="373.3" r="1.6" fill="#909090"/>
<circle cx="1073.6" cy="269.6" r="5.4" fill="#fff" stroke="#00ff00" stroke-width="2.2"/>
<circle cx="1182.4" cy="308.5" r="5.4" fill="#fff" stroke="#ff0000" stroke-width="2.2"/>
<circle cx="1182.4" cy="308.5" r="1.6" fill="#909090"/>
<circle cx="1315.5" cy="278.8" r="5.4" fill="#fff" stroke="#00ff00" stroke-width="2.2"/>
<circle cx="1323.9" cy="285.5" r="5.4" fill="none" stroke="#909090" stroke-width="2.2"/>
<circle cx="1343.6" cy="277.4" r="5.4" fill="#fff" stroke="#ff0000" stroke-width="2.2"/>
<circle cx="1343.6" cy="277.4" r="1.6" fill="#909090"/>
<circle cx="1368.4" cy="255.3" r="4.2" fill="#fff" stroke="#ff0000" stroke-width="2.2"/>
<circle cx="1448.2" cy="325.8" r="5.4" fill="#fff" stroke="#ff0000" stroke-width="2.2"/>
<path d="M72.2,331.6h0.01M93.3,329.0h0.01M51.2,368.3h0.01M61.3,367.2h0.01M37.3,387.7h0.01M82.3,381.4h0.01M142.4,377.6h0.01M156.5,384.5h0.01M173.4,384.5h0.01M254.3,298.7h0.01M296.3,299.5h0.01M324.3,332.4h0.01M240.4,315.0h0.01M243.4,392.4h0.01M166.2,427.3h0.01M152.3,442.4h0.01M201.4,448.6h0.01M226.3,426.5h0.01M306.4,400.4h0.01M411.5,343.2h0.01M383.0,392.7h0.01M439.5,421.6h0.01M394.7,436.3h0.01M607.4,329.2h0.01M635.6,358.3h0.01M621.3,405.6h0.01M590.3,422.4h0.01M551.3,418.4h0.01M439.5,383.5h0.01M544.9,478.3h0.01M502.7,497.4h0.01M488.5,537.4h0.01M460.4,622.5h0.01M481.4,649.5h0.01M663.6,458.5h0.01M677.3,543.6h0.01M702.5,488.7h0.01M699.6,449.6h0.01M723.4,440.0h0.01M748.6,452.6h0.01M765.6,411.5h0.01M804.5,442.2h0.01M825.5,442.5h0.01M818.3,411.5h0.01M828.4,414.5h0.01M846.8,423.2h0.01M884.3,455.1h0.01M895.5,426.3h0.01M930.8,428.6h0.01M923.4,384.3h0.01M965.3,361.1h0.01M993.6,378.3h0.01M979.3,401.3h0.01M989.4,404.4h0.01M1003.3,413.4h0.01M1021.6,404.4h0.01M1052.3,361.9h0.01M1066.1,349.3h0.01M1073.6,274.9h0.01M1140.5,317.4h0.01M1154.2,296.4h0.01M1161.4,253.9h0.01M1231.6,361.4h0.01M1252.4,352.7h0.01M1248.7,325.0h0.01M1259.7,321.1h0.01M1284.0,358.5h0.01M1297.6,321.3h0.01M1336.5,309.5h0.01M1346.9,306.5h0.01M1378.5,283.5h0.01M1385.5,252.3h0.01M1406.2,308.5h0.01M1430.5,236.5h0.01M1476.7,330.5h0.01" stroke="#909090" stroke-width="3" stroke-linecap="round" fill="none"/>
<path d="M369.2,404.4h8.4M373.4,400.2v8.4" stroke="#ff0000" stroke-width="2.6" fill="none"/>
<path d="M379.6,434.7h8.4M383.8,430.5v8.4" stroke="#3cb371" stroke-width="2.6" fill="none"/>
<path d="M630.6,395.2h8.4M634.8,391.0v8.4" stroke="#3cb371" stroke-width="2.6" fill="none"/>
<path d="M558.4,448.9h8.4M562.6,444.7v8.4" stroke="#3cb371" stroke-width="2.6" fill="none"/>
<path d="M547.5,464.0h8.4M551.7,459.8v8.4" stroke="#3cb371" stroke-width="2.6" fill="none"/>
<path d="M509.4,533.7h8.4M513.6,529.5v8.4" stroke="#3cb371" stroke-width="2.6" fill="none"/>
<path d="M709.4,472.4h8.4M713.6,468.2v8.4" stroke="#3cb371" stroke-width="2.6" fill="none"/>
<path d="M800.3,407.6h8.4M804.5,403.4v8.4" stroke="#ff0000" stroke-width="2.6" fill="none"/>
<path d="M996.1,385.4h8.4M1000.3,381.2v8.4" stroke="#ff0000" stroke-width="2.6" fill="none"/>
<path d="M1066.6,329.2h8.4M1070.8,325.0v8.4" stroke="#3cb371" stroke-width="2.6" fill="none"/>
<path d="M1055.7,347.6h8.4M1059.9,343.4v8.4" stroke="#3cb371" stroke-width="2.6" fill="none"/>
<path d="M1158.1,278.0h8.4M1162.3,273.8v8.4" stroke="#3cb371" stroke-width="2.6" fill="none"/>
<path d="M1178.2,275.4h8.4M1182.4,271.2v8.4" stroke="#ff0000" stroke-width="2.6" fill="none"/>
<path d="M1304.6,333.3h8.4M1308.8,329.1v8.4" stroke="#3cb371" stroke-width="2.6" fill="none"/>
<path d="M1339.4,297.3h8.4M1343.6,293.1v8.4" stroke="#3cb371" stroke-width="2.6" fill="none"/>
<path d="M1349.4,297.3h8.4M1353.6,293.1v8.4" stroke="#3cb371" stroke-width="2.6" fill="none"/>
<path d="M1416.3,305.6h8.4M1420.5,301.4v8.4" stroke="#3cb371" stroke-width="2.6" fill="none"/>
<path d="M1440.3,286.8h8.4M1444.5,282.6v8.4" stroke="#ff0000" stroke-width="2.6" fill="none"/>
<rect x="-5.0" y="145.1" width="64.0" height="18.9" rx="3" fill="#ff9838"/>
<text x="27.0" y="157.5" font-size="9.7" fill="#fff" text-anchor="middle" textLength="50" lengthAdjust="spacingAndGlyphs">AW Rocket</text>
<rect x="-1.5" y="164.0" width="56.6" height="20.2" rx="3" fill="#ff0000"/>
<path d="M20.3,183.7L26.5,189.9L32.7,183.7z" fill="#ff0000"/>
<text x="26.8" y="177.0" font-size="9.7" fill="#fff" text-anchor="middle" textLength="43" lengthAdjust="spacingAndGlyphs">Red Devil</text>
<rect x="214.4" y="272.0" width="58.4" height="18.8" rx="3" fill="#9c5d0e"/>
<path d="M237.2,290.3L243.4,296.7L249.6,290.3z" fill="#9c5d0e"/>
<text x="243.6" y="284.3" font-size="9.7" fill="#fff" text-anchor="middle" textLength="44.5" lengthAdjust="spacingAndGlyphs">BB Kombi</text>
<rect x="313.5" y="269.3" width="50.5" height="18.5" rx="3" fill="#ff0000"/>
<path d="M332.3,287.3L338.5,294.0L344.7,287.3z" fill="#ff0000"/>
<text x="338.8" y="281.4" font-size="9.7" fill="#fff" text-anchor="middle" textLength="37" lengthAdjust="spacingAndGlyphs">LolliPop</text>
<rect x="194.2" y="316.3" width="64.3" height="18.1" rx="3" fill="#ff9838"/>
<text x="226.3" y="328.2" font-size="9.7" fill="#fff" text-anchor="middle" textLength="50" lengthAdjust="spacingAndGlyphs">AW Rocket</text>
<rect x="191.4" y="345.4" width="57.0" height="18.4" rx="3" fill="#ff0000"/>
<path d="M212.8,363.3L219.0,369.7L225.2,363.3z" fill="#ff0000"/>
<rect x="198.1" y="337.8" width="57.1" height="18.5" rx="3" fill="#ff0000"/>
<text x="226.6" y="349.9" font-size="9.7" fill="#fff" text-anchor="middle" textLength="43" lengthAdjust="spacingAndGlyphs">Red Devil</text>
<rect x="65.1" y="428.1" width="56.6" height="18.5" rx="3" fill="#ff0000"/>
<path d="M87.3,428.6L93.5,422.3L99.7,428.6z" fill="#ff0000"/>
<text x="93.4" y="440.2" font-size="9.7" fill="#fff" text-anchor="middle" textLength="43" lengthAdjust="spacingAndGlyphs">Red Devil</text>
<rect x="61.3" y="471.3" width="64.6" height="18.1" rx="3" fill="#ff9838"/>
<path d="M87.3,471.8L93.5,465.0L99.7,471.8z" fill="#ff9838"/>
<text x="93.6" y="483.2" font-size="9.7" fill="#fff" text-anchor="middle" textLength="50" lengthAdjust="spacingAndGlyphs">AW Rocket</text>
<rect x="247.1" y="478.5" width="56.7" height="19.3" rx="3" fill="#ff0000"/>
<path d="M269.1,479.0L275.3,472.1L281.5,479.0z" fill="#ff0000"/>
<text x="275.4" y="491.0" font-size="9.7" fill="#fff" text-anchor="middle" textLength="43" lengthAdjust="spacingAndGlyphs">Red Devil</text>
<rect x="324.2" y="420.4" width="56.2" height="19.3" rx="3" fill="#ff0000"/>
<path d="M346.2,420.9L352.4,414.5L358.6,420.9z" fill="#ff0000"/>
<text x="352.3" y="432.9" font-size="9.7" fill="#fff" text-anchor="middle" textLength="43" lengthAdjust="spacingAndGlyphs">Red Devil</text>
<rect x="535.2" y="263.1" width="68.8" height="19.6" rx="3" fill="#ff00ff"/>
<text x="569.6" y="275.8" font-size="9.7" fill="#fff" text-anchor="middle" textLength="54" lengthAdjust="spacingAndGlyphs">Grabberlein</text>
<rect x="550.0" y="278.9" width="59.1" height="20.1" rx="3" fill="#9c5d0e"/>
<path d="M573.2,298.5L579.4,305.0L585.6,298.5z" fill="#9c5d0e"/>
<text x="579.5" y="291.8" font-size="9.7" fill="#fff" text-anchor="middle" textLength="44.5" lengthAdjust="spacingAndGlyphs">BB Kombi</text>
<rect x="482.0" y="343.2" width="68.8" height="19.6" rx="3" fill="#ff00ff"/>
<text x="516.4" y="355.9" font-size="9.7" fill="#fff" text-anchor="middle" textLength="54" lengthAdjust="spacingAndGlyphs">Grabberlein</text>
<rect x="511.9" y="354.1" width="51.0" height="19.8" rx="3" fill="#ff0000"/>
<path d="M531.2,373.4L537.4,380.1L543.6,373.4z" fill="#ff0000"/>
<text x="537.4" y="366.9" font-size="9.7" fill="#fff" text-anchor="middle" textLength="37" lengthAdjust="spacingAndGlyphs">LolliPop</text>
<rect x="625.0" y="470.2" width="52.0" height="19.3" rx="3" fill="#ff0000"/>
<path d="M647.3,470.7L653.5,464.3L659.7,470.7z" fill="#ff0000"/>
<rect x="631.3" y="474.4" width="50.4" height="19.3" rx="3" fill="#ff0000"/>
<text x="656.5" y="486.9" font-size="9.7" fill="#fff" text-anchor="middle" textLength="37" lengthAdjust="spacingAndGlyphs">LolliPop</text>
<rect x="677.3" y="362.0" width="64.6" height="19.8" rx="3" fill="#ff9838"/>
<path d="M703.5,381.3L709.7,387.7L715.9,381.3z" fill="#ff9838"/>
<text x="709.6" y="374.8" font-size="9.7" fill="#fff" text-anchor="middle" textLength="50" lengthAdjust="spacingAndGlyphs">AW Rocket</text>
<rect x="692.0" y="354.4" width="56.8" height="18.0" rx="3" fill="#ff0000"/>
<path d="M714.0,371.9L720.2,378.8L726.4,371.9z" fill="#ff0000"/>
<text x="720.4" y="366.3" font-size="9.7" fill="#fff" text-anchor="middle" textLength="43" lengthAdjust="spacingAndGlyphs">Red Devil</text>
<rect x="712.2" y="348.2" width="50.7" height="18.5" rx="3" fill="#ff0000"/>
<text x="737.5" y="360.3" font-size="9.7" fill="#fff" text-anchor="middle" textLength="37" lengthAdjust="spacingAndGlyphs">LolliPop</text>
<rect x="755.0" y="445.6" width="57.1" height="19.1" rx="3" fill="#ff0000"/>
<path d="M777.3,446.1L783.5,439.5L789.7,446.1z" fill="#ff0000"/>
<text x="783.5" y="458.0" font-size="9.7" fill="#fff" text-anchor="middle" textLength="43" lengthAdjust="spacingAndGlyphs">Red Devil</text>
<rect x="839.3" y="369.2" width="56.7" height="18.8" rx="3" fill="#ff0000"/>
<path d="M861.3,387.5L867.5,393.9L873.7,387.5z" fill="#ff0000"/>
<text x="867.6" y="381.5" font-size="9.7" fill="#fff" text-anchor="middle" textLength="43" lengthAdjust="spacingAndGlyphs">Red Devil</text>
<rect x="814.6" y="487.0" width="50.4" height="18.5" rx="3" fill="#ff0000"/>
<path d="M833.1,487.5L839.3,481.2L845.5,487.5z" fill="#ff0000"/>
<text x="839.8" y="499.1" font-size="9.7" fill="#fff" text-anchor="middle" textLength="37" lengthAdjust="spacingAndGlyphs">LolliPop</text>
<rect x="831.4" y="501.3" width="50.7" height="19.6" rx="3" fill="#ff0000"/>
<text x="856.8" y="514.0" font-size="9.7" fill="#fff" text-anchor="middle" textLength="37" lengthAdjust="spacingAndGlyphs">LolliPop</text>
<rect x="656.0" y="624.2" width="58.8" height="19.8" rx="3" fill="#9c5d0e"/>
<path d="M679.2,624.7L685.4,618.3L691.6,624.7z" fill="#9c5d0e"/>
<text x="685.4" y="637.0" font-size="9.7" fill="#fff" text-anchor="middle" textLength="44.5" lengthAdjust="spacingAndGlyphs">BB Kombi</text>
<rect x="911.1" y="332.1" width="58.8" height="19.8" rx="3" fill="#9c5d0e"/>
<path d="M934.3,351.4L940.5,357.8L946.7,351.4z" fill="#9c5d0e"/>
<text x="940.5" y="344.9" font-size="9.7" fill="#fff" text-anchor="middle" textLength="44.5" lengthAdjust="spacingAndGlyphs">BB Kombi</text>
<rect x="989.4" y="332.5" width="50.3" height="18.8" rx="3" fill="#ff0000"/>
<path d="M1008.4,350.8L1014.6,357.7L1020.8,350.8z" fill="#ff0000"/>
<text x="1014.5" y="344.8" font-size="9.7" fill="#fff" text-anchor="middle" textLength="37" lengthAdjust="spacingAndGlyphs">LolliPop</text>
<rect x="1013.2" y="294.4" width="50.5" height="18.8" rx="3" fill="#ff0000"/>
<path d="M1032.2,312.7L1038.4,318.2L1044.6,312.7z" fill="#ff0000"/>
<text x="1038.5" y="306.7" font-size="9.7" fill="#fff" text-anchor="middle" textLength="37" lengthAdjust="spacingAndGlyphs">LolliPop</text>
<rect x="1080.0" y="190.0" width="57.0" height="19.1" rx="3" fill="#ff0000"/>
<path d="M1102.2,208.6L1108.4,215.0L1114.6,208.6z" fill="#ff0000"/>
<text x="1108.5" y="202.5" font-size="9.7" fill="#fff" text-anchor="middle" textLength="43" lengthAdjust="spacingAndGlyphs">Red Devil</text>
<rect x="1105.2" y="334.5" width="102.4" height="19.0" rx="3" fill="#ff0000"/>
<path d="M1127.2,335.0L1133.4,328.3L1139.6,335.0z" fill="#ff0000"/>
<path d="M1176.2,335.0L1182.4,328.3L1188.6,335.0z" fill="#ff0000"/>
<text x="1132.5" y="346.9" font-size="9.7" fill="#fff" text-anchor="middle" textLength="43" lengthAdjust="spacingAndGlyphs">Red Devil</text>
<text x="1181.5" y="346.9" font-size="9.7" fill="#fff" text-anchor="middle" textLength="37" lengthAdjust="spacingAndGlyphs">LolliPop</text>
<rect x="1248.4" y="255.3" width="64.6" height="19.3" rx="3" fill="#ff9838"/>
<text x="1280.7" y="267.9" font-size="9.7" fill="#fff" text-anchor="middle" textLength="50" lengthAdjust="spacingAndGlyphs">AW Rocket</text>
<rect x="1252.3" y="270.4" width="56.5" height="19.3" rx="3" fill="#ff0000"/>
<path d="M1274.1,289.2L1280.3,295.6L1286.5,289.2z" fill="#ff0000"/>
<text x="1280.5" y="282.9" font-size="9.7" fill="#fff" text-anchor="middle" textLength="43" lengthAdjust="spacingAndGlyphs">Red Devil</text>
<rect x="1318.1" y="238.2" width="51.2" height="18.4" rx="3" fill="#ff0000"/>
<path d="M1337.4,256.1L1343.6,262.5L1349.8,256.1z" fill="#ff0000"/>
<text x="1343.7" y="250.3" font-size="9.7" fill="#fff" text-anchor="middle" textLength="37" lengthAdjust="spacingAndGlyphs">LolliPop</text>
<rect x="1335.1" y="202.2" width="64.9" height="19.5" rx="3" fill="#ff9838"/>
<rect x="1342.4" y="199.0" width="64.5" height="19.6" rx="3" fill="#ff9838"/>
<text x="1374.7" y="211.7" font-size="9.7" fill="#fff" text-anchor="middle" textLength="50" lengthAdjust="spacingAndGlyphs">AW Rocket</text>
<rect x="1342.0" y="217.5" width="50.7" height="16.4" rx="3" fill="#ff0000"/>
<path d="M1361.0,233.4L1367.2,238.9L1373.4,233.4z" fill="#ff0000"/>
<rect x="1346.2" y="211.2" width="56.8" height="19.6" rx="3" fill="#ff0000"/>
<path d="M1368.2,230.3L1374.4,236.9L1380.6,230.3z" fill="#ff0000"/>
<text x="1374.6" y="223.9" font-size="9.7" fill="#fff" text-anchor="middle" textLength="43" lengthAdjust="spacingAndGlyphs">Red Devil</text>
<rect x="1367.2" y="325.3" width="56.6" height="19.3" rx="3" fill="#ff0000"/>
<path d="M1389.1,325.8L1395.3,319.1L1401.5,325.8z" fill="#ff0000"/>
<text x="1395.5" y="337.9" font-size="9.7" fill="#fff" text-anchor="middle" textLength="43" lengthAdjust="spacingAndGlyphs">Red Devil</text>
<rect x="1423.0" y="351.3" width="50.8" height="19.5" rx="3" fill="#ff0000"/>
<path d="M1442.0,351.8L1448.2,345.1L1454.4,351.8z" fill="#ff0000"/>
<text x="1448.4" y="363.9" font-size="9.7" fill="#fff" text-anchor="middle" textLength="37" lengthAdjust="spacingAndGlyphs">LolliPop</text>
<rect x="1458.2" y="409.4" width="56.8" height="19.3" rx="3" fill="#ff0000"/>
<path d="M1480.2,409.9L1486.4,403.4L1492.6,409.9z" fill="#ff0000"/>
<text x="1486.6" y="421.9" font-size="9.7" fill="#fff" text-anchor="middle" textLength="43" lengthAdjust="spacingAndGlyphs">Red Devil</text>
<rect x="11.0" y="228.7" width="3" height="15.1" fill="#ff1020"/>
<path d="M16.5,242.1V245.5" stroke="#089981" stroke-width="1"/>
<rect x="15.0" y="242.7" width="3" height="2.4" fill="#089981"/><rect x="16.0" y="243.7" width="1" height="0.4" fill="#000"/>
<path d="M19.5,233.7V243.8" stroke="#089981" stroke-width="1"/>
<rect x="18.0" y="237.8" width="3" height="2" fill="#089981"/>
<path d="M23.5,236.2V238.8" stroke="#f23645" stroke-width="1"/>
<rect x="22.0" y="236.7" width="3" height="1.8" fill="#f23645"/><rect x="23.0" y="237.1" width="1" height="1.0" fill="#ff0000"/>
<path d="M26.5,218.6V251.3" stroke="#089981" stroke-width="1"/>
<rect x="25.0" y="224.5" width="3" height="22.9" fill="#089981"/><rect x="26.0" y="225.5" width="1" height="20.9" fill="#00ff00"/>
<rect x="29.0" y="247.1" width="3" height="57.9" fill="#ff1020"/>
<rect x="32.0" y="295.0" width="3" height="66.3" fill="#ff1020"/>
<path d="M37.5,341.2V378.1" stroke="#089981" stroke-width="1"/>
<rect x="36.0" y="347.8" width="3" height="25.9" fill="#089981"/><rect x="37.0" y="348.8" width="1" height="23.9" fill="#00ff00"/>
<path d="M40.5,316.8V347.9" stroke="#f23645" stroke-width="1"/>
<rect x="39.0" y="322.4" width="3" height="21.7" fill="#f23645"/><rect x="40.0" y="323.4" width="1" height="19.7" fill="#ff0000"/>
<path d="M44.5,334.4V344.5" stroke="#f23645" stroke-width="1"/>
<rect x="43.0" y="336.3" width="3" height="7.1" fill="#f23645"/><rect x="44.0" y="337.3" width="1" height="5.1" fill="#ff0000"/>
<path d="M47.5,323.5V341.2" stroke="#089981" stroke-width="1"/>
<rect x="46.0" y="326.7" width="3" height="12.3" fill="#089981"/><rect x="47.0" y="327.7" width="1" height="10.3" fill="#000"/>
<path d="M51.5,333.6V358.8" stroke="#f23645" stroke-width="1"/>
<rect x="50.0" y="338.1" width="3" height="17.6" fill="#f23645"/><rect x="51.0" y="339.1" width="1" height="15.6" fill="#ff0000"/>
<path d="M54.5,344.5V353.7" stroke="#089981" stroke-width="1"/>
<rect x="53.0" y="346.2" width="3" height="6.5" fill="#089981"/><rect x="54.0" y="347.2" width="1" height="4.5" fill="#00ff00"/>
<path d="M58.5,335.3V351.2" stroke="#f23645" stroke-width="1"/>
<rect x="57.0" y="338.2" width="3" height="11.2" fill="#f23645"/><rect x="58.0" y="339.2" width="1" height="9.2" fill="#ff0000"/>
<path d="M61.5,347.9V359.6" stroke="#089981" stroke-width="1"/>
<rect x="60.0" y="352.7" width="3" height="2" fill="#089981"/>
<path d="M65.5,343.7V356.3" stroke="#089981" stroke-width="1"/>
<rect x="64.0" y="349.0" width="3" height="2" fill="#089981"/>
<path d="M68.5,348.7V357.9" stroke="#089981" stroke-width="1"/>
<rect x="67.0" y="352.3" width="3" height="2" fill="#089981"/>
<path d="M72.5,337.8V355.4" stroke="#f23645" stroke-width="1"/>
<rect x="71.0" y="341.0" width="3" height="12.3" fill="#f23645"/><rect x="72.0" y="342.0" width="1" height="10.3" fill="#ff0000"/>
<path d="M75.5,348.7V358.8" stroke="#f23645" stroke-width="1"/>
<rect x="74.0" y="350.5" width="3" height="7.1" fill="#f23645"/><rect x="75.0" y="351.5" width="1" height="5.1" fill="#ff0000"/>
<path d="M79.5,361.3V363.0" stroke="#f23645" stroke-width="1"/>
<rect x="78.0" y="361.6" width="3" height="1.2" fill="#f23645"/><rect x="79.0" y="362.0" width="1" height="0.4" fill="#ff0000"/>
<path d="M82.5,360.5V372.2" stroke="#f23645" stroke-width="1"/>
<rect x="81.0" y="362.6" width="3" height="8.2" fill="#f23645"/><rect x="82.0" y="363.6" width="1" height="6.2" fill="#ff0000"/>
<path d="M86.5,344.5V360.5" stroke="#f23645" stroke-width="1"/>
<rect x="85.0" y="347.4" width="3" height="11.2" fill="#f23645"/><rect x="86.0" y="348.4" width="1" height="9.2" fill="#ff0000"/>
<path d="M89.5,362.1V371.4" stroke="#089981" stroke-width="1"/>
<rect x="88.0" y="363.8" width="3" height="6.5" fill="#089981"/><rect x="89.0" y="364.8" width="1" height="4.5" fill="#00ff00"/>
<path d="M93.5,336.1V373.1" stroke="#089981" stroke-width="1"/>
<rect x="92.0" y="342.8" width="3" height="25.9" fill="#089981"/><rect x="93.0" y="343.8" width="1" height="23.9" fill="#00ff00"/>
<path d="M96.5,342.0V357.9" stroke="#f23645" stroke-width="1"/>
<rect x="95.0" y="344.9" width="3" height="11.2" fill="#f23645"/><rect x="96.0" y="345.9" width="1" height="9.2" fill="#ff0000"/>
<path d="M100.5,359.6V366.3" stroke="#f23645" stroke-width="1"/>
<rect x="99.0" y="360.8" width="3" height="4.7" fill="#f23645"/><rect x="100.0" y="361.8" width="1" height="2.7" fill="#ff0000"/>
<path d="M103.5,345.4V367.2" stroke="#089981" stroke-width="1"/>
<rect x="102.0" y="355.3" width="3" height="2" fill="#089981"/>
<path d="M107.5,350.4V363.0" stroke="#f23645" stroke-width="1"/>
<rect x="106.0" y="352.7" width="3" height="8.8" fill="#f23645"/><rect x="107.0" y="353.7" width="1" height="6.8" fill="#ff0000"/>
<path d="M110.5,357.9V366.3" stroke="#089981" stroke-width="1"/>
<rect x="109.0" y="359.5" width="3" height="5.9" fill="#089981"/><rect x="110.0" y="360.5" width="1" height="3.9" fill="#000"/>
<path d="M114.5,371.4V383.1" stroke="#f23645" stroke-width="1"/>
<rect x="113.0" y="373.5" width="3" height="8.2" fill="#f23645"/><rect x="114.0" y="374.5" width="1" height="6.2" fill="#ff0000"/>
<path d="M117.5,378.1V396.6" stroke="#089981" stroke-width="1"/>
<rect x="116.0" y="381.4" width="3" height="12.9" fill="#089981"/><rect x="117.0" y="382.4" width="1" height="10.9" fill="#000"/>
<path d="M121.5,392.9V410.5" stroke="#f23645" stroke-width="1"/>
<rect x="120.0" y="396.1" width="3" height="12.3" fill="#f23645"/><rect x="121.0" y="397.1" width="1" height="10.3" fill="#ff0000"/>
<path d="M124.5,403.0V415.5" stroke="#f23645" stroke-width="1"/>
<rect x="123.0" y="405.2" width="3" height="8.8" fill="#f23645"/><rect x="124.0" y="406.2" width="1" height="6.8" fill="#ff0000"/>
<path d="M128.5,405.5V417.2" stroke="#f23645" stroke-width="1"/>
<rect x="127.0" y="407.6" width="3" height="8.2" fill="#f23645"/><rect x="128.0" y="408.6" width="1" height="6.2" fill="#ff0000"/>
<path d="M131.5,412.2V418.1" stroke="#089981" stroke-width="1"/>
<rect x="130.0" y="413.2" width="3" height="4.1" fill="#089981"/><rect x="131.0" y="414.2" width="1" height="2.1" fill="#000"/>
<path d="M135.5,397.1V415.5" stroke="#089981" stroke-width="1"/>
<rect x="134.0" y="400.4" width="3" height="12.9" fill="#089981"/><rect x="135.0" y="401.4" width="1" height="10.9" fill="#00ff00"/>
<path d="M138.5,387.8V404.6" stroke="#089981" stroke-width="1"/>
<rect x="137.0" y="390.9" width="3" height="11.8" fill="#089981"/><rect x="138.0" y="391.9" width="1" height="9.8" fill="#00ff00"/>
<path d="M142.5,384.5V397.1" stroke="#089981" stroke-width="1"/>
<rect x="141.0" y="389.8" width="3" height="2" fill="#089981"/>
<path d="M145.5,385.3V401.3" stroke="#089981" stroke-width="1"/>
<rect x="144.0" y="388.2" width="3" height="11.2" fill="#089981"/><rect x="145.0" y="389.2" width="1" height="9.2" fill="#00ff00"/>
<path d="M149.5,393.7V419.7" stroke="#f23645" stroke-width="1"/>
<rect x="148.0" y="398.4" width="3" height="18.2" fill="#f23645"/><rect x="149.0" y="399.4" width="1" height="16.2" fill="#ff0000"/>
<path d="M152.5,415.5V432.3" stroke="#f23645" stroke-width="1"/>
<rect x="151.0" y="418.6" width="3" height="11.8" fill="#f23645"/><rect x="152.0" y="419.6" width="1" height="9.8" fill="#ff0000"/>
<path d="M156.5,391.2V421.4" stroke="#089981" stroke-width="1"/>
<rect x="155.0" y="405.3" width="3" height="2" fill="#089981"/>
<path d="M159.5,406.3V418.9" stroke="#f23645" stroke-width="1"/>
<rect x="158.0" y="408.6" width="3" height="8.8" fill="#f23645"/><rect x="159.0" y="409.6" width="1" height="6.8" fill="#ff0000"/>
<path d="M163.5,401.3V416.4" stroke="#f23645" stroke-width="1"/>
<rect x="162.0" y="404.0" width="3" height="10.6" fill="#f23645"/><rect x="163.0" y="405.0" width="1" height="8.6" fill="#ff0000"/>
<path d="M166.5,400.4V418.9" stroke="#089981" stroke-width="1"/>
<rect x="165.0" y="408.7" width="3" height="2" fill="#089981"/>
<path d="M170.5,391.2V407.1" stroke="#089981" stroke-width="1"/>
<rect x="169.0" y="394.1" width="3" height="11.2" fill="#089981"/><rect x="170.0" y="395.1" width="1" height="9.2" fill="#00ff00"/>
<path d="M173.5,393.7V413.9" stroke="#f23645" stroke-width="1"/>
<rect x="172.0" y="397.3" width="3" height="14.1" fill="#f23645"/><rect x="173.0" y="398.3" width="1" height="12.1" fill="#ff0000"/>
<path d="M177.5,403.0V413.9" stroke="#089981" stroke-width="1"/>
<rect x="176.0" y="407.4" width="3" height="2" fill="#089981"/>
<path d="M180.5,413.9V429.8" stroke="#f23645" stroke-width="1"/>
<rect x="179.0" y="416.7" width="3" height="11.2" fill="#f23645"/><rect x="180.0" y="417.7" width="1" height="9.2" fill="#ff0000"/>
<path d="M184.5,420.6V430.6" stroke="#089981" stroke-width="1"/>
<rect x="183.0" y="424.6" width="3" height="2" fill="#089981"/>
<path d="M187.5,423.9V439.0" stroke="#f23645" stroke-width="1"/>
<rect x="186.0" y="426.7" width="3" height="10.6" fill="#f23645"/><rect x="187.0" y="427.7" width="1" height="8.6" fill="#ff0000"/>
<path d="M191.5,421.4V434.0" stroke="#089981" stroke-width="1"/>
<rect x="190.0" y="426.7" width="3" height="2" fill="#089981"/>
<path d="M194.5,423.9V433.2" stroke="#089981" stroke-width="1"/>
<rect x="193.0" y="425.6" width="3" height="6.5" fill="#089981"/><rect x="194.0" y="426.6" width="1" height="4.5" fill="#000"/>
<path d="M198.5,425.6V434.8" stroke="#f23645" stroke-width="1"/>
<rect x="197.0" y="427.3" width="3" height="6.5" fill="#f23645"/><rect x="198.0" y="428.3" width="1" height="4.5" fill="#ff0000"/>
<path d="M201.5,427.3V439.9" stroke="#f23645" stroke-width="1"/>
<rect x="200.0" y="429.6" width="3" height="8.8" fill="#f23645"/><rect x="201.0" y="430.6" width="1" height="6.8" fill="#ff0000"/>
<path d="M205.5,432.3V439.9" stroke="#089981" stroke-width="1"/>
<rect x="204.0" y="433.7" width="3" height="5.3" fill="#089981"/><rect x="205.0" y="434.7" width="1" height="3.3" fill="#00ff00"/>
<path d="M208.5,429.8V435.7" stroke="#089981" stroke-width="1"/>
<rect x="207.0" y="430.9" width="3" height="4.1" fill="#089981"/><rect x="208.0" y="431.9" width="1" height="2.1" fill="#00ff00"/>
<path d="M212.5,420.6V431.5" stroke="#089981" stroke-width="1"/>
<rect x="211.0" y="422.5" width="3" height="7.6" fill="#089981"/><rect x="212.0" y="423.5" width="1" height="5.6" fill="#00ff00"/>
<path d="M215.5,411.3V425.6" stroke="#089981" stroke-width="1"/>
<rect x="214.0" y="413.9" width="3" height="10.0" fill="#089981"/><rect x="215.0" y="414.9" width="1" height="8.0" fill="#00ff00"/>
<path d="M219.5,400.4V416.4" stroke="#f23645" stroke-width="1"/>
<rect x="218.0" y="403.3" width="3" height="11.2" fill="#f23645"/><rect x="219.0" y="404.3" width="1" height="9.2" fill="#ff0000"/>
<path d="M222.5,405.5V415.5" stroke="#089981" stroke-width="1"/>
<rect x="221.0" y="409.5" width="3" height="2" fill="#089981"/>
<path d="M226.5,394.6V419.7" stroke="#f23645" stroke-width="1"/>
<rect x="225.0" y="399.1" width="3" height="17.6" fill="#f23645"/><rect x="226.0" y="400.1" width="1" height="15.6" fill="#ff0000"/>
<path d="M229.5,376.9V418.9" stroke="#089981" stroke-width="1"/>
<rect x="228.0" y="384.5" width="3" height="29.4" fill="#089981"/><rect x="229.0" y="385.5" width="1" height="27.4" fill="#00ff00"/>
<path d="M233.5,347.9V395.0" stroke="#089981" stroke-width="1"/>
<rect x="232.0" y="356.4" width="3" height="33.0" fill="#089981"/><rect x="233.0" y="357.4" width="1" height="31.0" fill="#00ff00"/>
<path d="M236.5,321.8V362.1" stroke="#089981" stroke-width="1"/>
<rect x="235.0" y="329.1" width="3" height="28.2" fill="#089981"/><rect x="236.0" y="330.1" width="1" height="26.2" fill="#00ff00"/>
<path d="M240.5,321.0V341.2" stroke="#089981" stroke-width="1"/>
<rect x="239.0" y="324.6" width="3" height="14.1" fill="#089981"/><rect x="240.0" y="325.6" width="1" height="12.1" fill="#00ff00"/>
<path d="M243.5,338.6V384.8" stroke="#089981" stroke-width="1"/>
<rect x="242.0" y="346.9" width="3" height="32.3" fill="#089981"/><rect x="243.0" y="347.9" width="1" height="30.3" fill="#000"/>
<path d="M247.5,347.9V380.6" stroke="#089981" stroke-width="1"/>
<rect x="246.0" y="353.8" width="3" height="22.9" fill="#089981"/><rect x="247.0" y="354.8" width="1" height="20.9" fill="#000"/>
<path d="M250.5,321.8V344.5" stroke="#089981" stroke-width="1"/>
<rect x="249.0" y="325.9" width="3" height="15.9" fill="#089981"/><rect x="250.0" y="326.9" width="1" height="13.9" fill="#000"/>
<rect x="253.0" y="303.4" width="3" height="69.7" fill="#ff1020"/>
<path d="M257.5,371.9V400.4" stroke="#f23645" stroke-width="1"/>
<rect x="256.0" y="377.0" width="3" height="20.0" fill="#f23645"/><rect x="257.0" y="378.0" width="1" height="18.0" fill="#ff0000"/>
<path d="M261.5,378.6V395.4" stroke="#089981" stroke-width="1"/>
<rect x="260.0" y="381.6" width="3" height="11.8" fill="#089981"/><rect x="261.0" y="382.6" width="1" height="9.8" fill="#00ff00"/>
<path d="M264.5,371.9V408.8" stroke="#f23645" stroke-width="1"/>
<rect x="263.0" y="378.5" width="3" height="25.9" fill="#f23645"/><rect x="264.0" y="379.5" width="1" height="23.9" fill="#ff0000"/>
<path d="M268.5,400.4V419.7" stroke="#f23645" stroke-width="1"/>
<rect x="267.0" y="403.9" width="3" height="13.5" fill="#f23645"/><rect x="268.0" y="404.9" width="1" height="11.5" fill="#ff0000"/>
<path d="M271.5,410.5V423.9" stroke="#f23645" stroke-width="1"/>
<rect x="270.0" y="412.9" width="3" height="9.4" fill="#f23645"/><rect x="271.0" y="413.9" width="1" height="7.4" fill="#ff0000"/>
<path d="M275.5,408.8V425.6" stroke="#089981" stroke-width="1"/>
<rect x="274.0" y="411.8" width="3" height="11.8" fill="#089981"/><rect x="275.0" y="412.8" width="1" height="9.8" fill="#000"/>
<path d="M278.5,404.6V423.9" stroke="#089981" stroke-width="1"/>
<rect x="277.0" y="408.1" width="3" height="13.5" fill="#089981"/><rect x="278.0" y="409.1" width="1" height="11.5" fill="#000"/>
<path d="M282.5,393.7V413.0" stroke="#089981" stroke-width="1"/>
<rect x="281.0" y="402.4" width="3" height="2" fill="#089981"/>
<path d="M285.5,326.1V408.0" stroke="#089981" stroke-width="1"/>
<rect x="284.0" y="340.8" width="3" height="57.3" fill="#089981"/><rect x="285.0" y="341.8" width="1" height="55.3" fill="#00ff00"/>
<path d="M289.5,320.2V380.6" stroke="#089981" stroke-width="1"/>
<rect x="288.0" y="331.0" width="3" height="42.3" fill="#089981"/><rect x="289.0" y="332.0" width="1" height="40.3" fill="#00ff00"/>
<path d="M292.5,326.0V352.9" stroke="#f23645" stroke-width="1"/>
<rect x="291.0" y="330.9" width="3" height="18.8" fill="#f23645"/><rect x="292.0" y="331.9" width="1" height="16.8" fill="#ff0000"/>
<path d="M296.5,305.1V352.1" stroke="#089981" stroke-width="1"/>
<rect x="295.0" y="313.5" width="3" height="32.9" fill="#089981"/><rect x="296.0" y="314.5" width="1" height="30.9" fill="#00ff00"/>
<path d="M299.5,326.9V352.9" stroke="#089981" stroke-width="1"/>
<rect x="298.0" y="331.6" width="3" height="18.2" fill="#089981"/><rect x="299.0" y="332.6" width="1" height="16.2" fill="#000"/>
<path d="M303.5,353.7V387.3" stroke="#f23645" stroke-width="1"/>
<rect x="302.0" y="359.8" width="3" height="23.5" fill="#f23645"/><rect x="303.0" y="360.8" width="1" height="21.5" fill="#ff0000"/>
<path d="M306.5,371.1V390.4" stroke="#f23645" stroke-width="1"/>
<rect x="305.0" y="374.5" width="3" height="13.5" fill="#f23645"/><rect x="306.0" y="375.5" width="1" height="11.5" fill="#ff0000"/>
<path d="M310.5,377.8V392.0" stroke="#f23645" stroke-width="1"/>
<rect x="309.0" y="380.3" width="3" height="10.0" fill="#f23645"/><rect x="310.0" y="381.3" width="1" height="8.0" fill="#ff0000"/>
<path d="M313.5,377.8V390.4" stroke="#089981" stroke-width="1"/>
<rect x="312.0" y="383.1" width="3" height="2" fill="#089981"/>
<path d="M317.5,360.5V380.6" stroke="#089981" stroke-width="1"/>
<rect x="316.0" y="364.1" width="3" height="14.1" fill="#089981"/><rect x="317.0" y="365.1" width="1" height="12.1" fill="#000"/>
<path d="M320.5,359.6V369.7" stroke="#f23645" stroke-width="1"/>
<rect x="319.0" y="361.4" width="3" height="7.1" fill="#f23645"/><rect x="320.0" y="362.4" width="1" height="5.1" fill="#ff0000"/>
<path d="M324.5,337.8V359.6" stroke="#089981" stroke-width="1"/>
<rect x="323.0" y="341.7" width="3" height="15.3" fill="#089981"/><rect x="324.0" y="342.7" width="1" height="13.3" fill="#00ff00"/>
<path d="M327.5,345.4V362.1" stroke="#089981" stroke-width="1"/>
<rect x="326.0" y="348.4" width="3" height="11.8" fill="#089981"/><rect x="327.0" y="349.4" width="1" height="9.8" fill="#00ff00"/>
<path d="M331.5,341.5V358.3" stroke="#f23645" stroke-width="1"/>
<rect x="330.0" y="344.5" width="3" height="11.8" fill="#f23645"/><rect x="331.0" y="345.5" width="1" height="9.8" fill="#ff0000"/>
<path d="M334.5,336.5V364.2" stroke="#089981" stroke-width="1"/>
<rect x="333.0" y="341.4" width="3" height="19.4" fill="#089981"/><rect x="334.0" y="342.4" width="1" height="17.4" fill="#000"/>
<path d="M338.5,323.9V357.4" stroke="#f23645" stroke-width="1"/>
<rect x="337.0" y="329.9" width="3" height="23.5" fill="#f23645"/><rect x="338.0" y="330.9" width="1" height="21.5" fill="#ff0000"/>
<path d="M341.5,343.2V365.8" stroke="#f23645" stroke-width="1"/>
<rect x="340.0" y="347.2" width="3" height="15.9" fill="#f23645"/><rect x="341.0" y="348.2" width="1" height="13.9" fill="#ff0000"/>
<path d="M345.5,347.4V362.5" stroke="#f23645" stroke-width="1"/>
<rect x="344.0" y="350.1" width="3" height="10.6" fill="#f23645"/><rect x="345.0" y="351.1" width="1" height="8.6" fill="#ff0000"/>
<path d="M348.5,362.5V372.5" stroke="#f23645" stroke-width="1"/>
<rect x="347.0" y="364.3" width="3" height="7.1" fill="#f23645"/><rect x="348.0" y="365.3" width="1" height="5.1" fill="#ff0000"/>
<path d="M352.5,364.2V373.4" stroke="#089981" stroke-width="1"/>
<rect x="351.0" y="367.8" width="3" height="2" fill="#089981"/>
<path d="M355.5,354.1V369.2" stroke="#089981" stroke-width="1"/>
<rect x="354.0" y="356.8" width="3" height="10.6" fill="#089981"/><rect x="355.0" y="357.8" width="1" height="8.6" fill="#000"/>
<path d="M359.5,357.4V361.6" stroke="#f23645" stroke-width="1"/>
<rect x="358.0" y="358.2" width="3" height="2.9" fill="#f23645"/><rect x="359.0" y="359.2" width="1" height="0.9" fill="#ff0000"/>
<path d="M362.5,357.4V373.4" stroke="#089981" stroke-width="1"/>
<rect x="361.0" y="360.3" width="3" height="11.2" fill="#089981"/><rect x="362.0" y="361.3" width="1" height="9.2" fill="#000"/>
<rect x="365.0" y="372.5" width="3" height="31.1" fill="#ff1020"/>
<rect x="368.0" y="405.3" width="3" height="15.9" fill="#ff1020"/>
<path d="M373.5,421.2V433.0" stroke="#f23645" stroke-width="1"/>
<rect x="372.0" y="423.3" width="3" height="8.2" fill="#f23645"/><rect x="373.0" y="424.3" width="1" height="6.2" fill="#ff0000"/>
<path d="M376.5,422.9V431.3" stroke="#f23645" stroke-width="1"/>
<rect x="375.0" y="424.4" width="3" height="5.9" fill="#f23645"/><rect x="376.0" y="425.4" width="1" height="3.9" fill="#ff0000"/>
<path d="M380.5,411.2V426.3" stroke="#089981" stroke-width="1"/>
<rect x="379.0" y="417.7" width="3" height="2" fill="#089981"/>
<path d="M383.5,398.6V424.6" stroke="#089981" stroke-width="1"/>
<rect x="382.0" y="403.2" width="3" height="18.2" fill="#089981"/><rect x="383.0" y="404.2" width="1" height="16.2" fill="#000"/>
<path d="M387.5,407.0V410.3" stroke="#f23645" stroke-width="1"/>
<rect x="386.0" y="407.6" width="3" height="2.4" fill="#f23645"/><rect x="387.0" y="408.6" width="1" height="0.4" fill="#ff0000"/>
<path d="M390.5,401.9V421.2" stroke="#f23645" stroke-width="1"/>
<rect x="389.0" y="405.4" width="3" height="13.5" fill="#f23645"/><rect x="390.0" y="406.4" width="1" height="11.5" fill="#ff0000"/>
<path d="M394.5,413.7V427.9" stroke="#f23645" stroke-width="1"/>
<rect x="393.0" y="416.2" width="3" height="10.0" fill="#f23645"/><rect x="394.0" y="417.2" width="1" height="8.0" fill="#ff0000"/>
<path d="M397.5,400.2V422.9" stroke="#089981" stroke-width="1"/>
<rect x="396.0" y="404.3" width="3" height="15.9" fill="#089981"/><rect x="397.0" y="405.3" width="1" height="13.9" fill="#00ff00"/>
<path d="M401.5,404.4V415.4" stroke="#089981" stroke-width="1"/>
<rect x="400.0" y="406.4" width="3" height="7.6" fill="#089981"/><rect x="401.0" y="407.4" width="1" height="5.6" fill="#000"/>
<path d="M404.5,372.5V410.3" stroke="#089981" stroke-width="1"/>
<rect x="403.0" y="379.3" width="3" height="26.4" fill="#089981"/><rect x="404.0" y="380.3" width="1" height="24.4" fill="#00ff00"/>
<path d="M408.5,353.2V382.6" stroke="#f23645" stroke-width="1"/>
<rect x="407.0" y="358.5" width="3" height="20.6" fill="#f23645"/><rect x="408.0" y="359.5" width="1" height="18.6" fill="#ff0000"/>
<path d="M411.5,349.0V377.6" stroke="#089981" stroke-width="1"/>
<rect x="410.0" y="354.2" width="3" height="20.0" fill="#089981"/><rect x="411.0" y="355.2" width="1" height="18.0" fill="#00ff00"/>
<path d="M415.5,354.9V376.7" stroke="#f23645" stroke-width="1"/>
<rect x="414.0" y="358.8" width="3" height="15.3" fill="#f23645"/><rect x="415.0" y="359.8" width="1" height="13.3" fill="#ff0000"/>
<path d="M418.5,367.5V392.7" stroke="#089981" stroke-width="1"/>
<rect x="417.0" y="372.0" width="3" height="17.6" fill="#089981"/><rect x="418.0" y="373.0" width="1" height="15.6" fill="#000"/>
<path d="M422.5,384.3V395.2" stroke="#089981" stroke-width="1"/>
<rect x="421.0" y="386.3" width="3" height="7.6" fill="#089981"/><rect x="422.0" y="387.3" width="1" height="5.6" fill="#000"/>
<path d="M425.5,394.4V406.1" stroke="#f23645" stroke-width="1"/>
<rect x="424.0" y="396.5" width="3" height="8.2" fill="#f23645"/><rect x="425.0" y="397.5" width="1" height="6.2" fill="#ff0000"/>
<path d="M429.5,396.9V407.8" stroke="#089981" stroke-width="1"/>
<rect x="428.0" y="401.3" width="3" height="2" fill="#089981"/>
<path d="M432.5,399.4V408.6" stroke="#f23645" stroke-width="1"/>
<rect x="431.0" y="401.1" width="3" height="6.5" fill="#f23645"/><rect x="432.0" y="402.1" width="1" height="4.5" fill="#ff0000"/>
<path d="M436.5,390.2V407.0" stroke="#089981" stroke-width="1"/>
<rect x="435.0" y="393.2" width="3" height="11.8" fill="#089981"/><rect x="436.0" y="394.2" width="1" height="9.8" fill="#000"/>
<path d="M439.5,389.3V413.7" stroke="#089981" stroke-width="1"/>
<rect x="438.0" y="393.7" width="3" height="17.0" fill="#089981"/><rect x="439.0" y="394.7" width="1" height="15.0" fill="#000"/>
<path d="M443.5,399.4V410.3" stroke="#089981" stroke-width="1"/>
<rect x="442.0" y="403.9" width="3" height="2" fill="#089981"/>
<path d="M446.5,392.7V401.1" stroke="#089981" stroke-width="1"/>
<rect x="445.0" y="394.2" width="3" height="5.9" fill="#089981"/><rect x="446.0" y="395.2" width="1" height="3.9" fill="#00ff00"/>
<rect x="449.0" y="445.0" width="3" height="64.6" fill="#ff1020"/>
<rect x="452.0" y="510.5" width="3" height="36.9" fill="#ff1020"/>
<path d="M457.5,531.5V558.3" stroke="#f23645" stroke-width="1"/>
<rect x="456.0" y="536.3" width="3" height="18.8" fill="#f23645"/><rect x="457.0" y="537.3" width="1" height="16.8" fill="#ff0000"/>
<rect x="459.0" y="550.0" width="3" height="57.9" fill="#ff1020"/>
<path d="M464.5,561.7V586.0" stroke="#089981" stroke-width="1"/>
<rect x="463.0" y="566.1" width="3" height="17.0" fill="#089981"/><rect x="464.0" y="567.1" width="1" height="15.0" fill="#00ff00"/>
<path d="M467.5,552.5V578.5" stroke="#089981" stroke-width="1"/>
<rect x="466.0" y="557.2" width="3" height="18.2" fill="#089981"/><rect x="467.0" y="558.2" width="1" height="16.2" fill="#000"/>
<path d="M471.5,558.3V580.2" stroke="#f23645" stroke-width="1"/>
<rect x="470.0" y="562.3" width="3" height="15.3" fill="#f23645"/><rect x="471.0" y="563.3" width="1" height="13.3" fill="#ff0000"/>
<path d="M474.5,559.2V574.3" stroke="#089981" stroke-width="1"/>
<rect x="473.0" y="561.9" width="3" height="10.6" fill="#089981"/><rect x="474.0" y="562.9" width="1" height="8.6" fill="#00ff00"/>
<path d="M478.5,572.6V600.3" stroke="#f23645" stroke-width="1"/>
<rect x="477.0" y="577.6" width="3" height="19.4" fill="#f23645"/><rect x="478.0" y="578.6" width="1" height="17.4" fill="#ff0000"/>
<path d="M481.5,597.8V634.7" stroke="#f23645" stroke-width="1"/>
<rect x="480.0" y="604.4" width="3" height="25.9" fill="#f23645"/><rect x="481.0" y="605.4" width="1" height="23.9" fill="#ff0000"/>
<path d="M485.5,587.7V623.0" stroke="#089981" stroke-width="1"/>
<rect x="484.0" y="594.1" width="3" height="24.7" fill="#089981"/><rect x="485.0" y="595.1" width="1" height="22.7" fill="#000"/>
<path d="M488.5,547.4V581.8" stroke="#089981" stroke-width="1"/>
<rect x="487.0" y="553.6" width="3" height="24.1" fill="#089981"/><rect x="488.0" y="554.6" width="1" height="22.1" fill="#00ff00"/>
<path d="M492.5,550.8V567.6" stroke="#f23645" stroke-width="1"/>
<rect x="491.0" y="553.8" width="3" height="11.8" fill="#f23645"/><rect x="492.0" y="554.8" width="1" height="9.8" fill="#ff0000"/>
<path d="M495.5,549.1V564.2" stroke="#089981" stroke-width="1"/>
<rect x="494.0" y="551.8" width="3" height="10.6" fill="#089981"/><rect x="495.0" y="552.8" width="1" height="8.6" fill="#00ff00"/>
<path d="M499.5,523.1V543.2" stroke="#089981" stroke-width="1"/>
<rect x="498.0" y="526.7" width="3" height="14.1" fill="#089981"/><rect x="499.0" y="527.7" width="1" height="12.1" fill="#00ff00"/>
<path d="M502.5,505.5V532.3" stroke="#089981" stroke-width="1"/>
<rect x="501.0" y="517.9" width="3" height="2" fill="#089981"/>
<path d="M506.5,509.7V532.3" stroke="#f23645" stroke-width="1"/>
<rect x="505.0" y="513.7" width="3" height="15.9" fill="#f23645"/><rect x="506.0" y="514.7" width="1" height="13.9" fill="#ff0000"/>
<path d="M509.5,513.9V529.0" stroke="#089981" stroke-width="1"/>
<rect x="508.0" y="516.6" width="3" height="10.6" fill="#089981"/><rect x="509.0" y="517.6" width="1" height="8.6" fill="#000"/>
<rect x="512.0" y="458.5" width="3" height="62.1" fill="#089981"/><rect x="513.0" y="459.5" width="1" height="60.1" fill="#00ff00"/>
<path d="M516.5,452.6V477.8" stroke="#f23645" stroke-width="1"/>
<rect x="515.0" y="457.1" width="3" height="17.6" fill="#f23645"/><rect x="516.0" y="458.1" width="1" height="15.6" fill="#ff0000"/>
<path d="M520.5,464.3V477.8" stroke="#089981" stroke-width="1"/>
<rect x="519.0" y="466.8" width="3" height="9.4" fill="#089981"/><rect x="520.0" y="467.8" width="1" height="7.4" fill="#000"/>
<path d="M523.5,453.4V477.8" stroke="#089981" stroke-width="1"/>
<rect x="522.0" y="457.8" width="3" height="17.0" fill="#089981"/><rect x="523.0" y="458.8" width="1" height="15.0" fill="#00ff00"/>
<path d="M527.5,433.8V466.6" stroke="#089981" stroke-width="1"/>
<rect x="526.0" y="439.7" width="3" height="22.9" fill="#089981"/><rect x="527.0" y="440.7" width="1" height="20.9" fill="#00ff00"/>
<path d="M530.5,443.1V453.1" stroke="#089981" stroke-width="1"/>
<rect x="529.0" y="444.9" width="3" height="7.1" fill="#089981"/><rect x="530.0" y="445.9" width="1" height="5.1" fill="#000"/>
<path d="M534.5,427.9V454.8" stroke="#089981" stroke-width="1"/>
<rect x="533.0" y="432.8" width="3" height="18.8" fill="#089981"/><rect x="534.0" y="433.8" width="1" height="16.8" fill="#000"/>
<path d="M537.5,417.9V439.7" stroke="#f23645" stroke-width="1"/>
<rect x="536.0" y="421.8" width="3" height="15.3" fill="#f23645"/><rect x="537.0" y="422.8" width="1" height="13.3" fill="#ff0000"/>
<path d="M541.5,434.7V454.0" stroke="#f23645" stroke-width="1"/>
<rect x="540.0" y="438.1" width="3" height="13.5" fill="#f23645"/><rect x="541.0" y="439.1" width="1" height="11.5" fill="#ff0000"/>
<path d="M544.5,446.4V466.6" stroke="#f23645" stroke-width="1"/>
<rect x="543.0" y="450.0" width="3" height="14.1" fill="#f23645"/><rect x="544.0" y="451.0" width="1" height="12.1" fill="#ff0000"/>
<path d="M548.5,453.1V466.6" stroke="#089981" stroke-width="1"/>
<rect x="547.0" y="458.8" width="3" height="2" fill="#089981"/>
<path d="M551.5,425.4V455.6" stroke="#089981" stroke-width="1"/>
<rect x="550.0" y="430.9" width="3" height="21.2" fill="#089981"/><rect x="551.0" y="431.9" width="1" height="19.2" fill="#000"/>
<path d="M555.5,427.9V439.7" stroke="#089981" stroke-width="1"/>
<rect x="554.0" y="432.8" width="3" height="2" fill="#089981"/>
<path d="M558.5,426.3V449.8" stroke="#f23645" stroke-width="1"/>
<rect x="557.0" y="430.5" width="3" height="16.5" fill="#f23645"/><rect x="558.0" y="431.5" width="1" height="14.5" fill="#ff0000"/>
<path d="M562.5,412.0V437.2" stroke="#089981" stroke-width="1"/>
<rect x="561.0" y="416.5" width="3" height="17.6" fill="#089981"/><rect x="562.0" y="417.5" width="1" height="15.6" fill="#00ff00"/>
<path d="M565.5,370.9V408.6" stroke="#089981" stroke-width="1"/>
<rect x="564.0" y="377.7" width="3" height="26.4" fill="#089981"/><rect x="565.0" y="378.7" width="1" height="24.4" fill="#00ff00"/>
<path d="M569.5,345.7V391.8" stroke="#f23645" stroke-width="1"/>
<rect x="568.0" y="354.0" width="3" height="32.3" fill="#f23645"/><rect x="569.0" y="355.0" width="1" height="30.3" fill="#ff0000"/>
<path d="M572.5,357.4V379.3" stroke="#089981" stroke-width="1"/>
<rect x="571.0" y="361.4" width="3" height="15.3" fill="#089981"/><rect x="572.0" y="362.4" width="1" height="13.3" fill="#00ff00"/>
<path d="M576.5,334.8V358.3" stroke="#f23645" stroke-width="1"/>
<rect x="575.0" y="339.0" width="3" height="16.5" fill="#f23645"/><rect x="576.0" y="340.0" width="1" height="14.5" fill="#ff0000"/>
<path d="M579.5,343.2V381.8" stroke="#089981" stroke-width="1"/>
<rect x="578.0" y="361.5" width="3" height="2" fill="#089981"/>
<path d="M583.5,348.2V379.3" stroke="#089981" stroke-width="1"/>
<rect x="582.0" y="353.8" width="3" height="21.7" fill="#089981"/><rect x="583.0" y="354.8" width="1" height="19.7" fill="#000"/>
<path d="M586.5,367.5V396.0" stroke="#f23645" stroke-width="1"/>
<rect x="585.0" y="372.6" width="3" height="20.0" fill="#f23645"/><rect x="586.0" y="373.6" width="1" height="18.0" fill="#ff0000"/>
<path d="M590.5,377.6V414.5" stroke="#f23645" stroke-width="1"/>
<rect x="589.0" y="384.2" width="3" height="25.9" fill="#f23645"/><rect x="590.0" y="385.2" width="1" height="23.9" fill="#ff0000"/>
<path d="M593.5,384.3V401.1" stroke="#f23645" stroke-width="1"/>
<rect x="592.0" y="387.3" width="3" height="11.8" fill="#f23645"/><rect x="593.0" y="388.3" width="1" height="9.8" fill="#ff0000"/>
<path d="M597.5,361.6V400.2" stroke="#089981" stroke-width="1"/>
<rect x="596.0" y="368.6" width="3" height="27.0" fill="#089981"/><rect x="597.0" y="369.6" width="1" height="25.0" fill="#00ff00"/>
<path d="M600.5,355.8V370.9" stroke="#f23645" stroke-width="1"/>
<rect x="599.0" y="358.5" width="3" height="10.6" fill="#f23645"/><rect x="600.0" y="359.5" width="1" height="8.6" fill="#ff0000"/>
<path d="M604.5,342.3V358.3" stroke="#f23645" stroke-width="1"/>
<rect x="603.0" y="345.2" width="3" height="11.2" fill="#f23645"/><rect x="604.0" y="346.2" width="1" height="9.2" fill="#ff0000"/>
<path d="M607.5,333.9V370.9" stroke="#089981" stroke-width="1"/>
<rect x="606.0" y="351.4" width="3" height="2" fill="#089981"/>
<path d="M611.5,344.0V355.8" stroke="#f23645" stroke-width="1"/>
<rect x="610.0" y="346.1" width="3" height="8.2" fill="#f23645"/><rect x="611.0" y="347.1" width="1" height="6.2" fill="#ff0000"/>
<path d="M614.5,361.6V379.3" stroke="#f23645" stroke-width="1"/>
<rect x="613.0" y="364.8" width="3" height="12.3" fill="#f23645"/><rect x="614.0" y="365.8" width="1" height="10.3" fill="#ff0000"/>
<path d="M618.5,365.0V384.3" stroke="#f23645" stroke-width="1"/>
<rect x="617.0" y="368.5" width="3" height="13.5" fill="#f23645"/><rect x="618.0" y="369.5" width="1" height="11.5" fill="#ff0000"/>
<path d="M621.5,370.9V397.7" stroke="#f23645" stroke-width="1"/>
<rect x="620.0" y="375.7" width="3" height="18.8" fill="#f23645"/><rect x="621.0" y="376.7" width="1" height="16.8" fill="#ff0000"/>
<path d="M625.5,374.2V391.0" stroke="#089981" stroke-width="1"/>
<rect x="624.0" y="377.2" width="3" height="11.8" fill="#089981"/><rect x="625.0" y="378.2" width="1" height="9.8" fill="#00ff00"/>
<path d="M628.5,365.8V379.3" stroke="#f23645" stroke-width="1"/>
<rect x="627.0" y="368.2" width="3" height="9.4" fill="#f23645"/><rect x="628.0" y="369.2" width="1" height="7.4" fill="#ff0000"/>
<path d="M632.5,365.8V379.3" stroke="#089981" stroke-width="1"/>
<rect x="631.0" y="368.2" width="3" height="9.4" fill="#089981"/><rect x="632.0" y="369.2" width="1" height="7.4" fill="#000"/>
<path d="M635.5,364.2V384.3" stroke="#f23645" stroke-width="1"/>
<rect x="634.0" y="367.8" width="3" height="14.1" fill="#f23645"/><rect x="635.0" y="368.8" width="1" height="12.1" fill="#ff0000"/>
<path d="M639.5,382.6V386.0" stroke="#f23645" stroke-width="1"/>
<rect x="638.0" y="383.2" width="3" height="2.4" fill="#f23645"/><rect x="639.0" y="384.2" width="1" height="0.4" fill="#ff0000"/>
<path d="M642.5,384.3V402.8" stroke="#f23645" stroke-width="1"/>
<rect x="641.0" y="387.6" width="3" height="12.9" fill="#f23645"/><rect x="642.0" y="388.6" width="1" height="10.9" fill="#ff0000"/>
<path d="M646.5,394.4V417.9" stroke="#f23645" stroke-width="1"/>
<rect x="645.0" y="398.6" width="3" height="16.5" fill="#f23645"/><rect x="646.0" y="399.6" width="1" height="14.5" fill="#ff0000"/>
<path d="M649.5,404.8V423.2" stroke="#f23645" stroke-width="1"/>
<rect x="648.0" y="408.1" width="3" height="12.9" fill="#f23645"/><rect x="649.0" y="409.1" width="1" height="10.9" fill="#ff0000"/>
<path d="M653.5,411.5V422.4" stroke="#089981" stroke-width="1"/>
<rect x="652.0" y="415.9" width="3" height="2" fill="#089981"/>
<path d="M656.5,411.5V427.4" stroke="#089981" stroke-width="1"/>
<rect x="655.0" y="418.5" width="3" height="2" fill="#089981"/>
<path d="M660.5,414.8V427.4" stroke="#089981" stroke-width="1"/>
<rect x="659.0" y="417.1" width="3" height="8.8" fill="#089981"/><rect x="660.0" y="418.1" width="1" height="6.8" fill="#000"/>
<path d="M663.5,427.4V450.9" stroke="#f23645" stroke-width="1"/>
<rect x="662.0" y="431.7" width="3" height="16.5" fill="#f23645"/><rect x="663.0" y="432.7" width="1" height="14.5" fill="#ff0000"/>
<path d="M667.5,434.2V437.5" stroke="#f23645" stroke-width="1"/>
<rect x="666.0" y="434.8" width="3" height="2.4" fill="#f23645"/><rect x="667.0" y="435.8" width="1" height="0.4" fill="#ff0000"/>
<path d="M670.5,416.5V431.6" stroke="#089981" stroke-width="1"/>
<rect x="669.0" y="419.2" width="3" height="10.6" fill="#089981"/><rect x="670.0" y="420.2" width="1" height="8.6" fill="#000"/>
<path d="M674.5,414.0V432.5" stroke="#f23645" stroke-width="1"/>
<rect x="673.0" y="417.3" width="3" height="12.9" fill="#f23645"/><rect x="674.0" y="418.3" width="1" height="10.9" fill="#ff0000"/>
<rect x="676.0" y="465.2" width="3" height="67.1" fill="#ff1020"/>
<path d="M681.5,498.8V523.1" stroke="#089981" stroke-width="1"/>
<rect x="680.0" y="510.0" width="3" height="2" fill="#089981"/>
<path d="M684.5,487.9V527.3" stroke="#089981" stroke-width="1"/>
<rect x="683.0" y="495.0" width="3" height="27.6" fill="#089981"/><rect x="684.0" y="496.0" width="1" height="25.6" fill="#00ff00"/>
<path d="M688.5,471.9V488.7" stroke="#089981" stroke-width="1"/>
<rect x="687.0" y="474.9" width="3" height="11.8" fill="#089981"/><rect x="688.0" y="475.9" width="1" height="9.8" fill="#000"/>
<path d="M691.5,467.7V489.5" stroke="#089981" stroke-width="1"/>
<rect x="690.0" y="471.7" width="3" height="15.3" fill="#089981"/><rect x="691.0" y="472.7" width="1" height="13.3" fill="#000"/>
<path d="M695.5,457.7V468.6" stroke="#089981" stroke-width="1"/>
<rect x="694.0" y="462.1" width="3" height="2" fill="#089981"/>
<path d="M698.5,456.0V467.7" stroke="#f23645" stroke-width="1"/>
<rect x="697.0" y="458.1" width="3" height="8.2" fill="#f23645"/><rect x="698.0" y="459.1" width="1" height="6.2" fill="#ff0000"/>
<path d="M702.5,460.2V479.5" stroke="#089981" stroke-width="1"/>
<rect x="701.0" y="463.6" width="3" height="13.5" fill="#089981"/><rect x="702.0" y="464.6" width="1" height="11.5" fill="#00ff00"/>
<path d="M705.5,471.1V474.4" stroke="#089981" stroke-width="1"/>
<rect x="704.0" y="471.8" width="3" height="2" fill="#089981"/>
<path d="M709.5,450.9V466.0" stroke="#f23645" stroke-width="1"/>
<rect x="708.0" y="453.7" width="3" height="10.6" fill="#f23645"/><rect x="709.0" y="454.7" width="1" height="8.6" fill="#ff0000"/>
<rect x="711.0" y="419.0" width="3" height="40.3" fill="#089981"/><rect x="712.0" y="420.0" width="1" height="38.3" fill="#00ff00"/>
<path d="M716.5,415.7V430.8" stroke="#f23645" stroke-width="1"/>
<rect x="715.0" y="418.4" width="3" height="10.6" fill="#f23645"/><rect x="716.0" y="419.4" width="1" height="8.6" fill="#ff0000"/>
<path d="M720.5,405.6V432.5" stroke="#089981" stroke-width="1"/>
<rect x="719.0" y="410.4" width="3" height="18.8" fill="#089981"/><rect x="720.0" y="411.4" width="1" height="16.8" fill="#00ff00"/>
<path d="M723.5,417.4V430.8" stroke="#089981" stroke-width="1"/>
<rect x="722.0" y="419.8" width="3" height="9.4" fill="#089981"/><rect x="723.0" y="420.8" width="1" height="7.4" fill="#00ff00"/>
<path d="M727.5,420.7V430.8" stroke="#089981" stroke-width="1"/>
<rect x="726.0" y="424.8" width="3" height="2" fill="#089981"/>
<path d="M730.5,405.6V420.7" stroke="#089981" stroke-width="1"/>
<rect x="729.0" y="408.3" width="3" height="10.6" fill="#089981"/><rect x="730.0" y="409.3" width="1" height="8.6" fill="#000"/>
<path d="M734.5,409.0V419.0" stroke="#089981" stroke-width="1"/>
<rect x="733.0" y="413.0" width="3" height="2" fill="#089981"/>
<path d="M737.5,403.9V420.7" stroke="#089981" stroke-width="1"/>
<rect x="736.0" y="407.0" width="3" height="11.8" fill="#089981"/><rect x="737.0" y="408.0" width="1" height="9.8" fill="#000"/>
<path d="M741.5,413.2V438.3" stroke="#f23645" stroke-width="1"/>
<rect x="740.0" y="417.7" width="3" height="17.6" fill="#f23645"/><rect x="741.0" y="418.7" width="1" height="15.6" fill="#ff0000"/>
<path d="M744.5,428.3V440.0" stroke="#089981" stroke-width="1"/>
<rect x="743.0" y="430.4" width="3" height="8.2" fill="#089981"/><rect x="744.0" y="431.4" width="1" height="6.2" fill="#000"/>
<path d="M748.5,429.1V444.2" stroke="#f23645" stroke-width="1"/>
<rect x="747.0" y="431.8" width="3" height="10.6" fill="#f23645"/><rect x="748.0" y="432.8" width="1" height="8.6" fill="#ff0000"/>
<path d="M751.5,410.6V428.3" stroke="#089981" stroke-width="1"/>
<rect x="750.0" y="413.8" width="3" height="12.3" fill="#089981"/><rect x="751.0" y="414.8" width="1" height="10.3" fill="#000"/>
<path d="M755.5,360.3V397.2" stroke="#f23645" stroke-width="1"/>
<rect x="754.0" y="366.9" width="3" height="25.9" fill="#f23645"/><rect x="755.0" y="367.9" width="1" height="23.9" fill="#ff0000"/>
<path d="M758.5,372.0V393.0" stroke="#f23645" stroke-width="1"/>
<rect x="757.0" y="375.8" width="3" height="14.7" fill="#f23645"/><rect x="758.0" y="376.8" width="1" height="12.7" fill="#ff0000"/>
<path d="M762.5,387.1V397.2" stroke="#089981" stroke-width="1"/>
<rect x="761.0" y="389.0" width="3" height="7.1" fill="#089981"/><rect x="762.0" y="390.0" width="1" height="5.1" fill="#00ff00"/>
<path d="M765.5,373.7V404.8" stroke="#089981" stroke-width="1"/>
<rect x="764.0" y="379.3" width="3" height="21.7" fill="#089981"/><rect x="765.0" y="380.3" width="1" height="19.7" fill="#00ff00"/>
<path d="M769.5,380.4V393.0" stroke="#089981" stroke-width="1"/>
<rect x="768.0" y="382.7" width="3" height="8.8" fill="#089981"/><rect x="769.0" y="383.7" width="1" height="6.8" fill="#000"/>
<path d="M772.5,391.3V393.9" stroke="#f23645" stroke-width="1"/>
<rect x="771.0" y="391.8" width="3" height="1.8" fill="#f23645"/><rect x="772.0" y="392.2" width="1" height="1.0" fill="#ff0000"/>
<path d="M776.5,392.2V402.3" stroke="#f23645" stroke-width="1"/>
<rect x="775.0" y="394.0" width="3" height="7.1" fill="#f23645"/><rect x="776.0" y="395.0" width="1" height="5.1" fill="#ff0000"/>
<path d="M779.5,393.9V403.1" stroke="#f23645" stroke-width="1"/>
<rect x="778.0" y="395.5" width="3" height="6.5" fill="#f23645"/><rect x="779.0" y="396.5" width="1" height="4.5" fill="#ff0000"/>
<path d="M783.5,393.9V403.9" stroke="#f23645" stroke-width="1"/>
<rect x="782.0" y="395.7" width="3" height="7.1" fill="#f23645"/><rect x="783.0" y="396.7" width="1" height="5.1" fill="#ff0000"/>
<path d="M786.5,393.9V402.3" stroke="#f23645" stroke-width="1"/>
<rect x="785.0" y="395.4" width="3" height="5.9" fill="#f23645"/><rect x="786.0" y="396.4" width="1" height="3.9" fill="#ff0000"/>
<path d="M790.5,398.9V415.7" stroke="#f23645" stroke-width="1"/>
<rect x="789.0" y="401.9" width="3" height="11.8" fill="#f23645"/><rect x="790.0" y="402.9" width="1" height="9.8" fill="#ff0000"/>
<rect x="792.0" y="409.0" width="3" height="12.6" fill="#ff1020"/>
<path d="M797.5,414.8V419.0" stroke="#089981" stroke-width="1"/>
<rect x="796.0" y="415.9" width="3" height="2" fill="#089981"/>
<path d="M800.5,414.0V427.4" stroke="#f23645" stroke-width="1"/>
<rect x="799.0" y="416.4" width="3" height="9.4" fill="#f23645"/><rect x="800.0" y="417.4" width="1" height="7.4" fill="#ff0000"/>
<path d="M804.5,421.6V435.8" stroke="#f23645" stroke-width="1"/>
<rect x="803.0" y="424.1" width="3" height="10.0" fill="#f23645"/><rect x="804.0" y="425.1" width="1" height="8.0" fill="#ff0000"/>
<path d="M807.5,423.2V435.0" stroke="#f23645" stroke-width="1"/>
<rect x="806.0" y="425.4" width="3" height="8.2" fill="#f23645"/><rect x="807.0" y="426.4" width="1" height="6.2" fill="#ff0000"/>
<path d="M811.5,422.4V429.1" stroke="#089981" stroke-width="1"/>
<rect x="810.0" y="424.8" width="3" height="2" fill="#089981"/>
<path d="M814.5,416.5V429.1" stroke="#089981" stroke-width="1"/>
<rect x="813.0" y="418.8" width="3" height="8.8" fill="#089981"/><rect x="814.0" y="419.8" width="1" height="6.8" fill="#000"/>
<path d="M818.5,415.7V430.0" stroke="#089981" stroke-width="1"/>
<rect x="817.0" y="418.3" width="3" height="10.0" fill="#089981"/><rect x="818.0" y="419.3" width="1" height="8.0" fill="#000"/>
<path d="M821.5,419.9V432.5" stroke="#089981" stroke-width="1"/>
<rect x="820.0" y="425.2" width="3" height="2" fill="#089981"/>
<path d="M825.5,420.7V435.8" stroke="#f23645" stroke-width="1"/>
<rect x="824.0" y="423.4" width="3" height="10.6" fill="#f23645"/><rect x="825.0" y="424.4" width="1" height="8.6" fill="#ff0000"/>
<path d="M828.5,419.9V428.3" stroke="#089981" stroke-width="1"/>
<rect x="827.0" y="421.4" width="3" height="5.9" fill="#089981"/><rect x="828.0" y="422.4" width="1" height="3.9" fill="#000"/>
<path d="M832.5,427.4V430.8" stroke="#089981" stroke-width="1"/>
<rect x="831.0" y="428.1" width="3" height="2" fill="#089981"/>
<path d="M835.5,430.8V445.9" stroke="#f23645" stroke-width="1"/>
<rect x="834.0" y="433.5" width="3" height="10.6" fill="#f23645"/><rect x="835.0" y="434.5" width="1" height="8.6" fill="#ff0000"/>
<path d="M839.5,438.3V447.6" stroke="#089981" stroke-width="1"/>
<rect x="838.0" y="442.0" width="3" height="2" fill="#089981"/>
<path d="M842.5,429.1V440.9" stroke="#089981" stroke-width="1"/>
<rect x="841.0" y="431.2" width="3" height="8.2" fill="#089981"/><rect x="842.0" y="432.2" width="1" height="6.2" fill="#000"/>
<path d="M846.5,428.3V437.5" stroke="#089981" stroke-width="1"/>
<rect x="845.0" y="431.9" width="3" height="2" fill="#089981"/>
<path d="M849.5,431.6V445.9" stroke="#f23645" stroke-width="1"/>
<rect x="848.0" y="434.2" width="3" height="10.0" fill="#f23645"/><rect x="849.0" y="435.2" width="1" height="8.0" fill="#ff0000"/>
<path d="M853.5,440.9V454.3" stroke="#089981" stroke-width="1"/>
<rect x="852.0" y="443.3" width="3" height="9.4" fill="#089981"/><rect x="853.0" y="444.3" width="1" height="7.4" fill="#000"/>
<path d="M856.5,446.7V461.0" stroke="#089981" stroke-width="1"/>
<rect x="855.0" y="449.3" width="3" height="10.0" fill="#089981"/><rect x="856.0" y="450.3" width="1" height="8.0" fill="#000"/>
<path d="M860.5,425.8V446.7" stroke="#089981" stroke-width="1"/>
<rect x="859.0" y="429.5" width="3" height="14.7" fill="#089981"/><rect x="860.0" y="430.5" width="1" height="12.7" fill="#000"/>
<path d="M863.5,420.7V428.3" stroke="#089981" stroke-width="1"/>
<rect x="862.0" y="422.1" width="3" height="5.3" fill="#089981"/><rect x="863.0" y="423.1" width="1" height="3.3" fill="#00ff00"/>
<path d="M867.5,424.1V426.6" stroke="#f23645" stroke-width="1"/>
<rect x="866.0" y="424.5" width="3" height="1.8" fill="#f23645"/><rect x="867.0" y="424.9" width="1" height="1.0" fill="#ff0000"/>
<path d="M870.5,424.1V425.8" stroke="#f23645" stroke-width="1"/>
<rect x="869.0" y="424.4" width="3" height="1.2" fill="#f23645"/><rect x="870.0" y="424.8" width="1" height="0.4" fill="#ff0000"/>
<path d="M874.5,424.1V425.8" stroke="#f23645" stroke-width="1"/>
<rect x="873.0" y="424.4" width="3" height="1.2" fill="#f23645"/><rect x="874.0" y="424.8" width="1" height="0.4" fill="#ff0000"/>
<path d="M877.5,424.9V435.8" stroke="#f23645" stroke-width="1"/>
<rect x="876.0" y="426.9" width="3" height="7.6" fill="#f23645"/><rect x="877.0" y="427.9" width="1" height="5.6" fill="#ff0000"/>
<path d="M881.5,433.3V442.5" stroke="#f23645" stroke-width="1"/>
<rect x="880.0" y="435.0" width="3" height="6.5" fill="#f23645"/><rect x="881.0" y="436.0" width="1" height="4.5" fill="#ff0000"/>
<path d="M884.5,434.2V450.1" stroke="#f23645" stroke-width="1"/>
<rect x="883.0" y="437.0" width="3" height="11.2" fill="#f23645"/><rect x="884.0" y="438.0" width="1" height="9.2" fill="#ff0000"/>
<path d="M888.5,438.3V449.3" stroke="#f23645" stroke-width="1"/>
<rect x="887.0" y="440.3" width="3" height="7.6" fill="#f23645"/><rect x="888.0" y="441.3" width="1" height="5.6" fill="#ff0000"/>
<path d="M891.5,443.4V447.6" stroke="#089981" stroke-width="1"/>
<rect x="890.0" y="444.1" width="3" height="2.9" fill="#089981"/><rect x="891.0" y="445.1" width="1" height="0.9" fill="#00ff00"/>
<path d="M895.5,432.5V445.9" stroke="#f23645" stroke-width="1"/>
<rect x="894.0" y="434.9" width="3" height="9.4" fill="#f23645"/><rect x="895.0" y="435.9" width="1" height="7.4" fill="#ff0000"/>
<path d="M898.5,444.2V454.3" stroke="#f23645" stroke-width="1"/>
<rect x="897.0" y="446.0" width="3" height="7.1" fill="#f23645"/><rect x="898.0" y="447.0" width="1" height="5.1" fill="#ff0000"/>
<path d="M902.5,440.9V453.5" stroke="#089981" stroke-width="1"/>
<rect x="901.0" y="443.1" width="3" height="8.8" fill="#089981"/><rect x="902.0" y="444.1" width="1" height="6.8" fill="#00ff00"/>
<path d="M905.5,436.7V443.4" stroke="#089981" stroke-width="1"/>
<rect x="904.0" y="439.0" width="3" height="2" fill="#089981"/>
<path d="M909.5,433.3V445.9" stroke="#089981" stroke-width="1"/>
<rect x="908.0" y="438.6" width="3" height="2" fill="#089981"/>
<path d="M912.5,427.4V434.2" stroke="#089981" stroke-width="1"/>
<rect x="911.0" y="429.8" width="3" height="2" fill="#089981"/>
<path d="M916.5,412.3V429.1" stroke="#089981" stroke-width="1"/>
<rect x="915.0" y="415.4" width="3" height="11.8" fill="#089981"/><rect x="916.0" y="416.4" width="1" height="9.8" fill="#00ff00"/>
<path d="M919.5,405.6V417.4" stroke="#f23645" stroke-width="1"/>
<rect x="918.0" y="407.7" width="3" height="8.2" fill="#f23645"/><rect x="919.0" y="408.7" width="1" height="6.2" fill="#ff0000"/>
<path d="M923.5,388.8V403.9" stroke="#089981" stroke-width="1"/>
<rect x="922.0" y="395.4" width="3" height="2" fill="#089981"/>
<path d="M926.5,410.6V419.0" stroke="#089981" stroke-width="1"/>
<rect x="925.0" y="412.2" width="3" height="5.9" fill="#089981"/><rect x="926.0" y="413.2" width="1" height="3.9" fill="#000"/>
<path d="M930.5,401.4V423.2" stroke="#089981" stroke-width="1"/>
<rect x="929.0" y="405.3" width="3" height="15.3" fill="#089981"/><rect x="930.0" y="406.3" width="1" height="13.3" fill="#000"/>
<path d="M933.5,388.0V399.7" stroke="#089981" stroke-width="1"/>
<rect x="932.0" y="390.1" width="3" height="8.2" fill="#089981"/><rect x="933.0" y="391.1" width="1" height="6.2" fill="#000"/>
<path d="M937.5,386.3V402.3" stroke="#089981" stroke-width="1"/>
<rect x="936.0" y="389.2" width="3" height="11.2" fill="#089981"/><rect x="937.0" y="390.2" width="1" height="9.2" fill="#000"/>
<path d="M940.5,385.5V398.1" stroke="#f23645" stroke-width="1"/>
<rect x="939.0" y="387.7" width="3" height="8.8" fill="#f23645"/><rect x="940.0" y="388.7" width="1" height="6.8" fill="#ff0000"/>
<path d="M944.5,395.5V398.1" stroke="#f23645" stroke-width="1"/>
<rect x="943.0" y="396.0" width="3" height="1.8" fill="#f23645"/><rect x="944.0" y="396.4" width="1" height="1.0" fill="#ff0000"/>
<path d="M947.5,393.9V407.3" stroke="#f23645" stroke-width="1"/>
<rect x="946.0" y="396.3" width="3" height="9.4" fill="#f23645"/><rect x="947.0" y="397.3" width="1" height="7.4" fill="#ff0000"/>
<path d="M951.5,395.5V409.0" stroke="#089981" stroke-width="1"/>
<rect x="950.0" y="398.0" width="3" height="9.4" fill="#089981"/><rect x="951.0" y="399.0" width="1" height="7.4" fill="#000"/>
<path d="M954.5,396.4V409.0" stroke="#089981" stroke-width="1"/>
<rect x="953.0" y="398.6" width="3" height="8.8" fill="#089981"/><rect x="954.0" y="399.6" width="1" height="6.8" fill="#000"/>
<path d="M958.5,377.1V408.1" stroke="#089981" stroke-width="1"/>
<rect x="957.0" y="382.7" width="3" height="21.7" fill="#089981"/><rect x="958.0" y="383.7" width="1" height="19.7" fill="#00ff00"/>
<path d="M961.5,377.1V383.8" stroke="#f23645" stroke-width="1"/>
<rect x="960.0" y="378.3" width="3" height="4.7" fill="#f23645"/><rect x="961.0" y="379.3" width="1" height="2.7" fill="#ff0000"/>
<path d="M965.5,363.6V378.8" stroke="#f23645" stroke-width="1"/>
<rect x="964.0" y="366.4" width="3" height="10.6" fill="#f23645"/><rect x="965.0" y="367.4" width="1" height="8.6" fill="#ff0000"/>
<path d="M968.5,372.9V377.1" stroke="#089981" stroke-width="1"/>
<rect x="967.0" y="373.6" width="3" height="2.9" fill="#089981"/><rect x="968.0" y="374.6" width="1" height="0.9" fill="#00ff00"/>
<path d="M972.5,375.3V393.8" stroke="#f23645" stroke-width="1"/>
<rect x="971.0" y="378.6" width="3" height="12.9" fill="#f23645"/><rect x="972.0" y="379.6" width="1" height="10.9" fill="#ff0000"/>
<path d="M975.5,387.9V394.6" stroke="#f23645" stroke-width="1"/>
<rect x="974.0" y="389.1" width="3" height="4.7" fill="#f23645"/><rect x="975.0" y="390.1" width="1" height="2.7" fill="#ff0000"/>
<path d="M979.5,387.1V396.3" stroke="#f23645" stroke-width="1"/>
<rect x="978.0" y="388.7" width="3" height="6.5" fill="#f23645"/><rect x="979.0" y="389.7" width="1" height="4.5" fill="#ff0000"/>
<path d="M982.5,384.5V391.3" stroke="#089981" stroke-width="1"/>
<rect x="981.0" y="386.9" width="3" height="2" fill="#089981"/>
<path d="M986.5,385.4V395.5" stroke="#f23645" stroke-width="1"/>
<rect x="985.0" y="387.2" width="3" height="7.1" fill="#f23645"/><rect x="986.0" y="388.2" width="1" height="5.1" fill="#ff0000"/>
<path d="M989.5,389.6V399.7" stroke="#089981" stroke-width="1"/>
<rect x="988.0" y="391.4" width="3" height="7.1" fill="#089981"/><rect x="989.0" y="392.4" width="1" height="5.1" fill="#000"/>
<path d="M993.5,382.9V392.1" stroke="#f23645" stroke-width="1"/>
<rect x="992.0" y="384.5" width="3" height="6.5" fill="#f23645"/><rect x="993.0" y="385.5" width="1" height="4.5" fill="#ff0000"/>
<path d="M996.5,389.6V398.8" stroke="#f23645" stroke-width="1"/>
<rect x="995.0" y="391.2" width="3" height="6.5" fill="#f23645"/><rect x="996.0" y="392.2" width="1" height="4.5" fill="#ff0000"/>
<path d="M1000.5,396.3V404.7" stroke="#f23645" stroke-width="1"/>
<rect x="999.0" y="397.8" width="3" height="5.9" fill="#f23645"/><rect x="1000.0" y="398.8" width="1" height="3.9" fill="#ff0000"/>
<path d="M1003.5,400.5V408.1" stroke="#f23645" stroke-width="1"/>
<rect x="1002.0" y="401.9" width="3" height="5.3" fill="#f23645"/><rect x="1003.0" y="402.9" width="1" height="3.3" fill="#ff0000"/>
<path d="M1007.5,384.5V405.5" stroke="#089981" stroke-width="1"/>
<rect x="1006.0" y="388.3" width="3" height="14.7" fill="#089981"/><rect x="1007.0" y="389.3" width="1" height="12.7" fill="#000"/>
<path d="M1010.5,380.4V384.5" stroke="#089981" stroke-width="1"/>
<rect x="1009.0" y="381.5" width="3" height="2" fill="#089981"/>
<path d="M1014.5,375.3V391.3" stroke="#f23645" stroke-width="1"/>
<rect x="1013.0" y="378.2" width="3" height="11.2" fill="#f23645"/><rect x="1014.0" y="379.2" width="1" height="9.2" fill="#ff0000"/>
<path d="M1017.5,379.5V392.1" stroke="#089981" stroke-width="1"/>
<rect x="1016.0" y="381.8" width="3" height="8.8" fill="#089981"/><rect x="1017.0" y="382.8" width="1" height="6.8" fill="#00ff00"/>
<path d="M1021.5,381.2V398.8" stroke="#089981" stroke-width="1"/>
<rect x="1020.0" y="384.4" width="3" height="12.3" fill="#089981"/><rect x="1021.0" y="385.4" width="1" height="10.3" fill="#00ff00"/>
<path d="M1024.5,378.7V383.7" stroke="#089981" stroke-width="1"/>
<rect x="1023.0" y="379.6" width="3" height="3.5" fill="#089981"/><rect x="1024.0" y="380.6" width="1" height="1.5" fill="#000"/>
<path d="M1028.5,361.9V377.8" stroke="#089981" stroke-width="1"/>
<rect x="1027.0" y="364.8" width="3" height="11.2" fill="#089981"/><rect x="1028.0" y="365.8" width="1" height="9.2" fill="#000"/>
<path d="M1031.5,353.5V372.0" stroke="#089981" stroke-width="1"/>
<rect x="1030.0" y="356.8" width="3" height="12.9" fill="#089981"/><rect x="1031.0" y="357.8" width="1" height="10.9" fill="#00ff00"/>
<path d="M1035.5,348.5V365.2" stroke="#089981" stroke-width="1"/>
<rect x="1034.0" y="351.5" width="3" height="11.8" fill="#089981"/><rect x="1035.0" y="352.5" width="1" height="9.8" fill="#00ff00"/>
<rect x="1037.0" y="339.2" width="3" height="26.0" fill="#ff1020"/>
<path d="M1042.5,349.3V364.4" stroke="#089981" stroke-width="1"/>
<rect x="1041.0" y="352.0" width="3" height="10.6" fill="#089981"/><rect x="1042.0" y="353.0" width="1" height="8.6" fill="#00ff00"/>
<path d="M1045.5,338.4V356.0" stroke="#089981" stroke-width="1"/>
<rect x="1044.0" y="341.6" width="3" height="12.3" fill="#089981"/><rect x="1045.0" y="342.6" width="1" height="10.3" fill="#000"/>
<path d="M1049.5,340.1V347.6" stroke="#f23645" stroke-width="1"/>
<rect x="1048.0" y="341.4" width="3" height="5.3" fill="#f23645"/><rect x="1049.0" y="342.4" width="1" height="3.3" fill="#ff0000"/>
<path d="M1052.5,345.1V357.7" stroke="#f23645" stroke-width="1"/>
<rect x="1051.0" y="347.4" width="3" height="8.8" fill="#f23645"/><rect x="1052.0" y="348.4" width="1" height="6.8" fill="#ff0000"/>
<path d="M1056.5,343.4V347.6" stroke="#089981" stroke-width="1"/>
<rect x="1055.0" y="344.2" width="3" height="2.9" fill="#089981"/><rect x="1056.0" y="345.2" width="1" height="0.9" fill="#000"/>
<path d="M1059.5,325.8V349.3" stroke="#089981" stroke-width="1"/>
<rect x="1058.0" y="330.0" width="3" height="16.5" fill="#089981"/><rect x="1059.0" y="331.0" width="1" height="14.5" fill="#00ff00"/>
<path d="M1063.5,331.7V341.7" stroke="#089981" stroke-width="1"/>
<rect x="1062.0" y="333.5" width="3" height="7.1" fill="#089981"/><rect x="1063.0" y="334.5" width="1" height="5.1" fill="#000"/>
<path d="M1066.5,321.6V339.2" stroke="#089981" stroke-width="1"/>
<rect x="1065.0" y="324.8" width="3" height="12.3" fill="#089981"/><rect x="1066.0" y="325.8" width="1" height="10.3" fill="#000"/>
<rect x="1069.0" y="294.7" width="3" height="26.0" fill="#089981"/><rect x="1070.0" y="295.7" width="1" height="24.0" fill="#00ff00"/>
<path d="M1073.5,278.8V309.0" stroke="#f23645" stroke-width="1"/>
<rect x="1072.0" y="284.2" width="3" height="21.2" fill="#f23645"/><rect x="1073.0" y="285.2" width="1" height="19.2" fill="#ff0000"/>
<path d="M1077.5,288.9V305.6" stroke="#f23645" stroke-width="1"/>
<rect x="1076.0" y="291.9" width="3" height="11.8" fill="#f23645"/><rect x="1077.0" y="292.9" width="1" height="9.8" fill="#ff0000"/>
<path d="M1080.5,284.7V293.9" stroke="#089981" stroke-width="1"/>
<rect x="1079.0" y="286.3" width="3" height="6.5" fill="#089981"/><rect x="1080.0" y="287.3" width="1" height="4.5" fill="#00ff00"/>
<path d="M1084.5,281.3V300.6" stroke="#089981" stroke-width="1"/>
<rect x="1083.0" y="284.8" width="3" height="13.5" fill="#089981"/><rect x="1084.0" y="285.8" width="1" height="11.5" fill="#000"/>
<path d="M1087.5,278.0V298.9" stroke="#089981" stroke-width="1"/>
<rect x="1086.0" y="281.7" width="3" height="14.7" fill="#089981"/><rect x="1087.0" y="282.7" width="1" height="12.7" fill="#000"/>
<path d="M1091.5,261.2V282.1" stroke="#089981" stroke-width="1"/>
<rect x="1090.0" y="264.9" width="3" height="14.7" fill="#089981"/><rect x="1091.0" y="265.9" width="1" height="12.7" fill="#000"/>
<path d="M1094.5,261.2V288.0" stroke="#089981" stroke-width="1"/>
<rect x="1093.0" y="266.0" width="3" height="18.8" fill="#089981"/><rect x="1094.0" y="267.0" width="1" height="16.8" fill="#000"/>
<path d="M1098.5,266.2V279.6" stroke="#089981" stroke-width="1"/>
<rect x="1097.0" y="268.6" width="3" height="9.4" fill="#089981"/><rect x="1098.0" y="269.6" width="1" height="7.4" fill="#00ff00"/>
<path d="M1101.5,241.0V264.5" stroke="#089981" stroke-width="1"/>
<rect x="1100.0" y="245.3" width="3" height="16.5" fill="#089981"/><rect x="1101.0" y="246.3" width="1" height="14.5" fill="#00ff00"/>
<path d="M1105.5,235.1V247.7" stroke="#089981" stroke-width="1"/>
<rect x="1104.0" y="237.4" width="3" height="8.8" fill="#089981"/><rect x="1105.0" y="238.4" width="1" height="6.8" fill="#00ff00"/>
<path d="M1108.5,230.9V237.7" stroke="#089981" stroke-width="1"/>
<rect x="1107.0" y="232.2" width="3" height="4.7" fill="#089981"/><rect x="1108.0" y="233.2" width="1" height="2.7" fill="#00ff00"/>
<path d="M1112.5,239.3V251.1" stroke="#f23645" stroke-width="1"/>
<rect x="1111.0" y="241.5" width="3" height="8.2" fill="#f23645"/><rect x="1112.0" y="242.5" width="1" height="6.2" fill="#ff0000"/>
<path d="M1115.5,240.2V254.4" stroke="#f23645" stroke-width="1"/>
<rect x="1114.0" y="242.7" width="3" height="10.0" fill="#f23645"/><rect x="1115.0" y="243.7" width="1" height="8.0" fill="#ff0000"/>
<rect x="1118.0" y="245.2" width="3" height="31.1" fill="#ff1020"/>
<path d="M1122.5,270.4V285.5" stroke="#f23645" stroke-width="1"/>
<rect x="1121.0" y="273.1" width="3" height="10.6" fill="#f23645"/><rect x="1122.0" y="274.1" width="1" height="8.6" fill="#ff0000"/>
<path d="M1126.5,279.6V301.5" stroke="#089981" stroke-width="1"/>
<rect x="1125.0" y="283.6" width="3" height="15.3" fill="#089981"/><rect x="1126.0" y="284.6" width="1" height="13.3" fill="#000"/>
<rect x="1128.0" y="274.6" width="3" height="28.5" fill="#ff1020"/>
<path d="M1133.5,289.7V304.0" stroke="#089981" stroke-width="1"/>
<rect x="1132.0" y="292.3" width="3" height="10.0" fill="#089981"/><rect x="1133.0" y="293.3" width="1" height="8.0" fill="#00ff00"/>
<path d="M1136.5,279.6V294.7" stroke="#f23645" stroke-width="1"/>
<rect x="1135.0" y="282.3" width="3" height="10.6" fill="#f23645"/><rect x="1136.0" y="283.3" width="1" height="8.6" fill="#ff0000"/>
<path d="M1140.5,288.9V313.2" stroke="#089981" stroke-width="1"/>
<rect x="1139.0" y="293.2" width="3" height="17.0" fill="#089981"/><rect x="1140.0" y="294.2" width="1" height="15.0" fill="#000"/>
<path d="M1143.5,279.6V299.8" stroke="#089981" stroke-width="1"/>
<rect x="1142.0" y="283.3" width="3" height="14.1" fill="#089981"/><rect x="1143.0" y="284.3" width="1" height="12.1" fill="#000"/>
<path d="M1147.5,272.9V285.5" stroke="#f23645" stroke-width="1"/>
<rect x="1146.0" y="275.2" width="3" height="8.8" fill="#f23645"/><rect x="1147.0" y="276.2" width="1" height="6.8" fill="#ff0000"/>
<path d="M1150.5,271.2V287.2" stroke="#089981" stroke-width="1"/>
<rect x="1149.0" y="278.2" width="3" height="2" fill="#089981"/>
<path d="M1154.5,278.8V292.2" stroke="#f23645" stroke-width="1"/>
<rect x="1153.0" y="281.2" width="3" height="9.4" fill="#f23645"/><rect x="1154.0" y="282.2" width="1" height="7.4" fill="#ff0000"/>
<path d="M1157.5,265.4V282.1" stroke="#089981" stroke-width="1"/>
<rect x="1156.0" y="268.4" width="3" height="11.8" fill="#089981"/><rect x="1157.0" y="269.4" width="1" height="9.8" fill="#00ff00"/>
<path d="M1161.5,257.0V270.4" stroke="#f23645" stroke-width="1"/>
<rect x="1160.0" y="259.4" width="3" height="9.4" fill="#f23645"/><rect x="1161.0" y="260.4" width="1" height="7.4" fill="#ff0000"/>
<path d="M1164.5,259.5V275.4" stroke="#f23645" stroke-width="1"/>
<rect x="1163.0" y="262.4" width="3" height="11.2" fill="#f23645"/><rect x="1164.0" y="263.4" width="1" height="9.2" fill="#ff0000"/>
<path d="M1168.5,262.0V272.9" stroke="#f23645" stroke-width="1"/>
<rect x="1167.0" y="264.0" width="3" height="7.6" fill="#f23645"/><rect x="1168.0" y="265.0" width="1" height="5.6" fill="#ff0000"/>
<path d="M1171.5,262.8V277.1" stroke="#f23645" stroke-width="1"/>
<rect x="1170.0" y="265.4" width="3" height="10.0" fill="#f23645"/><rect x="1171.0" y="266.4" width="1" height="8.0" fill="#ff0000"/>
<path d="M1175.5,272.1V285.5" stroke="#089981" stroke-width="1"/>
<rect x="1174.0" y="277.8" width="3" height="2" fill="#089981"/>
<rect x="1177.0" y="277.1" width="3" height="14.3" fill="#ff1020"/>
<path d="M1182.5,285.5V303.1" stroke="#089981" stroke-width="1"/>
<rect x="1181.0" y="288.7" width="3" height="12.3" fill="#089981"/><rect x="1182.0" y="289.7" width="1" height="10.3" fill="#00ff00"/>
<path d="M1185.5,280.5V289.7" stroke="#089981" stroke-width="1"/>
<rect x="1184.0" y="284.1" width="3" height="2" fill="#089981"/>
<path d="M1189.5,281.3V292.2" stroke="#f23645" stroke-width="1"/>
<rect x="1188.0" y="283.3" width="3" height="7.6" fill="#f23645"/><rect x="1189.0" y="284.3" width="1" height="5.6" fill="#ff0000"/>
<path d="M1192.5,283.0V291.4" stroke="#f23645" stroke-width="1"/>
<rect x="1191.0" y="284.5" width="3" height="5.9" fill="#f23645"/><rect x="1192.0" y="285.5" width="1" height="3.9" fill="#ff0000"/>
<path d="M1196.5,282.1V287.2" stroke="#f23645" stroke-width="1"/>
<rect x="1195.0" y="283.1" width="3" height="3.5" fill="#f23645"/><rect x="1196.0" y="284.1" width="1" height="1.5" fill="#ff0000"/>
<path d="M1199.5,286.3V299.8" stroke="#f23645" stroke-width="1"/>
<rect x="1198.0" y="288.8" width="3" height="9.4" fill="#f23645"/><rect x="1199.0" y="289.8" width="1" height="7.4" fill="#ff0000"/>
<path d="M1203.5,290.5V298.9" stroke="#089981" stroke-width="1"/>
<rect x="1202.0" y="293.7" width="3" height="2" fill="#089981"/>
<path d="M1206.5,297.3V306.5" stroke="#f23645" stroke-width="1"/>
<rect x="1205.0" y="298.9" width="3" height="6.5" fill="#f23645"/><rect x="1206.0" y="299.9" width="1" height="4.5" fill="#ff0000"/>
<path d="M1210.5,297.3V304.0" stroke="#f23645" stroke-width="1"/>
<rect x="1209.0" y="298.5" width="3" height="4.7" fill="#f23645"/><rect x="1210.0" y="299.5" width="1" height="2.7" fill="#ff0000"/>
<path d="M1213.5,299.8V311.5" stroke="#f23645" stroke-width="1"/>
<rect x="1212.0" y="301.9" width="3" height="8.2" fill="#f23645"/><rect x="1213.0" y="302.9" width="1" height="6.2" fill="#ff0000"/>
<path d="M1217.5,309.0V312.4" stroke="#089981" stroke-width="1"/>
<rect x="1216.0" y="309.7" width="3" height="2" fill="#089981"/>
<path d="M1220.5,304.0V323.3" stroke="#f23645" stroke-width="1"/>
<rect x="1219.0" y="307.4" width="3" height="13.5" fill="#f23645"/><rect x="1220.0" y="308.4" width="1" height="11.5" fill="#ff0000"/>
<path d="M1224.5,323.3V335.9" stroke="#089981" stroke-width="1"/>
<rect x="1223.0" y="328.6" width="3" height="2" fill="#089981"/>
<path d="M1227.5,324.1V342.6" stroke="#f23645" stroke-width="1"/>
<rect x="1226.0" y="327.4" width="3" height="12.9" fill="#f23645"/><rect x="1227.0" y="328.4" width="1" height="10.9" fill="#ff0000"/>
<path d="M1231.5,330.8V354.3" stroke="#089981" stroke-width="1"/>
<rect x="1230.0" y="335.1" width="3" height="16.5" fill="#089981"/><rect x="1231.0" y="336.1" width="1" height="14.5" fill="#00ff00"/>
<path d="M1234.5,332.5V342.6" stroke="#f23645" stroke-width="1"/>
<rect x="1233.0" y="334.3" width="3" height="7.1" fill="#f23645"/><rect x="1234.0" y="335.3" width="1" height="5.1" fill="#ff0000"/>
<path d="M1238.5,335.9V347.6" stroke="#f23645" stroke-width="1"/>
<rect x="1237.0" y="338.0" width="3" height="8.2" fill="#f23645"/><rect x="1238.0" y="339.0" width="1" height="6.2" fill="#ff0000"/>
<path d="M1241.5,334.2V342.6" stroke="#089981" stroke-width="1"/>
<rect x="1240.0" y="335.7" width="3" height="5.9" fill="#089981"/><rect x="1241.0" y="336.7" width="1" height="3.9" fill="#00ff00"/>
<path d="M1245.5,330.8V335.9" stroke="#089981" stroke-width="1"/>
<rect x="1244.0" y="331.7" width="3" height="3.5" fill="#089981"/><rect x="1245.0" y="332.7" width="1" height="1.5" fill="#00ff00"/>
<path d="M1248.5,325.8V339.2" stroke="#f23645" stroke-width="1"/>
<rect x="1247.0" y="328.2" width="3" height="9.4" fill="#f23645"/><rect x="1248.0" y="329.2" width="1" height="7.4" fill="#ff0000"/>
<path d="M1252.5,335.9V347.6" stroke="#f23645" stroke-width="1"/>
<rect x="1251.0" y="338.0" width="3" height="8.2" fill="#f23645"/><rect x="1252.0" y="339.0" width="1" height="6.2" fill="#ff0000"/>
<path d="M1255.5,330.8V342.6" stroke="#089981" stroke-width="1"/>
<rect x="1254.0" y="332.9" width="3" height="8.2" fill="#089981"/><rect x="1255.0" y="333.9" width="1" height="6.2" fill="#00ff00"/>
<path d="M1259.5,325.0V335.0" stroke="#089981" stroke-width="1"/>
<rect x="1258.0" y="326.8" width="3" height="7.1" fill="#089981"/><rect x="1259.0" y="327.8" width="1" height="5.1" fill="#00ff00"/>
<path d="M1262.5,324.1V330.8" stroke="#f23645" stroke-width="1"/>
<rect x="1261.0" y="325.3" width="3" height="4.7" fill="#f23645"/><rect x="1262.0" y="326.3" width="1" height="2.7" fill="#ff0000"/>
<path d="M1266.5,330.8V340.1" stroke="#f23645" stroke-width="1"/>
<rect x="1265.0" y="332.5" width="3" height="6.5" fill="#f23645"/><rect x="1266.0" y="333.5" width="1" height="4.5" fill="#ff0000"/>
<path d="M1269.5,328.3V340.9" stroke="#089981" stroke-width="1"/>
<rect x="1268.0" y="330.6" width="3" height="8.8" fill="#089981"/><rect x="1269.0" y="331.6" width="1" height="6.8" fill="#00ff00"/>
<path d="M1273.5,328.3V340.9" stroke="#f23645" stroke-width="1"/>
<rect x="1272.0" y="330.6" width="3" height="8.8" fill="#f23645"/><rect x="1273.0" y="331.6" width="1" height="6.8" fill="#ff0000"/>
<path d="M1276.5,329.2V340.1" stroke="#089981" stroke-width="1"/>
<rect x="1275.0" y="331.1" width="3" height="7.6" fill="#089981"/><rect x="1276.0" y="332.1" width="1" height="5.6" fill="#000"/>
<path d="M1280.5,314.0V333.3" stroke="#f23645" stroke-width="1"/>
<rect x="1279.0" y="317.5" width="3" height="13.5" fill="#f23645"/><rect x="1280.0" y="318.5" width="1" height="11.5" fill="#ff0000"/>
<path d="M1283.5,332.5V354.3" stroke="#089981" stroke-width="1"/>
<rect x="1282.0" y="336.4" width="3" height="15.3" fill="#089981"/><rect x="1283.0" y="337.4" width="1" height="13.3" fill="#000"/>
<path d="M1287.5,343.4V351.8" stroke="#089981" stroke-width="1"/>
<rect x="1286.0" y="346.6" width="3" height="2" fill="#089981"/>
<path d="M1290.5,346.8V352.7" stroke="#f23645" stroke-width="1"/>
<rect x="1289.0" y="347.8" width="3" height="4.1" fill="#f23645"/><rect x="1290.0" y="348.8" width="1" height="2.1" fill="#ff0000"/>
<path d="M1294.5,338.4V349.3" stroke="#089981" stroke-width="1"/>
<rect x="1293.0" y="340.3" width="3" height="7.6" fill="#089981"/><rect x="1294.0" y="341.3" width="1" height="5.6" fill="#000"/>
<path d="M1297.5,325.8V332.5" stroke="#089981" stroke-width="1"/>
<rect x="1296.0" y="328.2" width="3" height="2" fill="#089981"/>
<path d="M1301.5,329.2V345.1" stroke="#f23645" stroke-width="1"/>
<rect x="1300.0" y="332.0" width="3" height="11.2" fill="#f23645"/><rect x="1301.0" y="333.0" width="1" height="9.2" fill="#ff0000"/>
<path d="M1304.5,340.9V344.3" stroke="#f23645" stroke-width="1"/>
<rect x="1303.0" y="341.5" width="3" height="2.4" fill="#f23645"/><rect x="1304.0" y="342.5" width="1" height="0.4" fill="#ff0000"/>
<path d="M1308.5,307.3V332.5" stroke="#089981" stroke-width="1"/>
<rect x="1307.0" y="311.9" width="3" height="17.6" fill="#089981"/><rect x="1308.0" y="312.9" width="1" height="15.6" fill="#00ff00"/>
<path d="M1311.5,290.5V319.9" stroke="#089981" stroke-width="1"/>
<rect x="1310.0" y="295.8" width="3" height="20.6" fill="#089981"/><rect x="1311.0" y="296.8" width="1" height="18.6" fill="#00ff00"/>
<path d="M1315.5,289.7V301.5" stroke="#089981" stroke-width="1"/>
<rect x="1314.0" y="291.8" width="3" height="8.2" fill="#089981"/><rect x="1315.0" y="292.8" width="1" height="6.2" fill="#00ff00"/>
<path d="M1318.5,288.0V306.5" stroke="#f23645" stroke-width="1"/>
<rect x="1317.0" y="291.3" width="3" height="12.9" fill="#f23645"/><rect x="1318.0" y="292.3" width="1" height="10.9" fill="#ff0000"/>
<path d="M1322.5,295.6V302.3" stroke="#f23645" stroke-width="1"/>
<rect x="1321.0" y="296.8" width="3" height="4.7" fill="#f23645"/><rect x="1322.0" y="297.8" width="1" height="2.7" fill="#ff0000"/>
<path d="M1325.5,292.2V298.9" stroke="#089981" stroke-width="1"/>
<rect x="1324.0" y="293.4" width="3" height="4.7" fill="#089981"/><rect x="1325.0" y="294.4" width="1" height="2.7" fill="#000"/>
<path d="M1329.5,292.2V304.0" stroke="#f23645" stroke-width="1"/>
<rect x="1328.0" y="294.3" width="3" height="8.2" fill="#f23645"/><rect x="1329.0" y="295.3" width="1" height="6.2" fill="#ff0000"/>
<path d="M1332.5,294.7V303.1" stroke="#f23645" stroke-width="1"/>
<rect x="1331.0" y="296.2" width="3" height="5.9" fill="#f23645"/><rect x="1332.0" y="297.2" width="1" height="3.9" fill="#ff0000"/>
<path d="M1336.5,297.3V301.5" stroke="#f23645" stroke-width="1"/>
<rect x="1335.0" y="298.0" width="3" height="2.9" fill="#f23645"/><rect x="1336.0" y="299.0" width="1" height="0.9" fill="#ff0000"/>
<path d="M1339.5,287.2V295.6" stroke="#089981" stroke-width="1"/>
<rect x="1338.0" y="288.7" width="3" height="5.9" fill="#089981"/><rect x="1339.0" y="289.7" width="1" height="3.9" fill="#000"/>
<path d="M1343.5,281.3V295.6" stroke="#f23645" stroke-width="1"/>
<rect x="1342.0" y="283.9" width="3" height="10.0" fill="#f23645"/><rect x="1343.0" y="284.9" width="1" height="8.0" fill="#ff0000"/>
<path d="M1346.5,282.1V306.5" stroke="#089981" stroke-width="1"/>
<rect x="1345.0" y="286.5" width="3" height="17.0" fill="#089981"/><rect x="1346.0" y="287.5" width="1" height="15.0" fill="#000"/>
<path d="M1350.5,291.4V298.9" stroke="#089981" stroke-width="1"/>
<rect x="1349.0" y="294.2" width="3" height="2" fill="#089981"/>
<path d="M1353.5,282.1V295.6" stroke="#089981" stroke-width="1"/>
<rect x="1352.0" y="284.6" width="3" height="9.4" fill="#089981"/><rect x="1353.0" y="285.6" width="1" height="7.4" fill="#00ff00"/>
<path d="M1357.5,262.0V279.6" stroke="#089981" stroke-width="1"/>
<rect x="1356.0" y="265.2" width="3" height="12.3" fill="#089981"/><rect x="1357.0" y="266.2" width="1" height="10.3" fill="#00ff00"/>
<path d="M1360.5,258.6V278.0" stroke="#089981" stroke-width="1"/>
<rect x="1359.0" y="262.1" width="3" height="13.5" fill="#089981"/><rect x="1360.0" y="263.1" width="1" height="11.5" fill="#00ff00"/>
<path d="M1364.5,259.5V275.4" stroke="#089981" stroke-width="1"/>
<rect x="1363.0" y="262.4" width="3" height="11.2" fill="#089981"/><rect x="1364.0" y="263.4" width="1" height="9.2" fill="#00ff00"/>
<path d="M1367.5,261.2V271.2" stroke="#f23645" stroke-width="1"/>
<rect x="1366.0" y="263.0" width="3" height="7.1" fill="#f23645"/><rect x="1367.0" y="264.0" width="1" height="5.1" fill="#ff0000"/>
<path d="M1371.5,262.0V272.9" stroke="#089981" stroke-width="1"/>
<rect x="1370.0" y="266.5" width="3" height="2" fill="#089981"/>
<path d="M1374.5,251.1V268.7" stroke="#f23645" stroke-width="1"/>
<rect x="1373.0" y="254.3" width="3" height="12.3" fill="#f23645"/><rect x="1374.0" y="255.3" width="1" height="10.3" fill="#ff0000"/>
<path d="M1378.5,264.5V279.6" stroke="#f23645" stroke-width="1"/>
<rect x="1377.0" y="267.2" width="3" height="10.6" fill="#f23645"/><rect x="1378.0" y="268.2" width="1" height="8.6" fill="#ff0000"/>
<path d="M1381.5,261.2V269.6" stroke="#089981" stroke-width="1"/>
<rect x="1380.0" y="262.7" width="3" height="5.9" fill="#089981"/><rect x="1381.0" y="263.7" width="1" height="3.9" fill="#000"/>
<path d="M1385.5,255.3V266.2" stroke="#f23645" stroke-width="1"/>
<rect x="1384.0" y="257.3" width="3" height="7.6" fill="#f23645"/><rect x="1385.0" y="258.3" width="1" height="5.6" fill="#ff0000"/>
<path d="M1388.5,267.0V281.3" stroke="#f23645" stroke-width="1"/>
<rect x="1387.0" y="269.6" width="3" height="10.0" fill="#f23645"/><rect x="1388.0" y="270.6" width="1" height="8.0" fill="#ff0000"/>
<rect x="1391.0" y="271.2" width="3" height="21.8" fill="#ff1020"/>
<path d="M1395.5,283.0V295.6" stroke="#089981" stroke-width="1"/>
<rect x="1394.0" y="288.3" width="3" height="2" fill="#089981"/>
<path d="M1399.5,281.3V295.6" stroke="#f23645" stroke-width="1"/>
<rect x="1398.0" y="283.9" width="3" height="10.0" fill="#f23645"/><rect x="1399.0" y="284.9" width="1" height="8.0" fill="#ff0000"/>
<path d="M1402.5,293.9V302.3" stroke="#089981" stroke-width="1"/>
<rect x="1401.0" y="297.1" width="3" height="2" fill="#089981"/>
<path d="M1406.5,293.9V304.8" stroke="#f23645" stroke-width="1"/>
<rect x="1405.0" y="295.9" width="3" height="7.6" fill="#f23645"/><rect x="1406.0" y="296.9" width="1" height="5.6" fill="#ff0000"/>
<path d="M1409.5,298.1V299.8" stroke="#089981" stroke-width="1"/>
<rect x="1408.0" y="298.4" width="3" height="1.2" fill="#089981"/><rect x="1409.0" y="298.8" width="1" height="0.4" fill="#000"/>
<path d="M1413.5,291.4V299.8" stroke="#f23645" stroke-width="1"/>
<rect x="1412.0" y="292.9" width="3" height="5.9" fill="#f23645"/><rect x="1413.0" y="293.9" width="1" height="3.9" fill="#ff0000"/>
<path d="M1416.5,290.5V298.9" stroke="#f23645" stroke-width="1"/>
<rect x="1415.0" y="292.1" width="3" height="5.9" fill="#f23645"/><rect x="1416.0" y="293.1" width="1" height="3.9" fill="#ff0000"/>
<path d="M1420.5,287.2V298.9" stroke="#089981" stroke-width="1"/>
<rect x="1419.0" y="289.3" width="3" height="8.2" fill="#089981"/><rect x="1420.0" y="290.3" width="1" height="6.2" fill="#000"/>
<path d="M1423.5,268.7V289.7" stroke="#089981" stroke-width="1"/>
<rect x="1422.0" y="272.5" width="3" height="14.7" fill="#089981"/><rect x="1423.0" y="273.5" width="1" height="12.7" fill="#00ff00"/>
<path d="M1427.5,269.6V276.3" stroke="#089981" stroke-width="1"/>
<rect x="1426.0" y="270.8" width="3" height="4.7" fill="#089981"/><rect x="1427.0" y="271.8" width="1" height="2.7" fill="#00ff00"/>
<path d="M1430.5,239.3V268.7" stroke="#089981" stroke-width="1"/>
<rect x="1429.0" y="253.0" width="3" height="2" fill="#089981"/>
<path d="M1434.5,251.1V276.3" stroke="#f23645" stroke-width="1"/>
<rect x="1433.0" y="255.6" width="3" height="17.6" fill="#f23645"/><rect x="1434.0" y="256.6" width="1" height="15.6" fill="#ff0000"/>
<path d="M1437.5,272.1V298.9" stroke="#089981" stroke-width="1"/>
<rect x="1436.0" y="276.9" width="3" height="18.8" fill="#089981"/><rect x="1437.0" y="277.9" width="1" height="16.8" fill="#000"/>
<path d="M1441.5,294.7V300.6" stroke="#f23645" stroke-width="1"/>
<rect x="1440.0" y="295.8" width="3" height="4.1" fill="#f23645"/><rect x="1441.0" y="296.8" width="1" height="2.1" fill="#ff0000"/>
<rect x="1443.0" y="297.3" width="3" height="16.8" fill="#ff1020"/>
<path d="M1448.5,309.8V319.9" stroke="#089981" stroke-width="1"/>
<rect x="1447.0" y="313.9" width="3" height="2" fill="#089981"/>
<path d="M1451.5,315.7V329.2" stroke="#f23645" stroke-width="1"/>
<rect x="1450.0" y="318.1" width="3" height="9.4" fill="#f23645"/><rect x="1451.0" y="319.1" width="1" height="7.4" fill="#ff0000"/>
<rect x="1454.0" y="325.0" width="3" height="21.8" fill="#ff1020"/>
<path d="M1458.5,338.4V351.8" stroke="#089981" stroke-width="1"/>
<rect x="1457.0" y="340.8" width="3" height="9.4" fill="#089981"/><rect x="1458.0" y="341.8" width="1" height="7.4" fill="#000"/>
<path d="M1462.5,330.0V344.3" stroke="#089981" stroke-width="1"/>
<rect x="1461.0" y="332.6" width="3" height="10.0" fill="#089981"/><rect x="1462.0" y="333.6" width="1" height="8.0" fill="#000"/>
<path d="M1465.5,335.0V347.6" stroke="#089981" stroke-width="1"/>
<rect x="1464.0" y="337.3" width="3" height="8.8" fill="#089981"/><rect x="1465.0" y="338.3" width="1" height="6.8" fill="#000"/>
<path d="M1469.5,346.8V359.4" stroke="#089981" stroke-width="1"/>
<rect x="1468.0" y="352.1" width="3" height="2" fill="#089981"/>
<path d="M1472.5,335.9V344.3" stroke="#089981" stroke-width="1"/>
<rect x="1471.0" y="339.1" width="3" height="2" fill="#089981"/>
<path d="M1476.5,335.0V345.9" stroke="#089981" stroke-width="1"/>
<rect x="1475.0" y="337.0" width="3" height="7.6" fill="#089981"/><rect x="1476.0" y="338.0" width="1" height="5.6" fill="#00ff00"/>
<path d="M1479.5,341.7V353.5" stroke="#f23645" stroke-width="1"/>
<rect x="1478.0" y="343.9" width="3" height="8.2" fill="#f23645"/><rect x="1479.0" y="344.9" width="1" height="6.2" fill="#ff0000"/>
<rect x="1482.0" y="349.3" width="3" height="14.3" fill="#ff1020"/>
<path d="M1486.5,356.0V372.0" stroke="#089981" stroke-width="1"/>
<rect x="1485.0" y="358.9" width="3" height="11.2" fill="#089981"/><rect x="1486.0" y="359.9" width="1" height="9.2" fill="#000"/>
<path d="M1490.5,348.5V360.2" stroke="#f23645" stroke-width="1"/>
<rect x="1489.0" y="350.6" width="3" height="8.2" fill="#f23645"/><rect x="1490.0" y="351.6" width="1" height="6.2" fill="#ff0000"/></g><rect x="155.0" y="813.0" width="17" height="17" rx="3" fill="#fff" stroke="#444" stroke-width="2"/><text x="163.5" y="825.8" font-size="12" font-weight="bold" fill="#444" text-anchor="middle">E</text><rect x="651.5" y="813.0" width="17" height="17" rx="3" fill="#fff" stroke="#444" stroke-width="2"/><text x="660" y="825.8" font-size="12" font-weight="bold" fill="#444" text-anchor="middle">E</text><rect x="1015.5" y="813.0" width="17" height="17" rx="3" fill="#fff" stroke="#444" stroke-width="2"/><text x="1024" y="825.8" font-size="12" font-weight="bold" fill="#444" text-anchor="middle">E</text><rect x="1517.2" y="813.3" width="16.6" height="16.6" rx="2.8" fill="#fff" stroke="#e040fb" stroke-width="1.7"/><text x="1525.5" y="825.6" font-size="11" font-weight="bold" fill="#e040fb" text-anchor="middle">E</text><path d="M1513.2,820h4.2M1513.2,823h4.2" stroke="#e040fb" stroke-width="1.2"/>
<g clip-path="url(#clipL)"><path d="M9.4,894.3H24.36M54.8,894.3H73.63M96.2,894.3H139.76M176.6,894.3H213.67M362.1,894.3H373.16M373.7,894.3H397.80M635.1,894.3H677.37M797.2,894.3H814.81M814.1,894.3H829.08M828.4,894.3H861.49M881.5,894.3H896.50M895.8,894.3H906.88M996.4,894.3H1008.28M1196.1,894.3H1224.05M1238.9,894.3H1256.46M1280.4,894.3H1295.36M1294.1,894.3H1302.37M1301.1,894.3H1311.70M1399.1,894.3H1421.14M1436.8,894.3H1450.96M1469.7,894.3H1490.45" stroke="#ff0000" stroke-width="7.2" stroke-linecap="round" fill="none"/>
<path d="M284.3,894.3H296.66M319.3,894.3H329.08M330.9,894.3H342.04M408.7,894.3H417.77M509.4,894.3H545.10M548.3,894.3H564.55M576.8,894.3H590.49M593.7,894.3H615.12M727.2,894.3H742.20M748.0,894.3H777.21M1007.3,894.3H1017.87M1109.2,894.3H1120.31M1311.7,894.3H1351.12M1364.7,894.3H1389.24" stroke="#00ff00" stroke-width="7.2" stroke-linecap="round" fill="none"/>
<path d="M11.7,894.3H11.68M24.3,894.3H30.84M73.6,894.3H96.25M139.8,894.3H154.02M152.0,894.3H176.65M213.7,894.3H234.42M253.1,894.3H284.27M294.6,894.3H319.28M329.1,894.3H330.95M342.0,894.3H362.07M397.8,894.3H408.75M417.8,894.3H453.56M481.4,894.3H509.38M545.1,894.3H548.28M590.5,894.3H593.66M615.1,894.3H635.15M688.3,894.3H727.22M742.2,894.3H747.97M777.2,894.3H797.24M814.4,894.3H814.46M828.7,894.3H828.72M861.5,894.3H881.52M896.1,894.3H896.15M906.9,894.3H919.84M939.9,894.3H960.04M966.3,894.3H996.41M1007.8,894.3H1007.79M1017.9,894.3H1030.84M1120.3,894.3H1196.10M1256.5,894.3H1280.38M1294.7,894.3H1294.75M1301.7,894.3H1301.75M1351.1,894.3H1357.60M1389.2,894.3H1399.16M1421.1,894.3H1431.51M1429.0,894.3H1436.76" stroke="#000000" stroke-width="7.2" stroke-linecap="round" fill="none"/>
<path d="M234.4,894.3H253.15M295.6,894.3H295.65M564.5,894.3H576.80M919.8,894.3H939.87M960.0,894.3H966.33M1030.8,894.3H1109.22M1357.6,894.3H1364.67M1430.2,894.3H1430.25" stroke="#008000" stroke-width="8.8" stroke-linecap="round" fill="none"/>
<path d="M30.8,894.3H54.76M153.0,894.3H153.02M373.2,894.3H373.74M453.5,894.3H481.37M677.4,894.3H688.32M1224.0,894.3H1238.89M1451.0,894.3H1469.70" stroke="#800000" stroke-width="8.8" stroke-linecap="round" fill="none"/>
<path d="M134.3,993.6H149.64M166.2,993.6H180.76M208.3,993.6H223.55M249.7,993.6H268.93M299.0,993.6H310.43M313.3,993.6H324.69M393.7,993.6H408.97M424.8,993.6H440.09M484.4,993.6H513.49M541.8,993.6H555.76M583.8,993.6H597.77M614.4,993.6H632.78M692.7,993.6H713.95M737.6,993.6H752.08M772.6,993.6H793.57M944.3,993.6H958.77M972.8,993.6H995.85M1114.9,993.6H1130.19M1143.4,993.6H1161.83M1168.1,993.6H1179.46M1252.3,993.6H1266.86M1272.6,993.6H1283.97M1381.2,993.6H1393.41" stroke="#ffff00" stroke-width="8.8" stroke-linecap="round" fill="none"/>
<path d="M10.4,993.6H134.35M149.6,993.6H166.25M180.7,993.6H208.27M268.9,993.6H285.79M310.4,993.6H313.30M341.8,993.6H393.69M418.3,993.6H424.81M440.1,993.6H484.46M632.8,993.6H692.71M793.6,993.6H863.59M874.2,993.6H910.27M995.8,993.6H1010.89M1130.2,993.6H1143.43M1179.5,993.6H1252.35M1266.8,993.6H1272.58M1284.0,993.6H1309.13M1393.4,993.6H1423.76M1434.4,993.6H1489.65" stroke="#ff0000" stroke-width="8.8" stroke-linecap="round" fill="none"/>
<path d="M223.5,993.6H249.76M285.8,993.6H299.03M324.7,993.6H341.82M409.0,993.6H418.33M513.5,993.6H541.77M555.7,993.6H583.78M597.8,993.6H614.39M713.9,993.6H737.57M752.1,993.6H772.58M863.6,993.6H874.24M910.3,993.6H944.26M958.8,993.6H972.79M1010.9,993.6H1114.90M1161.8,993.6H1168.07M1309.1,993.6H1381.24M1423.7,993.6H1434.41" stroke="#00ff00" stroke-width="8.8" stroke-linecap="round" fill="none"/>
<path d="M47.5,1032.7H65.35M65.1,1032.7H82.21M89.0,1032.7H104.25M131.8,1032.7H149.64M162.9,1032.7H178.17M194.0,1032.7H230.03M229.0,1032.7H244.30M282.2,1032.7H300.05M319.8,1032.7H335.06M383.3,1032.7H401.19M401.5,1032.7H419.35M439.1,1032.7H451.76M471.5,1032.7H485.48M485.7,1032.7H504.41M509.9,1032.7H520.49M520.2,1032.7H530.34M555.2,1032.7H579.62M600.6,1032.7H614.63M692.7,1032.7H706.69M713.4,1032.7H727.44M751.6,1032.7H769.45M860.5,1032.7H877.85M898.3,1032.7H926.61M958.5,1032.7H972.51M986.5,1032.7H999.74M1010.4,1032.7H1025.16M1028.0,1032.7H1045.90M1066.1,1032.7H1084.80M1098.6,1032.7H1113.33M1153.8,1032.7H1165.20M1238.1,1032.7H1263.23M1294.4,1032.7H1325.99M1350.1,1032.7H1372.15M1420.1,1032.7H1437.50M1469.4,1032.7H1484.18" stroke="#00ff00" stroke-width="8.8" stroke-linecap="round" fill="none"/>
<path d="M10.4,1032.7H23.86M43.6,1032.7H47.48M65.2,1032.7H65.23M82.2,1032.7H88.97M104.2,1032.7H122.41M127.9,1032.7H131.76M149.6,1032.7H153.53M178.2,1032.7H182.06M190.1,1032.7H194.00M229.5,1032.7H229.52M244.3,1032.7H254.67M270.5,1032.7H282.18M300.0,1032.7H303.94M313.3,1032.7H319.78M335.1,1032.7H341.55M354.8,1032.7H367.48M379.4,1032.7H383.32M401.2,1032.7H401.47M419.3,1032.7H425.83M431.3,1032.7H439.07M463.7,1032.7H471.49M485.5,1032.7H485.76M504.4,1032.7H509.87M520.4,1032.7H520.37M530.3,1032.7H555.26M579.6,1032.7H586.88M598.0,1032.7H600.64M628.4,1032.7H646.53M653.3,1032.7H677.65M684.9,1032.7H692.71M706.7,1032.7H713.45M727.4,1032.7H748.70M748.5,1032.7H751.57M769.4,1032.7H772.82M807.6,1032.7H832.47M839.2,1032.7H860.50M877.8,1032.7H881.74M891.1,1032.7H898.36M926.6,1032.7H940.87M940.4,1032.7H951.76M972.5,1032.7H975.88M1002.1,1032.7H1010.39M1025.1,1032.7H1028.03M1045.9,1032.7H1053.17M1055.8,1032.7H1066.15M1084.8,1032.7H1099.07M1113.3,1032.7H1120.33M1133.0,1032.7H1153.81M1165.2,1032.7H1175.57M1185.4,1032.7H1206.69M1231.6,1032.7H1238.09M1263.2,1032.7H1287.61M1289.9,1032.7H1294.37M1326.0,1032.7H1333.25M1336.1,1032.7H1350.62M1372.1,1032.7H1375.78M1406.1,1032.7H1420.14M1437.5,1032.7H1442.69M1455.1,1032.7H1469.42M1483.2,1032.7H1489.65" stroke="#000000" stroke-width="8.8" stroke-linecap="round" fill="none"/>
<path d="M23.9,1032.7H43.59M122.4,1032.7H127.87M153.5,1032.7H162.88M182.0,1032.7H190.11M254.7,1032.7H270.51M303.9,1032.7H313.30M341.5,1032.7H354.79M367.5,1032.7H379.43M425.8,1032.7H431.29M451.8,1032.7H463.71M586.9,1032.7H598.05M614.6,1032.7H628.39M646.5,1032.7H653.29M677.6,1032.7H684.93M748.6,1032.7H748.58M772.8,1032.7H807.59M832.5,1032.7H839.23M881.7,1032.7H891.10M940.6,1032.7H940.62M951.8,1032.7H958.52M975.9,1032.7H986.53M999.7,1032.7H1002.09M1053.2,1032.7H1055.78M1098.8,1032.7H1098.82M1120.3,1032.7H1133.06M1175.6,1032.7H1185.44M1206.7,1032.7H1231.61M1287.6,1032.7H1289.96M1333.2,1032.7H1336.12M1350.4,1032.7H1350.37M1375.8,1032.7H1406.14M1442.7,1032.7H1455.15M1483.7,1032.7H1483.67" stroke="#ff0000" stroke-width="8.8" stroke-linecap="round" fill="none"/>
<path d="M232.9,1072.3H285.79M292.0,1072.3H370.59M562.2,1072.3H677.65M751.6,1072.3H860.48M944.3,1072.3H1220.96M1343.1,1072.3H1462.92" stroke="#00ff00" stroke-width="8.8" stroke-linecap="round" fill="none"/>
<path d="M10.4,1072.3H232.90M285.8,1072.3H292.03M370.6,1072.3H562.26M677.6,1072.3H751.57M860.5,1072.3H944.26M1220.9,1072.3H1343.12M1462.9,1072.3H1489.65" stroke="#ff0000" stroke-width="8.8" stroke-linecap="round" fill="none"/>
<path d="M10.4,1112.4H30.34M65.1,1112.4H125.00M135.1,1112.4H188.02M201.3,1112.4H229.51M254.2,1112.4H275.42M306.0,1112.4H327.28M345.2,1112.4H366.70M394.2,1112.4H418.57M485.0,1112.4H527.75M586.4,1112.4H611.52M611.5,1112.4H649.64M695.3,1112.4H730.55M779.6,1112.4H807.83M860.5,1112.4H888.75M902.8,1112.4H919.35M951.5,1112.4H962.14M975.4,1112.4H1022.04M1119.6,1112.4H1161.83M1171.4,1112.4H1185.95M1245.1,1112.4H1316.39M1378.1,1112.4H1410.27" stroke="#000000" stroke-width="8.8" stroke-linecap="round" fill="none"/>
<path d="M30.3,1112.4H65.11M125.0,1112.4H135.13M188.0,1112.4H201.26M275.4,1112.4H289.68M366.7,1112.4H394.21M425.3,1112.4H484.98M649.6,1112.4H695.30M807.8,1112.4H860.50M888.7,1112.4H902.77M1185.9,1112.4H1245.09M1410.3,1112.4H1431.02M1441.1,1112.4H1489.65" stroke="#ff0000" stroke-width="8.8" stroke-linecap="round" fill="none"/>
<path d="M229.5,1112.4H254.17M289.7,1112.4H306.04M327.3,1112.4H345.20M418.6,1112.4H425.33M527.7,1112.4H586.38M611.5,1112.4H611.53M730.5,1112.4H779.58M919.3,1112.4H951.52M962.1,1112.4H975.38M1022.0,1112.4H1119.57M1161.8,1112.4H1171.44M1316.4,1112.4H1378.13M1431.0,1112.4H1441.15" stroke="#00ff00" stroke-width="8.8" stroke-linecap="round" fill="none"/>
<path d="M10.4,1151.5H30.34M54.0,1151.5H114.63M138.2,1151.5H177.65M177.1,1151.5H188.02M205.1,1151.5H223.03M254.2,1151.5H268.93M285.3,1151.5H296.94M306.0,1151.5H327.80M337.9,1151.5H363.07M387.2,1151.5H411.57M424.8,1151.5H436.98M474.1,1151.5H507.00M541.8,1151.5H565.87M586.4,1151.5H611.52M611.5,1151.5H625.78M667.3,1151.5H678.17M692.7,1151.5H716.55M737.6,1151.5H758.56M769.7,1151.5H793.57M818.5,1151.5H874.48M905.4,1151.5H919.35M947.4,1151.5H968.62M972.3,1151.5H989.89M1059.1,1151.5H1071.32M1115.4,1151.5H1130.19M1154.3,1151.5H1165.20M1240.7,1151.5H1277.23M1332.2,1151.5H1364.89M1374.2,1151.5H1400.42M1420.1,1151.5H1431.02M1475.9,1151.5H1489.65" stroke="#000000" stroke-width="8.8" stroke-linecap="round" fill="none"/>
<path d="M30.3,1151.5H53.96M114.6,1151.5H138.24M188.0,1151.5H205.15M268.9,1151.5H285.29M363.1,1151.5H387.21M437.0,1151.5H474.09M625.8,1151.5H667.29M678.2,1151.5H692.71M793.6,1151.5H818.48M881.2,1151.5H905.36M989.9,1151.5H1022.04M1130.2,1151.5H1154.32M1178.4,1151.5H1240.68M1282.9,1151.5H1309.13M1400.4,1151.5H1420.14M1444.3,1151.5H1475.90" stroke="#ff0000" stroke-width="8.8" stroke-linecap="round" fill="none"/>
<path d="M177.4,1151.5H177.40M223.0,1151.5H254.17M296.9,1151.5H306.04M327.8,1151.5H337.93M411.6,1151.5H424.81M507.0,1151.5H541.77M565.9,1151.5H586.38M611.5,1151.5H611.53M716.5,1151.5H737.57M758.5,1151.5H769.73M874.5,1151.5H881.24M919.3,1151.5H947.37M968.6,1151.5H972.27M1022.0,1151.5H1059.15M1071.3,1151.5H1115.42M1165.2,1151.5H1178.44M1277.2,1151.5H1282.95M1309.1,1151.5H1332.23M1364.9,1151.5H1374.24M1431.0,1151.5H1444.26" stroke="#00ff00" stroke-width="8.8" stroke-linecap="round" fill="none"/>
<path d="M267.1,1191.5H285.79M358.7,1191.5H371.37M640.8,1191.5H657.42M799.0,1191.5H819.50M1177.1,1191.5H1193.21M1400.9,1191.5H1421.16M1440.4,1191.5H1452.54" stroke="#000000" stroke-width="8.8" stroke-linecap="round" fill="none"/>
<path d="M10.4,1191.5H230.03M285.8,1191.5H289.68M371.4,1191.5H418.57M425.3,1191.5H527.75M657.4,1191.5H730.55M819.5,1191.5H919.35M1193.2,1191.5H1315.61M1421.2,1191.5H1431.02M1452.5,1191.5H1489.65" stroke="#ff0000" stroke-width="8.8" stroke-linecap="round" fill="none"/>
<path d="M232.9,1191.5H267.13M289.2,1191.5H358.68M530.1,1191.5H640.84M737.6,1191.5H799.03M919.6,1191.5H1177.15M1318.5,1191.5H1400.95M1430.5,1191.5H1440.37" stroke="#00ff00" stroke-width="8.8" stroke-linecap="round" fill="none"/>
<path d="M230.0,1191.5H232.90M289.4,1191.5H289.43M418.6,1191.5H425.33M527.7,1191.5H530.10M730.5,1191.5H737.57M919.3,1191.5H919.62M1315.6,1191.5H1318.48M1430.8,1191.5H1430.77" stroke="#ffff00" stroke-width="8.8" stroke-linecap="round" fill="none"/></g>
<text x="740.5" y="871.5" font-size="12" fill="#131722" text-anchor="middle" font-weight="normal" textLength="160" lengthAdjust="spacingAndGlyphs" >ICE Trading Deluxe Big Point</text>
<text x="740.5" y="971" font-size="12" fill="#131722" text-anchor="middle" font-weight="normal" textLength="385" lengthAdjust="spacingAndGlyphs" >Von oben: Status / Kerzenfarbe / Wolkenfarbe / Trend / Setter / Welle</text>
<text x="10.5" y="20" font-size="12" fill="#131722" text-anchor="start" font-weight="normal" textLength="359" lengthAdjust="spacingAndGlyphs" >Lavirco erstellt mit TradingView.com, Mrz 17, 2026 13:37 UTC+1</text>
<text x="18" y="47" font-size="12" fill="#131722" text-anchor="start" font-weight="normal" textLength="288" lengthAdjust="spacingAndGlyphs" >UBTECH ROBOTICS CORP LTD Class H · 1T · HKEX</text>
<text x="312.5" y="47" font-size="12" fill="#131722" text-anchor="start" font-weight="normal" >O</text>
<text x="322" y="47" font-size="12" fill="#f23645" text-anchor="start" font-weight="normal" textLength="30" lengthAdjust="spacingAndGlyphs" >106,8</text>
<text x="359.5" y="47" font-size="12" fill="#131722" text-anchor="start" font-weight="normal" >H</text>
<text x="368.5" y="47" font-size="12" fill="#f23645" text-anchor="start" font-weight="normal" textLength="29.5" lengthAdjust="spacingAndGlyphs" >107,9</text>
<text x="404.5" y="47" font-size="12" fill="#131722" text-anchor="start" font-weight="normal" >L</text>
<text x="411.5" y="47" font-size="12" fill="#f23645" text-anchor="start" font-weight="normal" textLength="30" lengthAdjust="spacingAndGlyphs" >103,7</text>
<text x="448.5" y="47" font-size="12" fill="#131722" text-anchor="start" font-weight="normal" >C</text>
<text x="457.5" y="47" font-size="12" fill="#f23645" text-anchor="start" font-weight="normal" textLength="30" lengthAdjust="spacingAndGlyphs" >104,2</text>
<text x="495" y="47" font-size="12" fill="#f23645" text-anchor="start" font-weight="normal" textLength="80" lengthAdjust="spacingAndGlyphs" >−0,8 (−0,76%)</text>
<text x="18" y="64" font-size="12" fill="#131722" text-anchor="start" font-weight="normal" textLength="172" lengthAdjust="spacingAndGlyphs" >Croc 3.0 Chart - Basic (on, on)</text>
<text x="198" y="64" font-size="12" fill="#0000ff" text-anchor="start" font-weight="normal" textLength="30.5" lengthAdjust="spacingAndGlyphs" >106,9</text>
<text x="236" y="64" font-size="12" fill="#ff0000" text-anchor="start" font-weight="normal" textLength="27.5" lengthAdjust="spacingAndGlyphs" >127,7</text>
<text x="271" y="64" font-size="12" fill="#c0c0c0" text-anchor="start" font-weight="normal" textLength="30.5" lengthAdjust="spacingAndGlyphs" >104,2</text>
<text x="309" y="64" font-size="12" fill="#00e600" text-anchor="start" font-weight="normal" textLength="26.5" lengthAdjust="spacingAndGlyphs" >117,3</text>
<text x="343" y="64" font-size="12" fill="#ff00ff" text-anchor="start" font-weight="normal" textLength="28" lengthAdjust="spacingAndGlyphs" >127,7</text>
<text x="378" y="64" font-size="12" fill="#0000ff" text-anchor="start" font-weight="normal" textLength="30" lengthAdjust="spacingAndGlyphs" >126,2</text>
<text x="415.5" y="64" font-size="12" fill="#ff0000" text-anchor="start" font-weight="normal" textLength="28.5" lengthAdjust="spacingAndGlyphs" >112,3</text>
<text x="451" y="64" font-size="12" fill="#00e600" text-anchor="start" font-weight="normal" textLength="28.5" lengthAdjust="spacingAndGlyphs" >110,0</text>
<text x="490.5" y="64" font-size="11" fill="#131722" text-anchor="middle" font-weight="normal" >∅</text>
<text x="505.85699999999997" y="64" font-size="11" fill="#131722" text-anchor="middle" font-weight="normal" >∅</text>
<text x="521.2139999999999" y="64" font-size="11" fill="#131722" text-anchor="middle" font-weight="normal" >∅</text>
<text x="536.571" y="64" font-size="11" fill="#131722" text-anchor="middle" font-weight="normal" >∅</text>
<text x="551.928" y="64" font-size="11" fill="#131722" text-anchor="middle" font-weight="normal" >∅</text>
<text x="567.285" y="64" font-size="11" fill="#131722" text-anchor="middle" font-weight="normal" >∅</text>
<text x="582.642" y="64" font-size="11" fill="#131722" text-anchor="middle" font-weight="normal" >∅</text>
<text x="597.999" y="64" font-size="11" fill="#131722" text-anchor="middle" font-weight="normal" >∅</text>
<text x="613.356" y="64" font-size="11" fill="#131722" text-anchor="middle" font-weight="normal" >∅</text>
<text x="628.713" y="64" font-size="11" fill="#131722" text-anchor="middle" font-weight="normal" >∅</text>
<text x="644.0699999999999" y="64" font-size="11" fill="#131722" text-anchor="middle" font-weight="normal" >∅</text>
<text x="659.427" y="64" font-size="11" fill="#131722" text-anchor="middle" font-weight="normal" >∅</text>
<text x="674.784" y="64" font-size="11" fill="#131722" text-anchor="middle" font-weight="normal" >∅</text>
<text x="690.141" y="64" font-size="11" fill="#131722" text-anchor="middle" font-weight="normal" >∅</text>
<text x="705.498" y="64" font-size="11" fill="#131722" text-anchor="middle" font-weight="normal" >∅</text>
<text x="720.855" y="64" font-size="11" fill="#131722" text-anchor="middle" font-weight="normal" >∅</text>
<text x="736.212" y="64" font-size="11" fill="#131722" text-anchor="middle" font-weight="normal" >∅</text>
<text x="751.569" y="64" font-size="11" fill="#131722" text-anchor="middle" font-weight="normal" >∅</text>
<text x="766.9259999999999" y="64" font-size="11" fill="#131722" text-anchor="middle" font-weight="normal" >∅</text>
<text x="782.283" y="64" font-size="11" fill="#131722" text-anchor="middle" font-weight="normal" >∅</text>
<text x="797.64" y="64" font-size="11" fill="#131722" text-anchor="middle" font-weight="normal" >∅</text>
<text x="812.997" y="64" font-size="11" fill="#131722" text-anchor="middle" font-weight="normal" >∅</text>
<text x="828.354" y="64" font-size="11" fill="#131722" text-anchor="middle" font-weight="normal" >∅</text>
<text x="843.711" y="64" font-size="11" fill="#131722" text-anchor="middle" font-weight="normal" >∅</text>
<text x="859.068" y="64" font-size="11" fill="#131722" text-anchor="middle" font-weight="normal" >∅</text>
<text x="874.425" y="64" font-size="11" fill="#131722" text-anchor="middle" font-weight="normal" >∅</text>
<text x="889.7819999999999" y="64" font-size="11" fill="#131722" text-anchor="middle" font-weight="normal" >∅</text>
<text x="905.139" y="64" font-size="11" fill="#131722" text-anchor="middle" font-weight="normal" >∅</text>
<text x="920.496" y="64" font-size="11" fill="#131722" text-anchor="middle" font-weight="normal" >∅</text>
<text x="935.853" y="64" font-size="11" fill="#131722" text-anchor="middle" font-weight="normal" >∅</text>
<text x="951.21" y="64" font-size="11" fill="#131722" text-anchor="middle" font-weight="normal" >∅</text>
<text x="18" y="855" font-size="12" fill="#131722" text-anchor="start" font-weight="normal" textLength="192" lengthAdjust="spacingAndGlyphs" >Croc 3.0 Lochstreifen - Basic (off)</text>
<text x="221.3" y="855" font-size="11" fill="#131722" text-anchor="middle" font-weight="normal" >∅</text>
<text x="274.5" y="855" font-size="11" fill="#131722" text-anchor="middle" font-weight="normal" >∅</text>
<text x="289.7" y="855" font-size="11" fill="#131722" text-anchor="middle" font-weight="normal" >∅</text>
<text x="305.5" y="855" font-size="11" fill="#131722" text-anchor="middle" font-weight="normal" >∅</text>
<text x="320.7" y="855" font-size="11" fill="#131722" text-anchor="middle" font-weight="normal" >∅</text>
<text x="373.3" y="855" font-size="11" fill="#131722" text-anchor="middle" font-weight="normal" >∅</text>
<text x="459.9" y="855" font-size="11" fill="#131722" text-anchor="middle" font-weight="normal" >∅</text>
<text x="475.7" y="855" font-size="11" fill="#131722" text-anchor="middle" font-weight="normal" >∅</text>
<text x="491.2" y="855" font-size="11" fill="#131722" text-anchor="middle" font-weight="normal" >∅</text>
<text x="538.3" y="855" font-size="11" fill="#131722" text-anchor="middle" font-weight="normal" >∅</text>
<text x="586" y="855" font-size="11" fill="#131722" text-anchor="middle" font-weight="normal" >∅</text>
<text x="631.6" y="855" font-size="11" fill="#131722" text-anchor="middle" font-weight="normal" >∅</text>
<text x="646.8" y="855" font-size="11" fill="#131722" text-anchor="middle" font-weight="normal" >∅</text>
<text x="662" y="855" font-size="11" fill="#131722" text-anchor="middle" font-weight="normal" >∅</text>
<text x="677.8" y="855" font-size="11" fill="#131722" text-anchor="middle" font-weight="normal" >∅</text>
<text x="693.3" y="855" font-size="11" fill="#131722" text-anchor="middle" font-weight="normal" >∅</text>
<text x="741" y="855" font-size="11" fill="#131722" text-anchor="middle" font-weight="normal" >∅</text>
<text x="756.2" y="855" font-size="11" fill="#131722" text-anchor="middle" font-weight="normal" >∅</text>
<text x="232.8" y="855" font-size="12" fill="#ff0000" text-anchor="start" font-weight="normal" textLength="30.5" lengthAdjust="spacingAndGlyphs" >14,00</text>
<text x="332.2" y="855" font-size="12" fill="#000" text-anchor="start" font-weight="normal" textLength="30" lengthAdjust="spacingAndGlyphs" >10,50</text>
<text x="385.4" y="855" font-size="12" fill="#ffff00" text-anchor="start" font-weight="normal" textLength="27.5" lengthAdjust="spacingAndGlyphs" >11,50</text>
<text x="421" y="855" font-size="12" fill="#ff0000" text-anchor="start" font-weight="normal" textLength="28" lengthAdjust="spacingAndGlyphs" >11,50</text>
<text x="502.4" y="855" font-size="12" fill="#ff0000" text-anchor="start" font-weight="normal" textLength="25" lengthAdjust="spacingAndGlyphs" >9,50</text>
<text x="550.5" y="855" font-size="12" fill="#ff0000" text-anchor="start" font-weight="normal" textLength="24.5" lengthAdjust="spacingAndGlyphs" >8,50</text>
<text x="597.3" y="855" font-size="12" fill="#000" text-anchor="start" font-weight="normal" textLength="23.5" lengthAdjust="spacingAndGlyphs" >7,50</text>
<text x="704.6" y="855" font-size="12" fill="#ff0000" text-anchor="start" font-weight="normal" textLength="25" lengthAdjust="spacingAndGlyphs" >6,50</text>
<text x="19.0" y="1242" font-size="12" fill="#131722" text-anchor="middle" font-weight="normal" >Jul</text>
<text x="96.0" y="1242" font-size="12" fill="#131722" text-anchor="middle" font-weight="normal" >Aug</text>
<text x="173.0" y="1242" font-size="12" fill="#131722" text-anchor="middle" font-weight="normal" >Sep</text>
<text x="240.0" y="1242" font-size="12" fill="#131722" text-anchor="middle" font-weight="normal" >Okt</text>
<text x="313.0" y="1242" font-size="12" fill="#131722" text-anchor="middle" font-weight="normal" >Nov</text>
<text x="387.0" y="1242" font-size="12" fill="#131722" text-anchor="middle" font-weight="normal" >Dez</text>
<text x="457.0" y="1242" font-size="12" fill="#131722" text-anchor="middle" font-weight="bold" textLength="31" lengthAdjust="spacingAndGlyphs" >2025</text>
<text x="523.0" y="1242" font-size="12" fill="#131722" text-anchor="middle" font-weight="normal" >Feb</text>
<text x="593.0" y="1242" font-size="12" fill="#131722" text-anchor="middle" font-weight="normal" >Mrz</text>
<text x="667.0" y="1242" font-size="12" fill="#131722" text-anchor="middle" font-weight="normal" >Apr</text>
<text x="734.0" y="1242" font-size="12" fill="#131722" text-anchor="middle" font-weight="normal" >Mai</text>
<text x="804.0" y="1242" font-size="12" fill="#131722" text-anchor="middle" font-weight="normal" >Jun</text>
<text x="877.0" y="1242" font-size="12" fill="#131722" text-anchor="middle" font-weight="normal" >Jul</text>
<text x="954.0" y="1242" font-size="12" fill="#131722" text-anchor="middle" font-weight="normal" >Aug</text>
<text x="1028.0" y="1242" font-size="12" fill="#131722" text-anchor="middle" font-weight="normal" >Sep</text>
<text x="1105.0" y="1242" font-size="12" fill="#131722" text-anchor="middle" font-weight="normal" >Okt</text>
<text x="1175.0" y="1242" font-size="12" fill="#131722" text-anchor="middle" font-weight="normal" >Nov</text>
<text x="1245.0" y="1242" font-size="12" fill="#131722" text-anchor="middle" font-weight="normal" >Dez</text>
<text x="1318.0" y="1242" font-size="12" fill="#131722" text-anchor="middle" font-weight="bold" textLength="31" lengthAdjust="spacingAndGlyphs" >2026</text>
<text x="1392.0" y="1242" font-size="12" fill="#131722" text-anchor="middle" font-weight="normal" >Feb</text>
<text x="1451.0" y="1242" font-size="12" fill="#131722" text-anchor="middle" font-weight="normal" >Mrz</text>
<text x="1528.0" y="1242" font-size="12" fill="#131722" text-anchor="middle" font-weight="normal" >Apr</text>
<text x="1595.0" y="1242" font-size="12" fill="#131722" text-anchor="middle" font-weight="normal" >Mai</text>
<text x="1661.0" y="1242" font-size="12" fill="#131722" text-anchor="middle" font-weight="normal" >Jun</text>
<text x="1735.0" y="1242" font-size="12" fill="#131722" text-anchor="middle" font-weight="normal" >Jul</text>
<text x="1812.0" y="1242" font-size="12" fill="#131722" text-anchor="middle" font-weight="normal" >Aug</text>
<text x="1886.0" y="1242" font-size="12" fill="#131722" text-anchor="middle" font-weight="normal" >Sep</text>
<rect x="1915.5" y="31.5" width="44" height="25" rx="4" fill="#fff" stroke="#ebedf0"/>
<text x="1937.5" y="48" font-size="12" fill="#131722" text-anchor="middle" font-weight="normal" >HKD</text>
<path d="M1913,62.0 h44 a3,3 0 0 1 3,3 v11 a3,3 0 0 1 -3,3 h-44 z" fill="#0000ff"/>
<text x="1954.5" y="74.0" font-size="12" fill="#fff" text-anchor="end" font-weight="normal" textLength="32" lengthAdjust="spacingAndGlyphs" >126,2</text>
<path d="M1913,79.0 h44 a3,3 0 0 1 3,3 v11 a3,3 0 0 1 -3,3 h-44 z" fill="#3cb371"/>
<text x="1954.5" y="91.0" font-size="12" fill="#fff" text-anchor="end" font-weight="normal" textLength="32" lengthAdjust="spacingAndGlyphs" >125,0</text>
<path d="M1913,96.0 h44 a3,3 0 0 1 3,3 v11 a3,3 0 0 1 -3,3 h-44 z" fill="#00e5ff"/>
<text x="1954.5" y="108.0" font-size="12" fill="#000" text-anchor="end" font-weight="normal" textLength="32" lengthAdjust="spacingAndGlyphs" >123,0</text>
<path d="M1913,113.0 h44 a3,3 0 0 1 3,3 v11 a3,3 0 0 1 -3,3 h-44 z" fill="#ffff00"/>
<text x="1954.5" y="125.0" font-size="12" fill="#000" text-anchor="end" font-weight="normal" textLength="32" lengthAdjust="spacingAndGlyphs" >122,1</text>
<path d="M1913,130.0 h44 a3,3 0 0 1 3,3 v11 a3,3 0 0 1 -3,3 h-44 z" fill="#ff00ff"/>
<text x="1954.5" y="142.0" font-size="12" fill="#fff" text-anchor="end" font-weight="normal" textLength="32" lengthAdjust="spacingAndGlyphs" >121,8</text>
<path d="M1913,147.0 h44 a3,3 0 0 1 3,3 v11 a3,3 0 0 1 -3,3 h-44 z" fill="#ffff00"/>
<text x="1954.5" y="159.0" font-size="12" fill="#000" text-anchor="end" font-weight="normal" textLength="32" lengthAdjust="spacingAndGlyphs" >119,5</text>
<path d="M1913,164.0 h44 a3,3 0 0 1 3,3 v11 a3,3 0 0 1 -3,3 h-44 z" fill="#00ff00"/>
<text x="1954.5" y="176.0" font-size="12" fill="#000" text-anchor="end" font-weight="normal" textLength="32" lengthAdjust="spacingAndGlyphs" >117,3</text>
<path d="M1913,181.0 h44 a3,3 0 0 1 3,3 v11 a3,3 0 0 1 -3,3 h-44 z" fill="#00ff00"/>
<text x="1954.5" y="193.0" font-size="12" fill="#000" text-anchor="end" font-weight="normal" textLength="32" lengthAdjust="spacingAndGlyphs" >114,9</text>
<path d="M1913,198.0 h44 a3,3 0 0 1 3,3 v11 a3,3 0 0 1 -3,3 h-44 z" fill="#8c8c8c"/>
<text x="1954.5" y="210.0" font-size="12" fill="#fff" text-anchor="end" font-weight="normal" textLength="32" lengthAdjust="spacingAndGlyphs" >114,7</text>
<path d="M1913,215.0 h44 a3,3 0 0 1 3,3 v11 a3,3 0 0 1 -3,3 h-44 z" fill="#ff0000"/>
<text x="1954.5" y="227.0" font-size="12" fill="#fff" text-anchor="end" font-weight="normal" textLength="32" lengthAdjust="spacingAndGlyphs" >112,3</text>
<path d="M1913,232.0 h44 a3,3 0 0 1 3,3 v11 a3,3 0 0 1 -3,3 h-44 z" fill="#00ff00"/>
<text x="1954.5" y="244.0" font-size="12" fill="#000" text-anchor="end" font-weight="normal" textLength="32" lengthAdjust="spacingAndGlyphs" >110,0</text>
<path d="M1913,249.0 h44 a3,3 0 0 1 3,3 v11 a3,3 0 0 1 -3,3 h-44 z" fill="#0000ff"/>
<text x="1954.5" y="261.0" font-size="12" fill="#fff" text-anchor="end" font-weight="normal" textLength="32" lengthAdjust="spacingAndGlyphs" >106,9</text>
<path d="M1913,266.0 h44 a3,3 0 0 1 3,3 v11 a3,3 0 0 1 -3,3 h-44 z" fill="#006400"/>
<text x="1954.5" y="278.0" font-size="12" fill="#fff" text-anchor="end" font-weight="normal" textLength="32" lengthAdjust="spacingAndGlyphs" >106,5</text>
<path d="M1913,283.0 h44 a3,3 0 0 1 3,3 v11 a3,3 0 0 1 -3,3 h-44 z" fill="#0000ff"/>
<text x="1954.5" y="295.0" font-size="12" fill="#fff" text-anchor="end" font-weight="normal" textLength="32" lengthAdjust="spacingAndGlyphs" >105,2</text>
<path d="M1913,300.0 h44 a3,3 0 0 1 3,3 v11 a3,3 0 0 1 -3,3 h-44 z" fill="#8c8c8c"/>
<text x="1954.5" y="312.0" font-size="12" fill="#e8e8e8" text-anchor="end" font-weight="normal" textLength="32" lengthAdjust="spacingAndGlyphs" >105,0</text>
<path d="M1913,317.0 h44 a3,3 0 0 1 3,3 v11 a3,3 0 0 1 -3,3 h-44 z" fill="#000"/>
<text x="1954.5" y="329.0" font-size="12" fill="#fff" text-anchor="end" font-weight="normal" textLength="32" lengthAdjust="spacingAndGlyphs" >104,4</text>
<path d="M1913,334.0 h44 a3,3 0 0 1 3,3 v11 a3,3 0 0 1 -3,3 h-44 z" fill="#c0c0c0"/>
<text x="1954.5" y="346.0" font-size="12" fill="#000" text-anchor="end" font-weight="normal" textLength="32" lengthAdjust="spacingAndGlyphs" >104,2</text>
<path d="M1913,351.0 h44 a3,3 0 0 1 3,3 v11 a3,3 0 0 1 -3,3 h-44 z" fill="#000"/>
<text x="1954.5" y="363.0" font-size="12" fill="#fff" text-anchor="end" font-weight="normal" textLength="32" lengthAdjust="spacingAndGlyphs" >104,2</text>
<path d="M1913,368.0 h44 a3,3 0 0 1 3,3 v11 a3,3 0 0 1 -3,3 h-44 z" fill="#8c8c8c"/>
<text x="1954.5" y="380.0" font-size="12" fill="#e8e8e8" text-anchor="end" font-weight="normal" textLength="32" lengthAdjust="spacingAndGlyphs" >102,1</text>
<path d="M1913,385.0 h44 a3,3 0 0 1 3,3 v11 a3,3 0 0 1 -3,3 h-44 z" fill="#8c8c8c"/>
<text x="1954.5" y="397.0" font-size="12" fill="#e8e8e8" text-anchor="end" font-weight="normal" textLength="32" lengthAdjust="spacingAndGlyphs" >102,1</text>
<path d="M1913,402.0 h44 a3,3 0 0 1 3,3 v11 a3,3 0 0 1 -3,3 h-44 z" fill="#00ff00"/>
<text x="1954.5" y="414.0" font-size="12" fill="#000" text-anchor="end" font-weight="normal" textLength="32" lengthAdjust="spacingAndGlyphs" >101,2</text>
<rect x="1913" y="60.9" width="46" height="1.3" fill="#ff0000"/>
<rect x="1912" y="349.6" width="49" height="1.5" fill="#fff"/>
<text x="1954.5" y="430.9" font-size="12" fill="#000" text-anchor="end" font-weight="normal" textLength="32" lengthAdjust="spacingAndGlyphs" >101,2</text>
<path d="M1913,436.0 h44 a3,3 0 0 1 3,3 v11 a3,3 0 0 1 -3,3 h-44 z" fill="#ff0000"/>
<text x="1954.5" y="448.0" font-size="12" fill="#fff" text-anchor="end" font-weight="normal" textLength="32" lengthAdjust="spacingAndGlyphs" >97,40</text>
<path d="M1913,453.0 h44 a3,3 0 0 1 3,3 v11 a3,3 0 0 1 -3,3 h-44 z" fill="#8b2323"/>
<text x="1954.5" y="465.0" font-size="12" fill="#fff" text-anchor="end" font-weight="normal" textLength="32" lengthAdjust="spacingAndGlyphs" >97,34</text>
<path d="M1913,470.0 h44 a3,3 0 0 1 3,3 v11 a3,3 0 0 1 -3,3 h-44 z" fill="#ff9838"/>
<text x="1954.5" y="482.0" font-size="12" fill="#000" text-anchor="end" font-weight="normal" textLength="32" lengthAdjust="spacingAndGlyphs" >94,87</text>
<text x="1954.5" y="496.3" font-size="12" fill="#131722" text-anchor="end" font-weight="normal" textLength="32" lengthAdjust="spacingAndGlyphs" >66,00</text>
<text x="1954.5" y="534.3" font-size="12" fill="#131722" text-anchor="end" font-weight="normal" textLength="32" lengthAdjust="spacingAndGlyphs" >58,00</text>
<text x="1954.5" y="567.3" font-size="12" fill="#131722" text-anchor="end" font-weight="normal" textLength="32" lengthAdjust="spacingAndGlyphs" >52,00</text>
<text x="1954.5" y="603.3" font-size="12" fill="#131722" text-anchor="end" font-weight="normal" textLength="32" lengthAdjust="spacingAndGlyphs" >46,00</text>
<text x="1954.5" y="637.3" font-size="12" fill="#131722" text-anchor="end" font-weight="normal" textLength="32" lengthAdjust="spacingAndGlyphs" >41,00</text>
<text x="1954.5" y="667.3" font-size="12" fill="#131722" text-anchor="end" font-weight="normal" textLength="32" lengthAdjust="spacingAndGlyphs" >37,00</text>
<text x="1954.5" y="701.3" font-size="12" fill="#131722" text-anchor="end" font-weight="normal" textLength="32" lengthAdjust="spacingAndGlyphs" >33,00</text>
<text x="1954.5" y="734.3" font-size="12" fill="#131722" text-anchor="end" font-weight="normal" textLength="32" lengthAdjust="spacingAndGlyphs" >29,50</text>
<text x="1954.5" y="765.3" font-size="12" fill="#131722" text-anchor="end" font-weight="normal" textLength="32" lengthAdjust="spacingAndGlyphs" >26,50</text>
<text x="1954.5" y="801.3" font-size="12" fill="#131722" text-anchor="end" font-weight="normal" textLength="32" lengthAdjust="spacingAndGlyphs" >23,50</text>
<text x="1954.5" y="831.3" font-size="12" fill="#131722" text-anchor="end" font-weight="normal" textLength="32" lengthAdjust="spacingAndGlyphs" >21,20</text>
<path d="M1913,540.0 h44 a3,3 0 0 1 3,3 v11 a3,3 0 0 1 -3,3 h-44 z" fill="#8b2323"/>
<text x="1954.5" y="552.0" font-size="12" fill="#fff" text-anchor="end" font-weight="normal" textLength="32" lengthAdjust="spacingAndGlyphs" >54,75</text>
<path d="M1913,835.0 h44 a3,3 0 0 1 3,3 v11 a3,3 0 0 1 -3,3 h-44 z" fill="#800000"/>
<text x="1954.5" y="847.0" font-size="12" fill="#fff" text-anchor="end" font-weight="normal" textLength="32" lengthAdjust="spacingAndGlyphs" >14,00</text>
<path d="M1913,852.0 h44 a3,3 0 0 1 3,3 v11 a3,3 0 0 1 -3,3 h-44 z" fill="#008000"/>
<text x="1954.5" y="864.0" font-size="12" fill="#fff" text-anchor="end" font-weight="normal" textLength="32" lengthAdjust="spacingAndGlyphs" >14,00</text>
<path d="M1913,869.0 h44 a3,3 0 0 1 3,3 v11 a3,3 0 0 1 -3,3 h-44 z" fill="#ff0000"/>
<text x="1954.5" y="881.0" font-size="12" fill="#fff" text-anchor="end" font-weight="normal" textLength="32" lengthAdjust="spacingAndGlyphs" >14,00</text>
<path d="M1913,886.0 h44 a3,3 0 0 1 3,3 v11 a3,3 0 0 1 -3,3 h-44 z" fill="#00ff00"/>
<text x="1954.5" y="898.0" font-size="12" fill="#000" text-anchor="end" font-weight="normal" textLength="32" lengthAdjust="spacingAndGlyphs" >14,00</text>
<text x="1954.5" y="937.3" font-size="12" fill="#131722" text-anchor="end" font-weight="normal" textLength="32" lengthAdjust="spacingAndGlyphs" >13,00</text>
<text x="1954.5" y="976.3" font-size="12" fill="#131722" text-anchor="end" font-weight="normal" textLength="32" lengthAdjust="spacingAndGlyphs" >12,00</text>
<path d="M1913,985.0 h44 a3,3 0 0 1 3,3 v11 a3,3 0 0 1 -3,3 h-44 z" fill="#ffff00"/>
<text x="1954.5" y="997.0" font-size="12" fill="#000" text-anchor="end" font-weight="normal" textLength="32" lengthAdjust="spacingAndGlyphs" >11,50</text>
<path d="M1913,1002.0 h44 a3,3 0 0 1 3,3 v11 a3,3 0 0 1 -3,3 h-44 z" fill="#ff0000"/>
<text x="1954.5" y="1014.0" font-size="12" fill="#fff" text-anchor="end" font-weight="normal" textLength="32" lengthAdjust="spacingAndGlyphs" >11,50</text>
<path d="M1913,1019.0 h44 a3,3 0 0 1 3,3 v11 a3,3 0 0 1 -3,3 h-44 z" fill="#00ff00"/>
<text x="1954.5" y="1031.0" font-size="12" fill="#000" text-anchor="end" font-weight="normal" textLength="32" lengthAdjust="spacingAndGlyphs" >11,50</text>
<path d="M1913,1036.0 h44 a3,3 0 0 1 3,3 v11 a3,3 0 0 1 -3,3 h-44 z" fill="#00ff00"/>
<text x="1954.5" y="1048.0" font-size="12" fill="#000" text-anchor="end" font-weight="normal" textLength="32" lengthAdjust="spacingAndGlyphs" >10,50</text>
<path d="M1913,1053.0 h44 a3,3 0 0 1 3,3 v11 a3,3 0 0 1 -3,3 h-44 z" fill="#000"/>
<text x="1954.5" y="1065.0" font-size="12" fill="#fff" text-anchor="end" font-weight="normal" textLength="32" lengthAdjust="spacingAndGlyphs" >10,50</text>
<path d="M1913,1070.0 h44 a3,3 0 0 1 3,3 v11 a3,3 0 0 1 -3,3 h-44 z" fill="#ff0000"/>
<text x="1954.5" y="1082.0" font-size="12" fill="#fff" text-anchor="end" font-weight="normal" textLength="32" lengthAdjust="spacingAndGlyphs" >10,50</text>
<path d="M1913,1087.0 h37 a3,3 0 0 1 3,3 v11 a3,3 0 0 1 -3,3 h-37 z" fill="#00ff00"/>
<text x="1947.5" y="1099.0" font-size="12" fill="#000" text-anchor="end" font-weight="normal" textLength="25" lengthAdjust="spacingAndGlyphs" >9,50</text>
<path d="M1913,1104.0 h37 a3,3 0 0 1 3,3 v11 a3,3 0 0 1 -3,3 h-37 z" fill="#ff0000"/>
<text x="1947.5" y="1116.0" font-size="12" fill="#fff" text-anchor="end" font-weight="normal" textLength="25" lengthAdjust="spacingAndGlyphs" >9,50</text>
<path d="M1913,1121.0 h37 a3,3 0 0 1 3,3 v11 a3,3 0 0 1 -3,3 h-37 z" fill="#000"/>
<text x="1947.5" y="1133.0" font-size="12" fill="#fff" text-anchor="end" font-weight="normal" textLength="25" lengthAdjust="spacingAndGlyphs" >8,50</text>
<path d="M1913,1138.0 h37 a3,3 0 0 1 3,3 v11 a3,3 0 0 1 -3,3 h-37 z" fill="#ff0000"/>
<text x="1947.5" y="1150.0" font-size="12" fill="#fff" text-anchor="end" font-weight="normal" textLength="25" lengthAdjust="spacingAndGlyphs" >8,50</text>
<path d="M1913,1155.0 h37 a3,3 0 0 1 3,3 v11 a3,3 0 0 1 -3,3 h-37 z" fill="#00ff00"/>
<text x="1947.5" y="1167.0" font-size="12" fill="#000" text-anchor="end" font-weight="normal" textLength="25" lengthAdjust="spacingAndGlyphs" >8,50</text>
<path d="M1913,1172.0 h37 a3,3 0 0 1 3,3 v11 a3,3 0 0 1 -3,3 h-37 z" fill="#000"/>
<text x="1947.5" y="1184.0" font-size="12" fill="#fff" text-anchor="end" font-weight="normal" textLength="25" lengthAdjust="spacingAndGlyphs" >7,50</text>
<path d="M1913,1189.0 h37 a3,3 0 0 1 3,3 v11 a3,3 0 0 1 -3,3 h-37 z" fill="#ff0000"/>
<text x="1947.5" y="1201.0" font-size="12" fill="#fff" text-anchor="end" font-weight="normal" textLength="25" lengthAdjust="spacingAndGlyphs" >7,50</text>
<path d="M1913,1206.0 h37 a3,3 0 0 1 3,3 v11 a3,3 0 0 1 -3,3 h-37 z" fill="#00ff00"/>
<text x="1947.5" y="1218.0" font-size="12" fill="#000" text-anchor="end" font-weight="normal" textLength="25" lengthAdjust="spacingAndGlyphs" >7,50</text>
<path d="M1876.4,351.1 h35.5 v16.9 h-35.5 a3.5,3.5 0 0 1 -3.5,-3.5 v-9.9 a3.5,3.5 0 0 1 3.5,-3.5 z" fill="#000"/>
<text x="1892.5" y="363.8" font-size="12" fill="#fff" text-anchor="middle" font-weight="normal" textLength="29" lengthAdjust="spacingAndGlyphs" >9880</text>
<g fill="#131313"><path d="M12,1273.2 h12.3 v14.4 h-6.3 v-8.9 h-6 z"/><circle cx="28.9" cy="1276.2" r="2.6"/><path d="M33.4,1273.2 h8.3 l-5.7,14.4 h-6.8 z"/></g>
<text x="49.2" y="1287.6" font-size="20" fill="#131313" text-anchor="start" font-weight="bold" textLength="120.5" lengthAdjust="spacingAndGlyphs" >TradingView</text>
</svg>
</body></html>
